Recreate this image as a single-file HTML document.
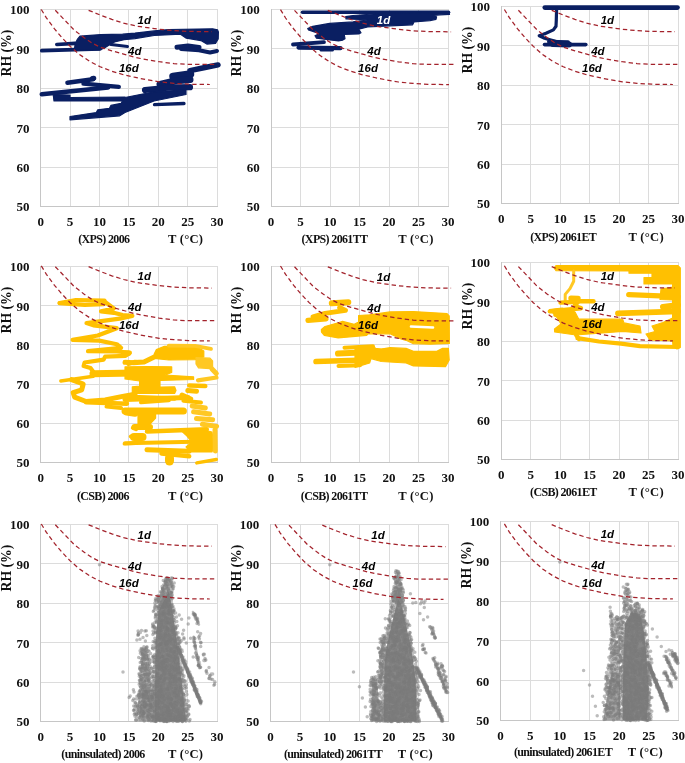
<!DOCTYPE html>
<html><head><meta charset="utf-8"><title>chart</title>
<style>
html,body{margin:0;padding:0;background:#fff;}
body{width:685px;height:763px;overflow:hidden;font-family:"Liberation Serif",serif;}
svg{display:block;position:absolute;left:0;top:0;will-change:transform;opacity:0.999}
.tk{font-family:"Liberation Serif",serif;font-weight:bold;font-size:13px;fill:#111;}
.ax{font-family:"Liberation Serif",serif;font-weight:bold;font-size:12.6px;fill:#111;letter-spacing:0.25px;}
.rh{font-family:"Liberation Serif",serif;font-weight:bold;font-size:13.7px;fill:#111;}
.tt{font-family:"Liberation Serif",serif;font-weight:bold;font-size:12px;fill:#111;letter-spacing:-0.65px;}
.lb{font-family:"Liberation Sans",sans-serif;font-weight:bold;font-style:italic;font-size:11.5px;}
</style></head><body>
<svg width="685" height="763" viewBox="0 0 685 763">
<path d="M70.5 9.0V207.0M99.5 9.0V207.0M128.5 9.0V207.0M158.5 9.0V207.0M187.5 9.0V207.0M217.5 9.0V207.0M40.0 9.5H218.0M40.0 48.5H218.0M40.0 88.5H218.0M40.0 127.5H218.0M40.0 167.5H218.0" stroke="#dcdcdc" stroke-width="1" fill="none" shape-rendering="crispEdges"/>
<path d="M40.5 9.0V207.0M40.0 206.5H218.0" stroke="#c6c6c6" stroke-width="1" fill="none" shape-rendering="crispEdges"/>
<path d="M300.5 9.0V207.0M330.5 9.0V207.0M359.5 9.0V207.0M389.5 9.0V207.0M418.5 9.0V207.0M448.5 9.0V207.0M271.0 9.5H449.0M271.0 48.5H449.0M271.0 88.5H449.0M271.0 127.5H449.0M271.0 167.5H449.0" stroke="#dcdcdc" stroke-width="1" fill="none" shape-rendering="crispEdges"/>
<path d="M271.5 9.0V207.0M271.0 206.5H449.0" stroke="#c6c6c6" stroke-width="1" fill="none" shape-rendering="crispEdges"/>
<path d="M530.5 6.0V204.0M560.5 6.0V204.0M589.5 6.0V204.0M619.5 6.0V204.0M648.5 6.0V204.0M678.5 6.0V204.0M501.0 6.5H679.0M501.0 45.5H679.0M501.0 85.5H679.0M501.0 124.5H679.0M501.0 164.5H679.0" stroke="#dcdcdc" stroke-width="1" fill="none" shape-rendering="crispEdges"/>
<path d="M501.5 6.0V204.0M501.0 203.5H679.0" stroke="#c6c6c6" stroke-width="1" fill="none" shape-rendering="crispEdges"/>
<path d="M70.5 266.0V463.0M99.5 266.0V463.0M128.5 266.0V463.0M158.5 266.0V463.0M187.5 266.0V463.0M217.5 266.0V463.0M40.0 266.5H218.0M40.0 305.5H218.0M40.0 344.5H218.0M40.0 384.5H218.0M40.0 423.5H218.0" stroke="#dcdcdc" stroke-width="1" fill="none" shape-rendering="crispEdges"/>
<path d="M40.5 266.0V463.0M40.0 462.5H218.0" stroke="#c6c6c6" stroke-width="1" fill="none" shape-rendering="crispEdges"/>
<path d="M300.5 266.0V463.0M330.5 266.0V463.0M359.5 266.0V463.0M389.5 266.0V463.0M418.5 266.0V463.0M448.5 266.0V463.0M271.0 266.5H449.0M271.0 305.5H449.0M271.0 344.5H449.0M271.0 384.5H449.0M271.0 423.5H449.0" stroke="#dcdcdc" stroke-width="1" fill="none" shape-rendering="crispEdges"/>
<path d="M271.5 266.0V463.0M271.0 462.5H449.0" stroke="#c6c6c6" stroke-width="1" fill="none" shape-rendering="crispEdges"/>
<path d="M530.5 262.0V460.0M560.5 262.0V460.0M589.5 262.0V460.0M619.5 262.0V460.0M648.5 262.0V460.0M678.5 262.0V460.0M501.0 262.5H679.0M501.0 301.5H679.0M501.0 341.5H679.0M501.0 380.5H679.0M501.0 420.5H679.0" stroke="#dcdcdc" stroke-width="1" fill="none" shape-rendering="crispEdges"/>
<path d="M501.5 262.0V460.0M501.0 459.5H679.0" stroke="#c6c6c6" stroke-width="1" fill="none" shape-rendering="crispEdges"/>
<path d="M70.5 524.0V722.0M99.5 524.0V722.0M128.5 524.0V722.0M158.5 524.0V722.0M187.5 524.0V722.0M217.5 524.0V722.0M40.0 524.5H218.0M40.0 563.5H218.0M40.0 603.5H218.0M40.0 642.5H218.0M40.0 682.5H218.0" stroke="#dcdcdc" stroke-width="1" fill="none" shape-rendering="crispEdges"/>
<path d="M40.5 524.0V722.0M40.0 721.5H218.0" stroke="#c6c6c6" stroke-width="1" fill="none" shape-rendering="crispEdges"/>
<path d="M300.5 524.0V722.0M329.5 524.0V722.0M359.5 524.0V722.0M389.5 524.0V722.0M418.5 524.0V722.0M448.5 524.0V722.0M270.0 524.5H449.0M270.0 563.5H449.0M270.0 603.5H449.0M270.0 642.5H449.0M270.0 682.5H449.0" stroke="#dcdcdc" stroke-width="1" fill="none" shape-rendering="crispEdges"/>
<path d="M270.5 524.0V722.0M270.0 721.5H449.0" stroke="#c6c6c6" stroke-width="1" fill="none" shape-rendering="crispEdges"/>
<path d="M530.5 521.0V721.0M559.5 521.0V721.0M589.5 521.0V721.0M619.5 521.0V721.0M648.5 521.0V721.0M678.5 521.0V721.0M500.0 521.5H679.0M500.0 561.5H679.0M500.0 601.5H679.0M500.0 640.5H679.0M500.0 680.5H679.0" stroke="#dcdcdc" stroke-width="1" fill="none" shape-rendering="crispEdges"/>
<path d="M500.5 521.0V721.0M500.0 720.5H679.0" stroke="#c6c6c6" stroke-width="1" fill="none" shape-rendering="crispEdges"/>
<path d="M41.8 50.6L100.0 48.8" fill="none" stroke="#0a1f62" stroke-width="3.8" stroke-linecap="round" stroke-linejoin="round"/>
<path d="M56.8 44.5L75.0 43.4" fill="none" stroke="#0a1f62" stroke-width="3.6" stroke-linecap="round" stroke-linejoin="round"/>
<path d="M74.4 49.6L75.2 43.5L77.3 39.4L80.0 36.2L100.7 34.6L122.6 34.2L135.0 33.1L154.2 30.9L168.8 29.5L212.6 28.8L217.5 29.8L218.4 32.0L218.2 39.0L215.5 43.4L206.8 44.1L200.9 40.6L186.3 38.2L180.5 34.2L154.2 35.5L135.0 38.6L124.0 39.7L114.6 41.9L110.9 44.1L103.6 48.5L99.2 49.9Z" fill="#0a1f62" stroke="#0a1f62" stroke-width="1.2" stroke-linejoin="round"/>
<path d="M111.0 44.6L127.5 46.5" fill="none" stroke="#0a1f62" stroke-width="3.0" stroke-linecap="round" stroke-linejoin="round"/>
<path d="M177.0 47.3L188.0 46.0L199.0 47.5" fill="none" stroke="#0a1f62" stroke-width="5" stroke-linecap="round" stroke-linejoin="round"/>
<path d="M181.0 49.0L199.0 50.2L210.0 52.5L217.0 51.0" fill="none" stroke="#0a1f62" stroke-width="4" stroke-linecap="round" stroke-linejoin="round"/>
<path d="M218.0 64.9L205.0 67.5L190.0 70.6" fill="none" stroke="#0a1f62" stroke-width="5.4" stroke-linecap="round" stroke-linejoin="round"/>
<path d="M173.0 76.4L190.5 74.0" fill="none" stroke="#0a1f62" stroke-width="7.5" stroke-linecap="round" stroke-linejoin="round"/>
<path d="M160.0 84.5L175.0 81.0L190.0 79.5" fill="none" stroke="#0a1f62" stroke-width="7" stroke-linecap="round" stroke-linejoin="round"/>
<path d="M145.0 90.0L170.0 87.5L190.0 87.2" fill="none" stroke="#0a1f62" stroke-width="6.2" stroke-linecap="round" stroke-linejoin="round"/>
<path d="M125.0 97.5L154.0 91.8L186.0 89.8L186.0 94.5L154.0 101.0L125.0 112.5L119.7 115.8L70.0 119.8L70.0 116.5L96.3 112.6L97.8 109.8L109.5 108.3L110.9 105.4L121.1 103.3L122.6 101.0L54.0 101.0L53.2 94.5L70.0 95.0L70.0 97.5L125.0 97.0Z" fill="#0a1f62" stroke="#0a1f62" stroke-width="1.2" stroke-linejoin="round"/>
<path d="M154.5 104.7L184.0 103.5" fill="none" stroke="#0a1f62" stroke-width="3.3" stroke-linecap="round" stroke-linejoin="round"/>
<path d="M67.5 82.8L93.0 79.3" fill="none" stroke="#0a1f62" stroke-width="4.6" stroke-linecap="round" stroke-linejoin="round"/>
<path d="M92.5 78.4L93.8 78.2" fill="none" stroke="#0a1f62" stroke-width="5" stroke-linecap="round" stroke-linejoin="round"/>
<path d="M83.5 83.6L118.8 86.9" fill="none" stroke="#0a1f62" stroke-width="4.4" stroke-linecap="round" stroke-linejoin="round"/>
<path d="M41.8 94.2L108.0 87.5" fill="none" stroke="#0a1f62" stroke-width="4.6" stroke-linecap="round" stroke-linejoin="round"/>
<path d="M302.5 12.3L448.5 12.3" fill="none" stroke="#0a1f62" stroke-width="3.6" stroke-linecap="round" stroke-linejoin="round"/>
<path d="M345.7 16.6L353.0 15.5L380.0 13.5L449.0 12.5L449.5 14.3L440.0 14.8L431.0 15.6L436.6 16.8L436.0 19.3L430.0 20.6L414.0 21.9L412.6 24.8L379.0 26.3L367.6 27.0L358.8 29.2L361.0 32.8L358.8 33.9L344.2 34.3L345.0 38.7L342.8 40.1L338.4 40.9L316.5 38.2L315.0 35.8L319.4 33.6L308.5 29.9L307.7 28.5L312.8 26.3L329.6 23.4L353.0 21.9L367.6 19.9L360.0 19.5L346.0 18.8Z" fill="#0a1f62" stroke="#0a1f62" stroke-width="1.2" stroke-linejoin="round"/>
<path d="M293.0 44.5L324.0 42.2" fill="none" stroke="#0a1f62" stroke-width="3.8" stroke-linecap="round" stroke-linejoin="round"/>
<path d="M298.5 47.6L340.5 48.2" fill="none" stroke="#0a1f62" stroke-width="4.2" stroke-linecap="round" stroke-linejoin="round"/>
<path d="M321.0 50.3L332.5 50.3" fill="none" stroke="#0a1f62" stroke-width="2.6" stroke-linecap="round" stroke-linejoin="round"/>
<path d="M544.8 7.6L677.5 7.6" fill="none" stroke="#0a1f62" stroke-width="4.7" stroke-linecap="round" stroke-linejoin="round"/>
<path d="M556.6 9.0L556.3 20.0L556.0 26.3L553.4 29.9L546.0 33.3L539.2 35.8L544.6 38.2L556.3 41.6" fill="none" stroke="#0a1f62" stroke-width="3.2" stroke-linecap="round" stroke-linejoin="round"/>
<path d="M544.5 44.6L585.8 44.6" fill="none" stroke="#0a1f62" stroke-width="3.6" stroke-linecap="round" stroke-linejoin="round"/>
<path d="M549.0 41.8L568.0 42.2" fill="none" stroke="#0a1f62" stroke-width="4" stroke-linecap="round" stroke-linejoin="round"/>
<path d="M553.0 44.0L569.0 44.5" fill="none" stroke="#0a1f62" stroke-width="6" stroke-linecap="round" stroke-linejoin="round"/>
<path d="M59.6 303.0L75.9 300.0L104.5 300.6" fill="none" stroke="#ffc000" stroke-width="4.2" stroke-linecap="round" stroke-linejoin="round"/>
<path d="M59.6 303.2L84.6 304.9L103.6 304.2L105.1 301.9L113.8 308.5L101.0 311.4L113.8 312.8L122.6 315.0L132.4 315.9L119.7 318.7L86.5 323.1L93.4 325.3L116.8 328.2L97.8 335.5L72.6 339.9L99.2 340.6L116.8 344.2L121.1 347.9L88.0 351.2L116.8 351.5L129.9 352.7L125.5 355.9L105.1 356.6L103.6 359.6L84.6 362.5L83.6 366.1L90.5 368.0L93.4 372.0" fill="none" stroke="#ffc000" stroke-width="4.2" stroke-linecap="round" stroke-linejoin="round"/>
<path d="M128.4 363.9L135.0 361.8L144.0 362.0" fill="none" stroke="#ffc000" stroke-width="4.2" stroke-linecap="round" stroke-linejoin="round"/>
<path d="M93.0 373.8L135.0 373.0" fill="none" stroke="#ffc000" stroke-width="7" stroke-linecap="round" stroke-linejoin="round"/>
<path d="M60.8 381.0L93.4 376.2" fill="none" stroke="#ffc000" stroke-width="3.4" stroke-linecap="round" stroke-linejoin="round"/>
<path d="M71.5 379.6L83.2 384.0L81.7 389.8L73.2 392.7L74.6 397.1L86.1 401.5L105.1 400.0L122.6 396.4L135.0 394.2" fill="none" stroke="#ffc000" stroke-width="5" stroke-linecap="round" stroke-linejoin="round"/>
<path d="M86.1 402.3L127.0 403.7" fill="none" stroke="#ffc000" stroke-width="4.4" stroke-linecap="round" stroke-linejoin="round"/>
<path d="M106.5 406.6L121.1 408.1" fill="none" stroke="#ffc000" stroke-width="4" stroke-linecap="round" stroke-linejoin="round"/>
<path d="M126.5 412.0L135.0 413.2" fill="none" stroke="#ffc000" stroke-width="7" stroke-linecap="round" stroke-linejoin="round"/>
<path d="M132.8 428.0L136.0 429.2" fill="none" stroke="#ffc000" stroke-width="4" stroke-linecap="round" stroke-linejoin="round"/>
<path d="M130.8 436.5L136.0 436.5" fill="none" stroke="#ffc000" stroke-width="4" stroke-linecap="round" stroke-linejoin="round"/>
<path d="M124.4 443.8L135.0 443.1" fill="none" stroke="#ffc000" stroke-width="3.6" stroke-linecap="round" stroke-linejoin="round"/>
<path d="M154.2 354.0L156.4 349.6L164.4 346.3L195.0 345.8L203.8 351.0L203.8 356.9L195.0 359.6L168.8 360.0L154.2 358.4Z" fill="#ffc000" stroke="#ffc000" stroke-width="1.2" stroke-linejoin="round"/>
<path d="M168.8 345.6L195.0 345.8L211.0 348.8" fill="none" stroke="#ffc824" stroke-width="3.8" stroke-linecap="round" stroke-linejoin="round"/>
<path d="M196.0 357.5L210.0 358.2L212.6 361.0L212.6 367.5L210.0 368.6L198.5 367.8L196.0 364.0Z" fill="#ffc824" stroke="#ffc824" stroke-width="1.2" stroke-linejoin="round"/>
<path d="M212.0 369.0L216.3 373.5" fill="none" stroke="#ffc824" stroke-width="5" stroke-linecap="round" stroke-linejoin="round"/>
<path d="M154.2 356.9L144.0 362.0L133.8 362.7L125.0 362.3" fill="none" stroke="#ffc000" stroke-width="5" stroke-linecap="round" stroke-linejoin="round"/>
<path d="M125.0 353.2L128.5 353.2" fill="none" stroke="#ffc000" stroke-width="5.5" stroke-linecap="round" stroke-linejoin="round"/>
<path d="M125.0 366.8L150.0 366.6L171.7 366.8L171.7 372.5L165.0 375.0L193.6 376.8L193.6 379.5L160.0 380.5L160.0 387.0L174.6 386.8L176.0 390.5L174.6 393.4L132.3 393.4L132.3 386.8L139.6 386.0L139.6 381.0L125.0 379.0Z" fill="#ffc000" stroke="#ffc000" stroke-width="1.2" stroke-linejoin="round"/>
<path d="M198.0 380.3L216.5 377.5" fill="none" stroke="#ffc824" stroke-width="4.2" stroke-linecap="round" stroke-linejoin="round"/>
<path d="M189.2 385.4L205.3 386.1" fill="none" stroke="#ffc000" stroke-width="4.5" stroke-linecap="round" stroke-linejoin="round"/>
<path d="M187.8 390.5L196.5 391.2" fill="none" stroke="#ffc000" stroke-width="5" stroke-linecap="round" stroke-linejoin="round"/>
<path d="M182.0 395.0L190.7 399.0" fill="none" stroke="#ffc000" stroke-width="5" stroke-linecap="round" stroke-linejoin="round"/>
<path d="M125.0 396.8L174.6 398.5" fill="none" stroke="#ffc000" stroke-width="4.5" stroke-linecap="round" stroke-linejoin="round"/>
<path d="M125.0 399.6L187.8 397.4" fill="none" stroke="#ffc000" stroke-width="5" stroke-linecap="round" stroke-linejoin="round"/>
<path d="M141.0 402.3L168.8 400.3" fill="none" stroke="#ffc000" stroke-width="4" stroke-linecap="round" stroke-linejoin="round"/>
<path d="M183.4 400.8L201.0 402.5" fill="none" stroke="#ffc000" stroke-width="4" stroke-linecap="round" stroke-linejoin="round"/>
<path d="M125.0 411.0L183.4 411.0" fill="none" stroke="#ffc000" stroke-width="7" stroke-linecap="round" stroke-linejoin="round"/>
<path d="M138.0 411.0L155.6 411.0L155.6 418.0L150.0 424.0L138.0 424.0Z" fill="#ffc000" stroke="#ffc000" stroke-width="1.2" stroke-linejoin="round"/>
<path d="M134.5 427.0L150.0 427.0" fill="none" stroke="#ffc000" stroke-width="6" stroke-linecap="round" stroke-linejoin="round"/>
<path d="M147.0 431.5L206.8 429.3" fill="none" stroke="#ffc000" stroke-width="4.5" stroke-linecap="round" stroke-linejoin="round"/>
<path d="M134.0 437.0L142.5 437.0" fill="none" stroke="#ffc000" stroke-width="8" stroke-linecap="round" stroke-linejoin="round"/>
<path d="M125.0 443.2L193.6 441.7" fill="none" stroke="#ffc000" stroke-width="4" stroke-linecap="round" stroke-linejoin="round"/>
<path d="M180.5 430.0L200.0 429.0L212.0 432.0L214.0 445.0L212.0 452.0L190.0 452.0L186.0 447.0L192.0 442.0L187.0 436.0Z" fill="#ffc000" stroke="#ffc000" stroke-width="1.2" stroke-linejoin="round"/>
<path d="M147.0 449.7L189.2 451.2" fill="none" stroke="#ffc000" stroke-width="5" stroke-linecap="round" stroke-linejoin="round"/>
<path d="M161.5 453.4L189.2 456.3" fill="none" stroke="#ffc000" stroke-width="4.5" stroke-linecap="round" stroke-linejoin="round"/>
<path d="M169.5 458.0L169.5 461.0" fill="none" stroke="#ffc000" stroke-width="9" stroke-linecap="round" stroke-linejoin="round"/>
<path d="M196.8 462.9L216.3 459.5" fill="none" stroke="#ffc000" stroke-width="3.5" stroke-linecap="round" stroke-linejoin="round"/>
<path d="M192.2 406.0L205.3 408.0" fill="none" stroke="#ffc824" stroke-width="5" stroke-linecap="round" stroke-linejoin="round"/>
<path d="M193.6 411.8L209.7 414.0" fill="none" stroke="#ffc824" stroke-width="5" stroke-linecap="round" stroke-linejoin="round"/>
<path d="M196.5 418.4L212.6 419.8" fill="none" stroke="#ffc824" stroke-width="5" stroke-linecap="round" stroke-linejoin="round"/>
<path d="M202.4 424.2L216.6 426.4" fill="none" stroke="#ffc824" stroke-width="5" stroke-linecap="round" stroke-linejoin="round"/>
<path d="M215.0 430.0L215.3 451.0" fill="none" stroke="#ffc824" stroke-width="5" stroke-linecap="round" stroke-linejoin="round"/>
<path d="M331.8 303.3L348.3 302.3" fill="none" stroke="#ffc000" stroke-width="6" stroke-linecap="round" stroke-linejoin="round"/>
<path d="M339.6 307.5L345.5 310.4L325.0 313.4L313.0 316.8" fill="none" stroke="#ffc000" stroke-width="4.8" stroke-linecap="round" stroke-linejoin="round"/>
<path d="M308.0 320.4L326.0 318.8" fill="none" stroke="#ffc000" stroke-width="5.2" stroke-linecap="round" stroke-linejoin="round"/>
<path d="M312.0 315.5L325.0 316.0L327.0 320.0L313.0 321.5Z" fill="#ffc000" stroke="#ffc000" stroke-width="1.2" stroke-linejoin="round"/>
<path d="M321.4 329.4L325.0 326.5L338.2 322.8L342.6 321.4L354.2 324.3L358.6 322.0L358.6 315.5L369.6 314.8L390.0 311.9L413.4 311.6L447.0 313.6L449.2 316.0L449.4 343.4L430.0 344.2L413.4 343.6L406.0 340.3L401.0 339.0L390.0 333.8L368.0 333.8L366.7 335.3L338.2 337.9L324.3 335.3L321.5 332.0Z" fill="#ffc000" stroke="#ffc000" stroke-width="1.2" stroke-linejoin="round"/>
<path d="M411.0 326.5L433.0 327.5" fill="none" stroke="#fff" stroke-width="2.6" stroke-linecap="round" stroke-linejoin="round"/>
<path d="M349.5 319.3L357.4 319.0L357.4 320.8L353.0 321.8Z" fill="#fff" stroke="#fff" stroke-width="1.2" stroke-linejoin="round"/>
<path d="M344.5 347.7L373.0 346.3" fill="none" stroke="#ffc000" stroke-width="4" stroke-linecap="round" stroke-linejoin="round"/>
<path d="M338.0 353.5L390.0 351.3" fill="none" stroke="#ffc000" stroke-width="6" stroke-linecap="round" stroke-linejoin="round"/>
<path d="M316.0 361.6L365.9 360.0" fill="none" stroke="#ffc000" stroke-width="5.5" stroke-linecap="round" stroke-linejoin="round"/>
<path d="M338.5 365.9L360.0 365.2" fill="none" stroke="#ffc000" stroke-width="4" stroke-linecap="round" stroke-linejoin="round"/>
<path d="M355.0 347.7L374.0 346.2L375.4 348.4L381.3 349.1L390.0 347.7L406.1 348.4L413.4 351.3L436.8 351.3L442.6 348.4L448.4 348.4L449.2 360.0L445.5 366.6L413.4 365.9L406.1 363.0L381.3 361.5L371.0 358.6L369.6 363.0L355.0 367.4Z" fill="#ffc000" stroke="#ffc000" stroke-width="1.2" stroke-linejoin="round"/>
<path d="M556.0 265.6L678.0 265.6L680.3 268.0L680.3 347.5L677.0 349.0L673.0 346.0L672.6 341.0L650.0 340.0L646.0 334.0L655.0 331.5L652.0 326.0L663.0 322.5L672.6 318.0L672.6 300.0L660.0 299.5L661.0 289.0L672.6 287.0L672.6 284.0L644.0 284.0L644.0 277.6L652.0 277.6L652.0 273.2L629.0 273.2L629.0 271.0L556.0 270.6L554.0 268.0Z" fill="#ffc000" stroke="#ffc000" stroke-width="1.2" stroke-linejoin="round"/>
<path d="M573.7 271.0L573.7 281.3L570.0 288.6L565.2 294.4L565.2 300.3" fill="none" stroke="#ffc824" stroke-width="3" stroke-linecap="round" stroke-linejoin="round"/>
<path d="M571.0 298.3L578.0 298.5" fill="none" stroke="#ffc000" stroke-width="5.4" stroke-linecap="round" stroke-linejoin="round"/>
<path d="M576.0 301.2L593.4 301.2" fill="none" stroke="#ffc000" stroke-width="4.6" stroke-linecap="round" stroke-linejoin="round"/>
<path d="M560.5 302.6L578.0 301.8L574.4 306.1L581.0 308.2L549.8 311.4L573.0 310.5L555.4 314.9L573.0 317.8" fill="none" stroke="#ffc000" stroke-width="4.4" stroke-linecap="round" stroke-linejoin="round"/>
<path d="M549.5 309.5L562.0 308.0L575.0 312.0L578.8 319.2L622.6 319.2L624.0 322.9L640.0 326.0L641.0 333.0L622.6 331.4L575.9 335.0L554.7 332.0L554.5 329.0L561.0 324.0L556.0 316.0Z" fill="#ffc000" stroke="#ffc000" stroke-width="1.2" stroke-linejoin="round"/>
<path d="M577.5 338.2L599.0 341.5L621.0 343.6L640.0 346.2L678.0 347.0" fill="none" stroke="#ffc000" stroke-width="4.2" stroke-linecap="round" stroke-linejoin="round"/>
<path d="M576.2 335.0L579.0 339.0" fill="none" stroke="#ffc000" stroke-width="4.4" stroke-linecap="round" stroke-linejoin="round"/>
<path d="M628.8 294.6L678.0 296.6" fill="none" stroke="#ffc000" stroke-width="5.4" stroke-linecap="round" stroke-linejoin="round"/>
<path d="M618.0 313.4L678.0 311.4" fill="none" stroke="#ffc000" stroke-width="5.8" stroke-linecap="round" stroke-linejoin="round"/>
<path d="M663.0 307.0L678.0 305.0" fill="none" stroke="#ffc000" stroke-width="6" stroke-linecap="round" stroke-linejoin="round"/>
<path d="M168.9 591.5L158.3 611.2L155.4 642.7L154.8 721.5L185.9 721.5L181.8 682.1L177.1 642.7L171.8 607.2Z" fill="#7a7a7a" fill-opacity="0.9"/>
<path d="M177.7 647.4L200.6 702.6" stroke="#7a7a7a" stroke-width="3.4" stroke-linecap="round" stroke-opacity="0.85" fill="none"/>
<path d="M193.6 636.8L198.9 666.3" stroke="#7a7a7a" stroke-width="2.6" stroke-linecap="round" stroke-opacity="0.5" fill="none"/>
<path d="M193.0 612.0L198.9 624.6" stroke="#7a7a7a" stroke-width="2.6" stroke-linecap="round" stroke-opacity="0.5" fill="none"/>
<path d="M142.4 690.0L138.3 721.5L154.8 721.5L154.8 690.0Z" fill="#7a7a7a" fill-opacity="0.7"/>
<path d="M148.4 655.6h0M185.3 700.1h0M176.2 720.7h0M143.6 651.5h0M185.8 721.3h0M179.8 709.7h0M177.1 718.8h0M178.0 669.2h0M170.7 598.3h0M173.5 631.8h0M169.4 714.3h0M140.1 694.3h0M165.9 612.1h0M156.6 621.5h0M153.9 626.6h0M159.7 669.0h0M145.7 653.9h0M178.7 721.0h0M159.2 653.5h0M147.4 663.4h0M152.8 645.8h0M180.0 711.9h0M154.4 720.0h0M161.2 662.2h0M165.5 661.6h0M185.6 712.2h0M153.3 708.0h0M147.1 650.8h0M158.2 692.2h0M147.8 679.9h0M162.3 613.2h0M159.8 633.2h0M145.6 701.9h0M139.0 673.8h0M136.9 639.9h0M165.5 634.4h0M165.2 673.3h0M175.9 639.7h0M162.1 666.7h0M145.4 689.8h0M144.3 648.3h0M176.6 654.2h0M175.7 666.6h0M130.2 695.9h0M163.8 595.0h0M139.8 667.9h0M150.0 690.7h0M162.5 656.2h0M144.0 665.0h0M178.6 637.9h0M149.2 659.4h0M147.3 697.6h0M175.3 688.5h0M208.9 678.5h0M147.1 651.4h0M156.4 666.5h0M141.0 667.8h0M181.3 698.3h0M134.0 691.9h0M160.2 664.0h0M167.5 678.7h0M168.8 702.6h0M167.8 623.1h0M146.6 651.4h0M155.9 718.7h0M163.3 598.8h0M176.8 648.5h0M140.2 708.9h0M154.9 638.2h0M180.2 716.0h0M166.3 706.0h0M173.7 586.4h0M155.7 606.2h0M165.1 659.7h0M149.1 679.8h0M162.3 593.0h0M163.0 702.8h0M184.7 714.8h0M161.8 683.2h0M157.1 656.1h0M170.5 717.8h0M149.1 713.6h0M172.6 611.1h0M140.4 690.2h0M155.4 659.6h0M149.2 719.6h0M158.2 608.4h0M146.0 685.1h0M183.6 705.5h0M167.2 629.0h0M198.7 637.0h0M161.9 617.5h0M162.2 720.2h0M159.6 683.4h0M171.3 667.7h0M169.3 674.5h0M166.8 600.0h0M178.3 640.5h0M171.7 714.0h0M169.8 685.6h0M155.0 718.3h0M148.8 657.7h0M161.8 670.0h0M148.1 650.6h0M160.8 667.0h0M142.3 665.3h0M157.9 697.6h0M174.5 656.4h0M177.1 719.6h0M162.6 695.0h0M182.7 679.2h0M210.9 679.0h0M179.6 670.9h0M174.9 651.7h0M142.0 696.7h0M165.3 639.2h0M200.6 642.2h0M166.5 689.1h0M184.2 663.1h0M193.8 684.9h0M151.2 706.5h0M168.0 612.9h0M158.0 667.1h0M187.8 708.5h0M151.1 704.6h0M147.1 692.8h0M144.0 705.8h0M173.3 614.3h0M177.2 672.2h0M175.6 701.7h0M167.3 705.6h0M151.0 668.7h0M166.2 581.7h0M168.5 593.2h0M183.5 694.5h0M158.3 681.0h0M183.2 680.1h0M176.7 658.7h0M184.2 665.7h0M156.0 642.7h0M158.4 614.7h0M173.5 677.1h0M170.5 625.0h0M154.6 607.5h0M190.6 638.3h0M152.5 698.3h0M172.7 620.0h0M146.9 662.9h0M183.7 676.7h0M185.6 663.2h0M143.7 656.4h0M162.7 691.6h0M145.1 668.9h0M145.2 666.7h0M143.1 711.5h0M143.4 683.6h0M196.4 654.3h0M200.0 702.2h0M159.6 708.4h0M170.9 592.5h0M146.6 687.6h0M177.3 663.7h0M184.0 639.1h0M163.5 720.9h0M157.3 668.4h0M173.5 632.1h0M162.1 716.8h0M191.7 681.2h0M167.2 712.0h0M152.9 674.9h0M173.0 717.4h0M146.1 683.9h0M141.2 684.7h0M182.0 669.9h0M144.2 701.9h0M168.2 712.1h0M151.7 677.1h0M157.4 657.3h0M174.5 669.8h0M182.4 719.8h0M171.0 698.6h0M155.1 667.4h0M140.1 697.6h0M143.1 694.7h0M143.3 681.9h0M172.4 684.2h0M184.6 708.9h0M189.8 674.4h0M182.1 662.4h0M165.5 634.4h0M145.1 659.2h0M146.8 705.0h0M196.2 692.7h0M198.4 665.3h0M160.1 720.6h0M176.1 672.2h0M142.3 655.0h0M188.7 713.9h0M163.2 594.5h0M156.6 681.7h0M144.4 687.9h0M184.7 719.9h0M147.5 717.8h0M154.3 680.2h0M153.5 656.3h0M165.4 581.1h0M174.4 704.8h0M145.3 668.9h0M159.9 716.7h0M169.2 600.3h0M159.6 598.6h0M140.4 708.1h0M147.2 689.6h0M160.4 644.0h0M176.5 686.8h0M166.1 585.4h0M179.0 666.4h0M159.7 678.6h0M143.1 652.5h0M166.0 625.7h0M179.4 678.9h0M196.4 692.2h0M180.0 642.4h0M147.2 662.7h0M171.0 678.5h0M181.5 674.6h0M171.7 648.7h0M143.8 657.4h0M157.1 599.1h0M177.4 718.1h0M161.7 660.9h0M143.9 677.1h0M176.3 685.4h0M144.8 674.4h0M170.0 580.2h0M168.3 716.1h0M188.4 674.1h0M153.3 685.5h0M173.9 635.4h0M177.6 700.3h0M159.7 630.3h0M161.0 603.7h0M159.7 597.6h0M158.1 718.4h0M161.2 600.7h0M157.2 693.1h0M180.0 652.4h0M199.6 700.6h0M137.8 697.8h0M154.3 716.6h0M158.4 669.2h0M190.0 674.5h0M133.7 705.9h0M165.3 614.0h0M165.8 582.2h0M156.8 686.8h0M196.3 692.8h0M171.8 676.5h0M179.0 653.6h0M164.8 606.4h0M186.0 711.5h0M191.9 678.4h0M147.8 710.5h0M162.7 589.4h0M199.4 697.6h0M145.6 651.5h0M155.4 616.5h0M155.4 721.2h0M178.1 664.1h0M159.1 624.6h0M187.0 719.8h0M153.1 630.9h0M164.4 660.0h0M154.4 711.4h0M165.1 610.2h0M170.3 702.6h0M166.0 704.9h0M179.4 652.0h0M192.4 678.3h0M162.4 688.7h0M159.1 718.4h0M168.0 587.7h0M141.9 667.4h0M203.9 660.6h0M165.0 642.6h0M157.1 714.4h0M160.8 717.3h0M185.6 715.9h0M146.2 693.1h0M153.1 720.9h0M139.3 704.7h0M167.7 595.3h0M180.9 698.8h0M175.9 699.9h0M170.8 619.0h0M147.3 651.5h0M187.6 700.7h0M192.4 681.3h0M171.1 711.6h0M149.6 709.3h0M161.1 605.8h0M147.4 668.6h0M175.1 695.6h0M174.9 664.2h0M158.4 630.3h0M169.0 655.5h0M159.1 637.7h0M178.3 716.4h0M180.1 672.3h0M141.8 651.0h0M161.2 682.5h0M164.3 612.5h0M148.4 665.5h0M154.3 662.4h0M147.2 696.5h0M188.9 617.9h0M160.1 606.7h0M185.0 710.6h0M142.4 685.8h0M154.9 684.4h0M136.0 699.1h0M142.8 657.7h0M189.1 706.3h0M154.5 665.9h0M154.3 672.7h0M172.6 586.8h0M148.8 686.6h0M175.4 695.5h0M157.1 673.9h0M159.5 658.3h0M139.0 708.8h0M141.5 675.2h0M161.4 618.8h0M193.6 685.0h0M158.9 652.8h0M178.6 649.0h0M141.4 662.0h0M155.1 719.4h0M181.0 717.1h0M167.8 640.0h0M145.5 691.0h0M187.4 716.5h0M168.6 590.2h0M157.3 675.5h0M169.9 598.5h0M180.1 648.6h0M179.5 664.1h0M168.7 590.8h0M145.5 680.7h0M149.4 700.5h0M143.0 687.6h0M165.5 718.4h0M140.9 679.6h0M138.6 712.9h0M185.2 686.2h0M197.9 696.7h0M176.4 617.0h0M171.0 703.7h0M179.6 698.2h0M178.5 672.2h0M183.9 675.7h0M168.5 632.0h0M163.8 687.2h0M164.0 684.4h0M164.6 673.7h0M145.0 707.1h0M148.8 668.3h0M167.9 600.3h0M175.3 640.6h0M161.5 662.3h0M149.6 685.8h0M164.0 680.0h0M154.2 694.0h0M165.6 601.0h0M162.7 588.4h0M172.0 598.7h0M180.4 668.0h0M162.5 689.7h0M164.1 597.9h0M155.6 633.0h0M188.2 623.9h0M198.2 657.7h0M142.4 704.7h0M162.5 719.1h0M213.9 685.3h0M140.0 701.8h0M157.4 630.3h0M161.2 625.0h0M170.2 592.8h0M153.9 671.4h0M195.8 653.3h0M163.1 638.0h0M156.6 667.9h0M136.9 696.2h0M149.0 674.2h0M192.2 681.9h0M179.7 719.9h0M143.9 646.8h0M178.4 648.8h0M160.5 629.1h0M145.7 652.7h0M173.9 714.9h0M174.0 691.7h0M161.2 675.7h0M174.3 620.3h0M175.7 659.3h0M152.5 648.3h0M164.3 700.3h0M175.4 685.6h0M162.9 603.5h0M158.7 666.4h0M206.9 673.3h0M154.9 693.1h0M160.5 605.7h0M153.7 649.1h0M134.3 714.2h0M189.2 675.9h0M166.7 629.7h0M193.6 683.4h0M160.0 618.7h0M181.5 640.6h0M170.7 656.2h0M141.6 684.6h0M178.7 659.2h0M180.7 650.3h0M204.9 660.6h0M178.1 702.8h0M171.4 626.9h0M171.3 611.1h0M178.8 720.3h0M176.9 695.8h0M176.1 627.9h0M159.5 696.7h0M153.2 641.6h0M161.1 619.6h0M163.5 620.9h0M144.2 697.0h0M132.8 700.6h0M142.9 714.8h0M173.5 666.7h0M187.1 716.4h0M147.2 678.6h0M154.0 610.6h0M163.7 690.7h0M167.8 708.9h0M143.3 650.8h0M157.4 682.3h0M159.3 684.8h0M155.0 628.0h0M164.5 662.0h0M160.5 703.5h0M181.9 691.0h0M137.9 635.3h0M179.7 692.7h0M162.0 701.5h0M159.8 676.2h0M149.4 677.1h0M148.7 674.4h0M162.0 591.7h0M139.2 684.3h0M172.9 693.6h0M194.5 687.6h0M146.5 696.0h0M183.3 705.4h0M138.1 631.0h0M168.2 687.2h0M167.4 706.7h0M144.0 647.5h0M161.0 715.1h0M178.0 647.5h0M155.8 701.4h0M156.8 662.2h0M152.3 717.0h0M163.7 594.3h0M167.2 621.6h0M182.1 714.7h0M180.9 716.6h0M162.6 607.2h0M180.9 674.8h0M143.6 654.3h0M171.8 710.7h0M173.1 693.3h0M166.4 667.1h0M173.4 658.6h0M172.4 719.1h0M187.5 672.0h0M181.4 692.3h0M159.5 600.8h0M166.7 606.6h0M167.7 589.3h0M184.2 715.3h0M145.6 684.8h0M163.0 640.1h0M158.3 596.7h0M158.9 680.6h0M200.8 642.6h0M179.5 646.6h0M165.8 578.8h0M183.3 711.1h0M155.4 600.5h0M140.0 685.9h0M142.7 653.2h0M179.5 653.7h0M188.1 700.9h0M173.3 704.7h0M156.4 662.7h0M165.0 608.5h0M199.6 697.8h0M139.5 712.0h0M199.8 700.9h0M166.0 604.2h0M172.2 639.6h0M157.6 658.9h0M144.3 705.2h0M160.8 689.0h0M175.6 633.5h0M144.0 657.8h0M155.0 704.8h0M162.6 600.1h0M183.2 712.7h0M166.1 721.1h0M180.3 714.8h0M187.8 669.4h0M176.7 646.1h0M178.8 644.3h0M158.8 719.2h0M158.8 701.5h0M151.2 715.5h0M169.1 606.5h0M168.9 611.0h0M151.4 696.2h0M146.1 698.1h0M145.5 697.3h0M166.3 718.1h0M194.8 614.3h0M153.0 669.2h0M182.7 663.0h0M148.0 715.8h0M178.0 643.3h0M159.6 617.9h0M176.8 621.4h0M160.1 685.8h0M158.0 704.1h0M163.0 696.6h0M154.8 669.9h0M178.6 648.5h0M164.7 678.8h0M158.5 612.7h0M161.9 691.0h0M150.7 710.3h0M182.5 720.7h0M145.5 696.9h0M195.5 653.1h0M163.9 719.1h0M192.4 681.0h0M182.0 705.1h0M160.2 719.0h0M188.7 675.9h0M155.5 706.9h0M163.0 601.9h0M172.6 629.2h0M162.2 600.0h0M157.5 673.9h0M190.8 676.4h0M146.3 630.8h0M196.3 691.2h0M165.7 631.4h0M158.8 628.4h0M164.3 636.0h0M189.3 721.1h0M167.4 578.8h0M165.8 644.1h0M162.5 636.9h0M146.8 674.4h0M151.0 699.3h0M160.1 630.8h0M149.2 686.8h0M151.0 700.2h0M173.8 718.3h0M144.4 649.5h0M146.1 651.0h0M167.9 689.8h0M149.3 659.2h0M182.5 679.7h0M149.1 669.7h0M185.6 661.7h0M180.0 665.2h0M151.3 707.5h0M148.6 689.7h0M196.9 618.1h0M163.6 707.2h0M160.2 702.7h0M140.1 709.9h0M159.6 690.6h0M177.8 649.1h0M186.5 718.3h0M137.3 706.8h0M173.2 707.5h0M170.4 700.7h0M180.5 687.2h0M144.4 696.8h0M181.9 681.7h0M172.6 640.1h0M168.5 699.7h0M148.9 711.8h0M166.7 586.3h0M160.7 602.1h0M163.4 714.6h0M170.2 623.6h0" fill="none" stroke="#7a7a7a" stroke-width="3.5" stroke-linecap="round" stroke-opacity="0.5"/>
<path d="M140.8 712.6h0M158.2 597.5h0M177.9 643.2h0M171.0 690.9h0M200.7 646.6h0M149.4 663.6h0M190.4 680.1h0M161.9 655.9h0M144.9 696.4h0M159.7 653.9h0M159.8 608.9h0M168.2 592.9h0M173.1 677.9h0M159.6 699.9h0M147.8 696.2h0M152.7 716.7h0M189.8 678.0h0M166.2 643.1h0M166.2 719.8h0M145.7 647.9h0M195.4 648.3h0M142.5 684.6h0M123.0 671.9h0M160.4 720.0h0M162.6 649.8h0M160.7 662.3h0M155.1 605.4h0M183.5 702.6h0M161.0 634.7h0M171.8 593.2h0M170.9 592.9h0M170.7 583.8h0M180.5 672.4h0M158.3 695.4h0M142.6 711.8h0M160.4 599.4h0M182.1 688.3h0M151.4 696.8h0M139.0 696.4h0M129.1 697.6h0M141.1 658.4h0M168.0 695.4h0M196.5 657.4h0M144.1 662.1h0M163.5 627.5h0M181.8 697.5h0M143.5 713.5h0M143.8 659.4h0M153.8 697.7h0M161.7 689.0h0M153.7 633.1h0M184.1 719.6h0M144.2 713.0h0M133.5 710.3h0M179.6 691.6h0M170.7 604.7h0M159.9 657.6h0M170.2 717.9h0M137.5 705.5h0M175.8 662.4h0M158.5 714.4h0M146.1 693.0h0M156.6 622.5h0M155.5 598.8h0M168.5 630.1h0M183.0 656.9h0M199.1 662.2h0M180.2 700.5h0M187.8 670.4h0M171.7 583.8h0M158.4 692.3h0M182.3 656.7h0M181.9 720.6h0M140.3 683.0h0M191.9 679.5h0M155.6 671.8h0M171.1 586.2h0M144.9 707.1h0M177.3 720.1h0M181.6 619.3h0M165.0 710.3h0M188.2 672.3h0M149.8 678.4h0M169.3 710.4h0M167.1 617.7h0M165.1 581.7h0M150.3 707.6h0M142.7 719.1h0M163.8 674.0h0M169.0 623.0h0M142.1 685.4h0M173.1 612.1h0M164.5 680.4h0M176.1 658.5h0M164.7 601.6h0M161.1 622.6h0M164.8 711.5h0M154.4 687.1h0M161.5 689.2h0M158.5 612.2h0M181.8 721.0h0M144.2 699.7h0M170.0 592.8h0M147.2 716.3h0M164.2 598.8h0M168.1 589.8h0M152.9 671.4h0M154.8 714.5h0M194.4 646.2h0M143.0 666.8h0M171.7 606.5h0M169.0 692.9h0M143.6 670.2h0M157.6 679.2h0M174.1 654.0h0M162.5 650.8h0M174.7 680.8h0M167.5 581.1h0M155.7 714.0h0M160.6 691.8h0M167.7 654.6h0M162.4 612.8h0M149.5 682.3h0M167.0 584.5h0M197.8 695.0h0M170.5 716.3h0M148.4 700.5h0M142.7 689.7h0M176.6 637.7h0M155.9 717.0h0M171.2 600.1h0M169.3 695.3h0M178.9 712.1h0M143.5 669.3h0M180.5 720.4h0M185.0 681.4h0M145.4 640.9h0M158.0 651.0h0M163.2 651.8h0M165.8 601.4h0M176.2 711.7h0M164.2 665.8h0M199.6 667.8h0M163.1 713.9h0M179.1 660.6h0M162.5 604.6h0M169.5 670.5h0M156.3 673.7h0M163.5 596.6h0M173.5 707.2h0M182.1 686.8h0M178.5 697.4h0M178.5 698.3h0M168.2 596.5h0M162.4 642.3h0M166.5 714.4h0M165.6 595.7h0M163.1 671.3h0M158.8 718.4h0M158.4 694.5h0M161.3 655.4h0M145.3 698.5h0M161.7 675.7h0M145.5 668.0h0M197.2 696.3h0M165.8 587.4h0M163.1 639.3h0M155.5 675.9h0M197.5 620.7h0M158.9 645.4h0M176.8 635.8h0M155.8 686.5h0M154.5 662.0h0M176.9 697.2h0M166.3 714.1h0M150.9 704.7h0M143.3 696.4h0M139.3 676.3h0M152.9 714.4h0M194.5 685.7h0M164.9 629.9h0M165.8 707.0h0M143.0 661.9h0M143.4 689.5h0M171.2 601.3h0M175.2 644.0h0M170.1 690.0h0M141.2 696.3h0M156.6 657.1h0M170.0 683.4h0M172.9 705.1h0M161.2 595.0h0M140.8 681.4h0M153.9 704.0h0M164.2 721.3h0M175.9 688.5h0M163.8 720.6h0M140.1 650.7h0M168.8 708.1h0M164.1 588.8h0M165.7 665.7h0M161.7 662.7h0M143.7 706.3h0M179.1 715.0h0M171.9 675.8h0M166.3 659.7h0M143.9 664.7h0M179.9 641.7h0M173.8 624.2h0M145.6 663.3h0M143.6 692.9h0M163.0 668.6h0M163.7 719.8h0M158.3 717.4h0M141.5 706.1h0M144.0 717.3h0M157.5 632.6h0M171.0 637.5h0M157.0 694.0h0M179.8 715.9h0M170.7 651.6h0M144.9 693.1h0M142.1 708.1h0M180.8 710.7h0M140.9 691.5h0M153.7 627.1h0M196.9 689.5h0M186.0 711.0h0M162.4 702.5h0M169.3 613.3h0M156.9 660.3h0M159.0 607.8h0M197.7 631.8h0M192.6 684.8h0M197.3 695.6h0M149.1 662.4h0M171.7 699.1h0M158.4 665.3h0M152.9 625.2h0M174.0 670.9h0M176.2 694.8h0M149.5 674.2h0M146.8 653.7h0M148.4 718.1h0M154.6 657.6h0M175.9 668.4h0M174.9 708.0h0M170.4 648.9h0M158.0 716.8h0M168.2 579.9h0M162.6 651.4h0M178.5 714.3h0M145.5 674.7h0M158.4 713.1h0M164.0 593.2h0M150.2 684.0h0M168.1 697.6h0M160.6 678.2h0M154.1 681.3h0M175.2 711.8h0M167.8 642.1h0M171.0 720.5h0M141.5 683.6h0M166.4 719.4h0M158.5 601.3h0M170.6 703.8h0M166.0 716.6h0M155.5 695.1h0M171.0 596.9h0M169.3 721.0h0M158.9 653.0h0M166.5 673.9h0M173.4 719.7h0M167.8 594.5h0M172.2 639.0h0M174.8 702.4h0M214.6 684.2h0M167.9 597.3h0M173.1 674.1h0M168.9 719.7h0M159.2 615.0h0M136.4 720.3h0M164.4 586.1h0M185.9 709.0h0M160.0 720.7h0M155.4 689.8h0M172.4 632.1h0M169.7 680.2h0M166.0 594.5h0M166.8 596.9h0M162.1 611.7h0M167.6 636.9h0M147.5 670.7h0M162.0 605.1h0M164.8 588.3h0M175.6 656.8h0M141.8 679.3h0M172.1 594.8h0M140.1 666.7h0M160.6 698.8h0M170.9 622.5h0M199.6 664.4h0M147.3 672.3h0M144.8 682.8h0M150.9 720.9h0M197.0 623.5h0M168.2 653.8h0M194.9 638.6h0M161.4 599.9h0M148.5 720.6h0M136.6 714.3h0M163.0 699.2h0M173.3 628.7h0M173.9 651.4h0M146.5 696.0h0M164.2 662.0h0M187.3 670.6h0M200.6 633.6h0M149.5 671.1h0M182.7 717.0h0M142.9 694.1h0M169.0 629.1h0M135.6 720.3h0M170.5 674.2h0M160.4 596.5h0M175.5 647.3h0M144.7 689.6h0M146.1 704.5h0M198.3 665.7h0M183.7 694.6h0M166.6 711.9h0M99.5 564.7h0M171.6 665.1h0M170.7 640.5h0M142.3 652.7h0M173.9 653.4h0M159.4 694.9h0M176.3 678.9h0M148.9 711.3h0M139.3 717.4h0M185.4 719.0h0M162.0 718.3h0M182.6 659.6h0M140.8 686.8h0M162.0 720.7h0M162.4 614.2h0M143.2 701.6h0M142.9 696.7h0M165.1 714.6h0M173.1 611.3h0M196.0 689.5h0M169.4 629.7h0M171.1 595.2h0M165.9 695.4h0M194.9 614.6h0M165.8 583.6h0M166.9 582.6h0M142.0 713.1h0M192.1 679.9h0M142.9 712.1h0M173.6 630.4h0M158.1 713.0h0M193.0 681.3h0M163.8 662.8h0M174.3 622.5h0M178.5 720.9h0M190.7 680.9h0M159.2 653.6h0M158.4 678.4h0M165.4 633.7h0M173.5 708.8h0M181.4 713.3h0M168.2 645.7h0M177.0 711.1h0M137.0 704.1h0M144.5 681.9h0M193.9 614.6h0M178.6 650.8h0M141.5 669.4h0M141.6 649.3h0M159.5 634.9h0M161.7 653.3h0M174.6 676.4h0M168.3 641.9h0M165.9 595.5h0M152.9 657.2h0M181.6 655.6h0M162.1 603.9h0M168.5 634.9h0M169.1 712.0h0M177.2 717.2h0M155.9 696.6h0M166.4 661.2h0M199.7 635.6h0M172.4 616.3h0M197.5 696.7h0M198.5 695.3h0M167.1 578.5h0M157.8 619.1h0M168.6 589.1h0M175.4 716.8h0M146.6 677.7h0M148.2 680.3h0M153.7 699.7h0M172.0 583.0h0M183.4 662.3h0M183.0 681.0h0M142.2 693.1h0M145.6 669.2h0M151.1 714.7h0M153.8 676.8h0M177.8 686.8h0M152.4 698.9h0M163.5 593.9h0M143.3 694.6h0M194.2 689.6h0M176.2 632.8h0M172.1 606.8h0M179.6 650.5h0M158.0 707.6h0M159.6 699.5h0M175.4 703.0h0M157.4 718.0h0M182.2 721.4h0M171.0 622.5h0M174.3 660.8h0M179.0 649.4h0M167.2 721.4h0M178.5 679.5h0M156.0 615.3h0M179.2 686.0h0M138.7 694.3h0M173.8 710.0h0M147.9 684.8h0M174.1 669.3h0M197.8 694.4h0M182.9 679.9h0M164.3 607.7h0M185.5 665.3h0M142.7 664.8h0M183.0 697.0h0M194.7 642.5h0M173.6 610.4h0M178.7 709.6h0M147.9 696.3h0M144.2 656.7h0M163.9 706.8h0M183.1 659.9h0M149.0 674.9h0M139.9 680.4h0M155.7 647.8h0M141.4 677.9h0M158.6 660.6h0M141.6 696.6h0M140.8 687.2h0M169.1 717.2h0M155.0 705.2h0M144.8 706.4h0M181.1 706.6h0M143.3 649.9h0M143.8 664.9h0M180.3 651.9h0M145.9 671.0h0M175.1 682.0h0M150.1 704.9h0M152.9 706.4h0M150.9 696.4h0M179.2 653.1h0M158.8 660.6h0M161.1 631.1h0M192.4 682.2h0M175.8 627.4h0M198.2 659.8h0M171.9 634.5h0M162.6 589.2h0M156.7 709.5h0M183.9 637.8h0M144.7 686.3h0M171.9 626.3h0M182.2 699.3h0M193.2 657.1h0M145.5 691.1h0M142.5 653.7h0M177.9 716.4h0M145.0 681.8h0M168.3 651.8h0M167.4 659.6h0M177.5 625.7h0M159.3 656.4h0M148.0 710.5h0M171.4 615.1h0M144.2 652.1h0M143.4 666.8h0M158.0 681.9h0M144.5 674.2h0M182.6 675.8h0M180.6 667.2h0M177.2 704.5h0M203.5 655.0h0M145.5 665.5h0M192.0 683.2h0M160.5 612.5h0M169.2 636.4h0M162.1 666.2h0M141.0 708.2h0M156.8 702.6h0M175.1 675.5h0M168.7 585.0h0M143.0 637.5h0M168.3 595.4h0M172.5 638.8h0M174.9 643.7h0M178.6 715.7h0M162.3 667.5h0M147.5 658.7h0M163.9 665.0h0M160.4 637.9h0M161.9 626.7h0M145.8 676.2h0M166.7 584.4h0M166.4 587.1h0M165.2 619.6h0M167.6 608.0h0M160.5 604.5h0M158.4 703.3h0M171.4 657.1h0M165.1 668.7h0M158.0 606.7h0M180.9 689.0h0M160.5 600.8h0M175.3 681.8h0M141.6 710.6h0M139.8 690.7h0M166.8 710.1h0M178.8 708.7h0M155.6 599.2h0M200.7 703.8h0M140.1 681.2h0M143.6 662.9h0M159.8 634.4h0M144.5 659.5h0M171.7 630.5h0M172.3 706.4h0M163.8 598.8h0M174.2 583.1h0M165.7 602.3h0M142.2 694.6h0M186.1 684.8h0M154.6 628.2h0M161.8 720.1h0M154.4 711.6h0M156.2 721.2h0M158.8 655.8h0M144.5 660.0h0M156.6 702.0h0M200.9 642.7h0M141.3 684.8h0M141.3 667.6h0M141.8 686.5h0M164.4 705.2h0M193.3 614.1h0M157.0 713.4h0M171.0 593.9h0M146.8 673.7h0M147.8 699.3h0M163.8 592.0h0M168.9 581.9h0M181.9 719.1h0M169.7 635.3h0M160.7 695.6h0M141.0 671.5h0M140.0 669.1h0M151.7 668.3h0M174.6 692.4h0M172.8 675.7h0M160.7 719.1h0M167.5 684.0h0M152.0 690.2h0M164.5 599.8h0M169.2 583.0h0M157.3 656.6h0M164.9 696.0h0M146.6 657.3h0M143.5 655.0h0M154.5 704.9h0M146.3 655.8h0M164.5 601.5h0M166.1 645.9h0M145.3 657.0h0M195.6 688.5h0M165.3 581.3h0M167.1 604.1h0M171.7 603.8h0M167.0 627.8h0M166.6 648.2h0M137.8 711.7h0M170.2 714.0h0M165.4 694.2h0M163.6 716.8h0M185.0 716.5h0M159.2 603.0h0M166.2 582.3h0M172.7 612.5h0M169.0 691.8h0M142.3 666.5h0M204.4 654.3h0M148.4 700.5h0M160.1 644.2h0" fill="none" stroke="#7a7a7a" stroke-width="3.5" stroke-linecap="round" stroke-opacity="0.5"/>
<path d="M171.5 596.8h0M141.5 680.1h0M199.6 697.8h0M193.7 639.7h0M168.8 610.6h0M163.7 672.4h0M167.3 650.4h0M161.3 637.6h0M157.6 673.0h0M156.2 702.3h0M155.2 710.2h0M151.2 685.3h0M184.0 696.9h0M162.0 697.6h0M145.6 677.1h0M143.0 708.9h0M171.3 668.9h0M203.4 654.3h0M194.5 690.5h0M183.5 694.8h0M161.8 607.3h0M173.9 617.6h0M149.7 709.6h0M148.8 668.8h0M190.5 676.9h0M158.9 634.9h0M135.0 702.8h0M160.2 595.7h0M169.3 686.2h0M175.5 628.4h0M150.8 702.7h0M140.0 669.0h0M143.8 713.0h0M154.8 654.4h0M164.9 634.6h0M168.1 579.6h0M139.6 702.3h0M170.9 586.6h0M170.2 675.4h0M152.8 701.5h0M143.4 655.6h0M185.9 715.1h0M186.8 704.6h0M166.9 711.6h0M183.0 709.6h0M184.0 701.3h0M193.1 683.2h0M163.8 663.2h0M165.9 710.6h0M168.6 614.0h0M170.9 699.7h0M148.5 699.1h0M172.0 699.6h0M165.0 583.5h0M159.9 718.9h0M168.6 640.9h0M163.2 660.2h0M145.4 656.2h0M197.9 694.5h0M165.1 596.4h0M146.2 667.2h0M166.1 660.9h0M161.3 645.9h0M176.5 710.0h0M178.0 648.4h0M175.7 676.9h0M157.3 687.0h0M162.9 588.9h0M177.0 711.3h0M145.1 670.7h0M164.9 637.8h0M184.4 699.7h0M192.3 682.7h0M167.6 719.5h0M174.7 688.4h0M155.6 666.5h0M156.9 715.5h0M164.0 591.0h0M158.2 673.4h0M180.2 684.7h0M160.0 651.6h0M167.1 622.5h0M165.2 719.6h0M157.0 667.2h0M165.0 665.1h0M142.3 672.2h0M186.4 691.4h0M181.4 682.2h0M200.2 667.3h0M155.4 677.0h0M170.7 643.1h0M181.1 714.2h0M150.7 682.6h0M174.3 638.3h0M195.4 646.2h0M193.3 682.3h0M154.2 660.2h0M170.8 606.7h0M173.8 642.4h0M166.0 641.8h0M143.3 656.7h0M175.1 717.4h0M172.3 589.3h0M159.2 657.1h0M153.0 716.8h0M164.0 721.5h0M162.8 657.0h0M162.3 605.5h0M181.4 679.0h0M142.9 659.3h0M147.2 655.7h0M176.4 696.8h0M170.6 607.8h0M173.5 627.8h0M167.9 579.5h0M160.8 666.7h0M153.9 667.5h0M141.9 660.6h0M146.5 648.9h0M160.4 623.4h0M167.7 702.6h0M157.9 595.8h0M174.0 658.8h0M162.9 591.1h0M166.0 605.9h0M174.4 626.4h0M161.8 624.2h0M149.2 659.8h0M155.6 682.4h0M168.4 606.0h0M183.5 661.2h0M174.8 692.4h0M156.6 696.7h0M166.8 720.1h0M183.8 720.2h0M156.3 689.2h0M170.2 681.9h0M139.2 695.2h0M191.1 678.2h0M168.8 700.1h0M169.1 672.4h0M171.8 578.6h0M164.3 599.3h0M176.1 712.2h0M156.7 682.5h0M183.5 683.7h0M171.9 696.3h0M173.5 678.9h0M137.7 714.0h0M150.3 700.0h0M138.7 657.6h0M163.7 674.4h0M166.5 660.2h0M161.0 714.1h0M160.2 647.5h0M145.6 657.8h0M157.3 696.8h0M173.1 721.4h0M154.3 661.7h0M166.9 689.3h0M142.6 704.4h0M151.0 710.0h0M193.6 683.0h0M174.8 627.0h0M167.5 677.4h0M146.9 673.8h0M143.9 655.9h0M179.5 640.0h0M171.6 580.8h0M172.7 702.6h0M143.6 686.6h0M167.6 588.5h0M168.3 659.9h0M160.0 626.6h0M187.0 711.6h0M173.7 679.7h0M169.0 665.7h0M150.4 708.3h0M139.7 698.2h0M158.4 601.6h0M155.9 721.5h0M180.5 716.9h0M170.3 704.3h0M160.3 624.9h0M158.9 636.9h0M175.7 676.5h0M138.4 634.1h0M180.5 703.3h0M158.9 689.8h0M141.3 716.1h0M165.6 617.3h0M170.1 606.6h0M174.1 648.3h0M160.8 678.0h0M151.9 710.8h0M142.5 689.0h0M140.7 677.4h0M163.5 585.0h0M162.0 608.1h0M171.4 674.5h0M164.7 660.6h0M160.6 707.3h0M162.9 674.8h0M191.0 676.8h0M165.1 689.2h0M169.9 619.3h0M210.2 675.4h0M177.4 667.1h0M159.6 695.7h0M141.8 654.8h0M182.5 721.4h0M161.6 694.7h0M159.8 677.7h0M161.6 691.4h0M171.4 577.9h0M181.1 712.6h0M156.6 705.6h0M171.9 668.8h0M167.2 628.8h0M209.6 678.2h0M163.6 603.0h0M138.4 708.8h0M166.9 592.2h0M143.0 655.5h0M163.3 645.4h0M168.7 635.0h0M169.3 639.3h0M156.5 714.4h0M172.3 685.5h0M174.5 679.8h0M152.6 676.4h0M193.1 682.6h0M148.5 693.5h0M159.6 668.7h0M169.8 677.5h0M155.7 632.6h0M167.4 602.6h0M140.3 693.5h0M142.7 655.2h0M181.0 670.2h0M148.9 707.7h0M152.9 688.3h0M164.9 645.4h0M155.6 644.6h0M179.2 637.9h0M197.6 618.9h0M171.9 687.2h0M158.7 700.5h0M155.5 647.0h0M178.4 657.1h0M141.0 694.4h0M145.9 691.2h0M169.3 639.8h0M154.6 659.6h0M134.5 709.2h0M170.3 715.5h0M148.4 679.9h0M176.1 649.6h0M189.3 676.3h0M167.4 647.5h0M165.3 644.3h0M197.1 691.7h0M146.9 646.7h0M165.6 716.2h0M167.3 584.8h0M163.5 668.0h0M200.2 700.7h0M163.8 691.8h0M160.5 591.7h0M177.3 690.4h0M152.6 693.3h0M146.9 706.7h0M190.0 719.6h0M181.2 704.9h0M169.7 588.2h0M201.5 701.3h0M158.5 600.4h0M171.2 605.3h0M154.2 692.4h0M162.1 586.6h0M171.7 610.0h0M161.3 719.0h0M176.4 721.0h0M136.9 717.2h0M184.5 663.9h0M177.6 693.3h0M168.7 655.2h0M163.0 596.2h0M176.5 640.4h0M158.8 606.0h0M180.2 690.6h0M159.4 684.9h0M175.6 650.2h0M170.5 714.3h0M168.3 660.4h0M171.7 705.4h0M141.3 678.1h0M137.2 719.4h0M136.0 719.6h0M146.5 706.3h0M171.8 591.7h0M167.9 686.7h0M206.4 670.6h0M185.3 664.5h0M148.3 675.8h0M166.9 642.2h0M143.4 663.8h0M198.4 696.2h0M182.0 720.7h0M179.6 647.2h0M167.4 604.5h0M169.4 701.2h0M157.5 705.3h0M177.7 674.0h0M193.8 641.8h0M199.2 697.9h0M179.7 649.0h0M186.9 694.4h0M147.9 665.7h0M142.1 674.3h0M171.9 591.3h0M148.3 694.6h0M161.3 606.9h0M155.4 693.6h0M146.0 650.5h0M151.7 681.5h0M140.6 669.8h0M168.1 600.2h0M142.5 664.1h0M181.3 701.0h0M163.5 710.9h0M166.4 645.1h0M140.2 697.2h0M166.5 721.5h0M169.6 704.9h0M143.2 684.8h0M159.0 630.4h0M154.9 622.6h0M162.0 639.7h0M170.0 580.1h0M167.4 670.3h0M158.1 717.9h0M170.4 669.9h0M158.0 677.7h0M155.7 614.3h0M172.9 714.2h0M149.8 704.4h0M150.9 705.7h0M145.2 680.2h0M167.1 636.0h0M167.0 659.8h0M168.8 595.6h0M164.9 668.7h0M142.9 649.0h0M162.2 606.3h0M160.5 664.2h0M160.4 622.0h0M178.6 690.5h0M146.3 665.2h0M139.3 707.1h0M140.0 639.3h0M161.9 676.3h0M148.6 680.9h0M152.9 656.3h0M152.3 695.9h0M162.5 663.7h0M185.1 688.4h0M153.8 686.8h0M158.2 690.8h0M166.7 698.8h0M170.5 588.6h0M164.2 680.6h0M196.8 655.4h0M176.6 713.8h0M198.0 695.0h0M178.0 663.9h0M160.1 689.4h0M143.5 654.7h0M149.1 701.1h0M139.2 692.0h0M133.7 699.1h0M144.2 707.4h0M162.1 604.0h0M169.2 702.1h0M194.8 686.0h0M155.3 618.1h0M163.0 711.1h0M176.7 720.6h0M161.6 643.9h0M171.0 714.8h0M168.1 599.6h0M160.1 702.4h0M148.2 693.5h0M158.8 652.2h0M161.6 712.7h0M167.7 579.9h0M142.0 696.8h0M158.0 627.2h0M172.1 584.2h0M154.8 655.0h0M142.9 686.2h0M143.9 695.1h0M182.0 700.7h0M145.0 685.6h0M185.4 718.8h0M188.3 672.8h0M160.2 706.8h0M179.0 682.9h0M170.9 700.9h0M144.7 702.9h0M141.9 694.8h0M178.9 719.3h0M153.5 718.6h0M178.1 681.4h0M169.0 581.3h0M163.4 604.5h0M150.2 666.6h0M174.8 634.9h0M168.1 643.0h0M166.6 600.5h0M176.4 680.9h0M137.4 718.3h0M142.0 654.8h0M173.8 702.7h0M179.6 683.4h0M144.4 702.9h0M160.1 665.7h0M163.0 662.4h0M178.5 713.9h0M171.5 694.6h0M171.7 630.1h0M170.2 720.3h0M163.8 665.1h0M173.5 610.9h0M171.3 701.8h0M171.8 596.0h0M142.9 668.2h0M149.1 698.7h0M154.1 693.7h0M167.3 578.1h0M184.3 704.3h0M161.5 708.4h0M163.6 611.7h0M174.4 688.5h0M156.1 620.5h0M183.2 693.7h0M158.4 599.2h0M183.7 660.6h0M178.3 694.9h0M166.0 691.5h0M167.6 647.0h0M182.5 682.5h0M170.4 660.4h0M170.6 638.5h0M150.8 717.4h0M188.0 709.7h0M177.1 669.7h0M169.7 622.3h0M164.2 661.8h0M154.0 690.1h0M164.1 716.3h0M168.1 655.1h0M189.4 675.9h0M165.3 582.1h0M196.7 694.2h0M183.6 630.2h0M135.2 706.2h0M195.2 615.6h0M152.8 692.3h0M167.9 706.5h0M165.8 618.2h0M173.5 653.2h0M171.4 595.1h0M145.2 680.2h0M162.1 715.0h0M166.4 619.1h0M144.3 707.9h0M161.8 601.9h0M154.1 685.3h0M163.8 614.5h0M168.4 621.0h0M178.8 678.4h0M159.4 692.9h0M142.2 709.0h0M155.7 701.7h0M172.2 650.3h0M185.1 680.8h0M158.7 649.7h0M167.3 582.7h0M140.4 653.2h0M145.8 708.9h0M154.5 686.9h0M146.4 674.7h0M168.7 697.1h0M141.3 669.0h0M185.2 717.2h0M138.4 709.8h0M145.5 686.8h0M148.1 692.3h0M175.1 676.5h0M180.9 673.5h0M165.2 719.5h0M135.9 714.1h0M174.1 659.2h0M151.0 683.9h0M164.7 718.0h0M176.4 705.5h0M139.6 674.4h0M176.7 689.9h0M172.2 666.8h0M158.6 606.6h0M198.1 656.9h0M164.0 682.9h0M152.9 688.9h0M156.9 682.1h0M146.7 669.3h0M165.9 622.9h0M182.4 702.4h0M171.0 650.7h0M205.0 658.6h0M162.7 627.3h0M164.5 675.0h0M152.0 697.5h0M171.4 583.3h0M156.6 640.8h0M157.4 657.5h0M138.2 695.8h0M161.8 664.3h0M160.1 651.7h0M150.6 689.6h0M154.9 603.1h0M180.5 687.7h0M174.1 680.7h0M200.4 699.7h0M174.0 702.6h0M174.1 630.5h0M194.0 637.7h0M163.8 696.2h0M178.7 643.6h0M166.1 711.6h0M162.0 645.0h0M167.1 708.6h0M146.7 705.8h0M162.0 702.7h0M185.1 695.9h0M168.1 661.6h0M173.0 681.6h0M154.6 642.2h0M186.1 667.0h0M169.6 710.3h0M173.3 662.0h0M160.6 692.7h0M162.5 663.0h0M146.5 679.9h0M165.8 720.8h0M212.6 679.5h0M178.9 647.7h0M181.7 701.8h0M154.2 683.9h0M169.1 715.1h0M165.0 678.6h0M139.4 680.3h0M182.3 717.6h0M144.2 674.3h0M173.5 645.3h0M162.6 620.6h0M171.0 585.0h0M173.1 691.3h0M152.6 627.0h0M161.4 710.1h0M165.3 604.3h0M209.4 678.3h0M184.6 660.1h0M176.5 691.1h0M156.4 683.2h0M173.5 707.4h0M139.6 702.3h0M161.6 685.5h0M162.1 646.7h0M164.6 671.5h0M144.2 655.9h0M171.9 607.0h0M142.6 678.4h0M183.7 685.1h0M168.1 714.8h0M183.2 720.0h0M148.2 716.3h0M169.5 642.2h0M147.6 659.3h0M150.1 672.8h0M149.6 688.5h0M141.5 653.4h0M163.7 717.0h0M159.8 668.1h0M191.3 678.1h0M165.0 716.7h0M171.1 699.0h0M176.4 668.9h0M166.2 589.3h0M160.8 605.9h0M159.2 623.2h0M158.7 665.1h0M147.6 688.8h0M172.7 714.9h0M141.3 674.5h0M158.8 644.4h0M178.1 657.2h0M177.3 694.3h0" fill="none" stroke="#7a7a7a" stroke-width="3.5" stroke-linecap="round" stroke-opacity="0.5"/>
<path d="M151.7 661.6h0M158.8 615.8h0M144.1 690.8h0M196.0 689.1h0M167.8 584.4h0M205.8 660.0h0M168.0 629.0h0M195.8 619.1h0M140.0 712.0h0M165.0 701.2h0M173.7 718.7h0M174.8 651.4h0M171.3 712.4h0M171.2 596.8h0M143.2 695.3h0M157.9 686.1h0M140.2 714.9h0M136.7 714.2h0M173.2 588.7h0M142.6 700.8h0M174.1 668.9h0M163.0 661.1h0M187.2 669.3h0M140.9 687.2h0M168.8 715.9h0M161.8 708.8h0M170.3 718.4h0M147.3 704.3h0M140.5 683.7h0M154.9 711.4h0M140.4 682.3h0M153.9 657.5h0M167.5 657.9h0M172.6 586.2h0M143.7 713.7h0M174.7 640.7h0M161.4 593.0h0M157.5 705.1h0M134.9 713.3h0M182.9 692.8h0M174.3 709.9h0M146.3 688.3h0M200.6 701.2h0M142.8 669.6h0M144.2 720.9h0M140.3 693.7h0M142.5 675.3h0M166.0 635.8h0M142.8 716.3h0M165.9 667.4h0M144.8 650.3h0M165.4 585.6h0M187.3 715.9h0M170.9 712.8h0M143.4 671.0h0M178.3 695.6h0M155.4 631.3h0M189.0 706.1h0M143.9 659.4h0M162.4 648.4h0M165.4 643.8h0M175.2 629.5h0M206.2 671.6h0M192.6 682.7h0M214.8 681.8h0M158.0 617.1h0M195.2 645.6h0M144.6 706.5h0M162.4 601.8h0M164.0 602.3h0M166.5 714.0h0M171.5 607.1h0M162.4 588.2h0M144.1 679.0h0M174.8 677.6h0M170.7 652.0h0M157.1 602.4h0M174.8 657.4h0M167.6 641.8h0M135.0 716.2h0M142.3 688.0h0M160.9 686.6h0M143.2 653.8h0M161.2 630.3h0M156.9 718.2h0M170.4 592.1h0M146.8 659.7h0M184.1 700.8h0M158.7 650.5h0M174.9 661.0h0M145.3 652.7h0M140.5 691.8h0M171.4 606.3h0M149.0 688.4h0M141.5 671.2h0M153.4 690.1h0M146.6 657.2h0M143.1 660.0h0M148.9 691.5h0M165.9 593.1h0M172.4 632.2h0M161.8 668.9h0M169.8 593.4h0M152.0 707.4h0M178.5 654.0h0M170.8 581.7h0M175.6 613.0h0M198.1 622.0h0M182.4 673.3h0M183.1 668.4h0M137.7 709.5h0M156.9 675.4h0M195.2 617.4h0M169.9 657.5h0M162.8 694.4h0M188.7 714.8h0M169.3 639.1h0M159.1 617.4h0M181.5 700.0h0M169.7 672.7h0M144.1 671.2h0M142.1 652.9h0M150.4 685.7h0M165.0 602.4h0M153.3 611.6h0M175.8 709.1h0M166.7 586.7h0M160.1 619.8h0M188.5 671.9h0M176.7 707.3h0M167.7 688.8h0M186.2 687.8h0M160.0 644.1h0M167.7 630.1h0M148.1 678.5h0M157.7 646.1h0M155.4 716.1h0M156.3 608.1h0M167.8 618.4h0M149.2 651.5h0M171.1 644.1h0M212.6 674.1h0M187.5 670.7h0M186.0 719.7h0M141.4 715.1h0M159.6 714.9h0M182.2 716.4h0M145.6 684.8h0M157.4 713.6h0M159.2 640.1h0M138.8 706.0h0M171.4 674.5h0M170.3 640.1h0M166.6 670.4h0M150.6 653.6h0M143.5 668.9h0M164.5 706.0h0M178.2 644.7h0M158.0 650.9h0M160.8 690.1h0M170.4 716.1h0M157.3 695.5h0M168.4 598.2h0M159.3 609.4h0M142.6 665.6h0M144.2 711.3h0M143.7 658.0h0M156.9 718.5h0M158.4 715.2h0M190.3 676.7h0M183.2 706.9h0M157.3 609.9h0M163.0 713.7h0M142.0 692.1h0M171.0 719.1h0M155.8 683.9h0M152.7 697.7h0M154.5 720.9h0M184.6 718.0h0M168.0 696.4h0M166.8 585.8h0M168.8 610.9h0M158.0 661.5h0M163.2 648.3h0M161.7 681.4h0M182.2 689.1h0M159.1 628.1h0M158.0 607.2h0M154.0 678.4h0M166.7 693.8h0M143.9 662.7h0M144.0 662.4h0M178.5 662.7h0M183.1 669.3h0M170.1 682.8h0M162.4 649.2h0M178.0 653.7h0M139.6 704.3h0M141.0 676.0h0M157.6 655.0h0M164.8 651.2h0M144.5 681.0h0M170.0 657.6h0M154.1 693.6h0M142.5 653.1h0M156.5 719.5h0M161.7 644.2h0M183.4 717.5h0M152.9 634.6h0M147.5 667.5h0M169.4 601.4h0M176.1 720.8h0M138.4 633.2h0M136.4 704.9h0M156.6 681.2h0M147.4 651.3h0M170.6 648.4h0M148.3 690.3h0M166.1 668.7h0M163.2 633.8h0M144.1 655.4h0M154.7 627.2h0M143.6 686.2h0M177.2 721.3h0M165.2 613.9h0M143.0 666.8h0M171.4 687.9h0M175.1 680.4h0M144.6 668.3h0M184.8 704.1h0M149.4 663.1h0M146.8 647.4h0M147.0 712.5h0M152.6 624.0h0M185.4 667.4h0M179.3 668.1h0M171.6 654.9h0M175.7 691.0h0M174.6 697.0h0M181.2 655.1h0M171.1 705.4h0M184.7 711.0h0M151.6 684.6h0M163.2 596.8h0M169.0 606.5h0M161.6 605.7h0M165.2 605.5h0M136.9 707.2h0M173.0 606.3h0M165.6 580.2h0M170.6 605.8h0M148.3 671.8h0M170.3 597.2h0M164.5 606.6h0M174.8 658.0h0M159.3 700.7h0M142.3 651.8h0M180.2 715.7h0M180.6 655.4h0M175.3 665.1h0M163.3 580.6h0M170.1 648.4h0M184.3 708.8h0M160.9 643.6h0M170.7 704.3h0M141.3 712.5h0M170.1 698.6h0M178.0 694.2h0M167.3 666.7h0M194.1 613.9h0M167.6 663.9h0M144.8 704.1h0M175.4 656.6h0M176.0 681.5h0M186.9 668.6h0M166.7 622.4h0M161.3 694.8h0M179.3 714.7h0M171.6 717.9h0M142.6 676.5h0M155.1 640.8h0M147.9 705.1h0M172.4 578.3h0M163.1 663.5h0M172.6 710.6h0M163.6 698.2h0M161.9 604.6h0M169.7 672.9h0M167.3 643.6h0M166.7 706.9h0M166.4 627.0h0M143.9 654.0h0M181.4 715.9h0M199.4 638.7h0M166.4 578.4h0M174.0 619.6h0M180.6 653.9h0M174.8 693.2h0M168.5 602.5h0M139.1 699.8h0M180.5 717.6h0M141.3 678.2h0M156.0 614.3h0M149.3 688.2h0M139.2 706.3h0M170.7 583.6h0M175.4 632.1h0M182.1 701.1h0M148.6 705.4h0M160.8 596.2h0M157.8 696.7h0M160.8 606.6h0M150.8 694.4h0M175.7 679.6h0M162.2 598.3h0M182.6 716.9h0M154.0 671.7h0M186.7 706.6h0M170.6 593.8h0M153.2 671.8h0M181.0 672.4h0M177.5 710.7h0M171.3 719.3h0M161.5 635.6h0M155.9 628.5h0M170.8 658.0h0M177.0 671.1h0M170.0 677.9h0M157.1 705.1h0M177.8 638.0h0M173.3 621.1h0M182.2 656.9h0M147.3 659.7h0M151.4 705.7h0M141.7 688.5h0M154.5 703.3h0M164.0 626.9h0M163.5 601.0h0M133.4 689.8h0M141.5 630.4h0M174.9 675.4h0M155.7 705.4h0M189.6 671.9h0M170.0 704.7h0M177.2 701.7h0M149.2 673.6h0M167.6 630.8h0M180.5 651.1h0M195.3 615.7h0M185.2 705.8h0M159.4 690.6h0M161.0 707.0h0M181.9 668.2h0M169.4 580.0h0M153.6 625.4h0M162.3 606.9h0M150.2 703.6h0M160.7 614.9h0M165.3 712.9h0M142.1 651.2h0M155.9 696.5h0M167.0 709.9h0M155.9 631.2h0M182.1 671.8h0M171.9 631.4h0M148.4 681.3h0M142.2 681.7h0M146.7 663.8h0M153.7 717.0h0M141.7 668.7h0M147.5 713.5h0M154.8 685.2h0M146.5 690.1h0M165.5 584.5h0M172.8 681.5h0M161.1 630.8h0M182.6 634.0h0M169.1 614.6h0M146.9 665.6h0M161.2 698.4h0M194.2 614.9h0M153.9 688.0h0M166.0 586.9h0M160.9 679.2h0M160.1 707.7h0M165.3 613.7h0M137.1 711.0h0M141.2 648.5h0M171.7 661.4h0M153.8 696.0h0M143.7 663.3h0M145.0 702.0h0M144.8 652.9h0M179.2 614.9h0M153.7 707.3h0M153.2 689.8h0M166.8 595.6h0M177.8 639.3h0M147.6 690.8h0M178.1 672.5h0M183.1 699.1h0M153.7 709.1h0M172.5 671.0h0M141.6 681.3h0M163.5 615.2h0M175.5 626.4h0M196.5 692.7h0M146.8 671.1h0M195.7 618.2h0M162.9 593.5h0M164.1 658.1h0M175.4 720.5h0M180.4 656.0h0M171.1 638.8h0M211.3 674.0h0M184.0 703.5h0M140.2 662.5h0M173.1 611.9h0M171.1 676.1h0M144.2 672.0h0M167.9 598.8h0M189.0 705.8h0M179.0 651.8h0M144.6 693.4h0M174.9 633.6h0M167.3 579.2h0M145.3 674.8h0M180.7 680.7h0M140.4 632.6h0M169.8 591.7h0M147.7 684.0h0M164.3 586.4h0M168.1 601.0h0M160.4 686.6h0M164.4 597.3h0M168.2 668.2h0M198.5 664.9h0M160.4 606.7h0M134.1 710.4h0M152.3 660.0h0M168.1 629.4h0M200.7 701.7h0M153.9 688.4h0M153.5 687.9h0M146.8 672.5h0M145.8 697.5h0M174.1 646.4h0M209.0 667.4h0M147.2 688.6h0M163.9 656.6h0M150.2 673.3h0M155.7 701.9h0M183.6 700.2h0M166.9 721.2h0M163.6 591.4h0M135.5 702.7h0M176.9 638.7h0M182.2 651.6h0M188.7 673.7h0M178.0 632.7h0M169.6 710.9h0M175.0 677.0h0M144.4 689.1h0M163.8 656.8h0M170.6 664.6h0M165.5 658.6h0M174.1 610.2h0M177.4 716.6h0M161.6 681.5h0M170.6 636.3h0M168.5 720.8h0M164.0 604.0h0M169.5 583.9h0M179.6 716.0h0M165.4 640.9h0M163.6 663.5h0M163.7 624.0h0M171.4 592.6h0M177.4 711.8h0M145.2 674.8h0M164.9 636.8h0M164.2 589.8h0M153.4 720.4h0M187.4 668.2h0M178.1 712.4h0M162.9 594.2h0M147.6 686.7h0M164.3 670.5h0M161.4 679.2h0M160.2 604.6h0M182.3 701.5h0M167.8 585.3h0M167.0 656.9h0M190.4 674.8h0M189.3 706.6h0M173.7 717.9h0M155.4 640.9h0M144.6 655.0h0M149.4 714.0h0M179.9 679.6h0M145.5 685.5h0M177.3 669.6h0M142.4 686.4h0M164.5 698.9h0M181.2 719.2h0M168.9 711.3h0M164.2 598.5h0M160.4 680.3h0M179.9 720.6h0M156.0 664.6h0M139.6 695.2h0M165.0 602.3h0M176.4 634.2h0M178.5 662.0h0M142.6 712.7h0M166.7 583.1h0M165.2 649.5h0M179.2 657.6h0M171.5 699.5h0M173.9 608.8h0M154.1 715.2h0M181.9 649.9h0M169.5 659.9h0M142.6 685.9h0M158.1 682.4h0M139.6 702.8h0M161.1 620.6h0M156.0 699.7h0M152.7 648.2h0M159.5 719.7h0M146.4 656.7h0M143.1 680.2h0M164.6 677.5h0M156.4 600.3h0M161.1 607.0h0M152.1 717.0h0M173.4 667.7h0M169.1 634.8h0M164.2 699.5h0M161.9 662.4h0M183.8 708.2h0M140.7 676.2h0M168.4 708.2h0M148.9 697.4h0M143.5 699.2h0M157.4 713.2h0M182.3 660.3h0M180.4 654.0h0M161.3 604.3h0M186.3 642.9h0M165.0 617.3h0M164.9 705.1h0M177.9 689.4h0M145.2 696.2h0M155.8 714.0h0M155.3 713.2h0M167.4 688.9h0M140.9 680.8h0M175.7 684.3h0M177.4 709.8h0M182.8 702.0h0M209.6 676.1h0M200.6 667.3h0M166.0 649.9h0M170.0 711.2h0M161.4 692.1h0M177.3 646.1h0M156.1 655.6h0M170.6 668.1h0M155.1 608.6h0M146.2 693.0h0M144.7 668.7h0M157.6 708.8h0M142.6 658.9h0M161.4 711.0h0M161.0 681.4h0M154.2 709.1h0M164.6 720.2h0M165.9 654.4h0M170.4 720.0h0M142.3 663.0h0M161.5 602.0h0M138.4 634.8h0M197.3 694.3h0M148.2 664.4h0M154.2 698.0h0M154.3 719.7h0M168.6 591.2h0M144.8 654.2h0M153.3 678.4h0M139.9 705.4h0M149.9 687.5h0M159.0 667.6h0M144.9 630.9h0M166.8 698.2h0M197.9 659.5h0M169.3 608.5h0M147.6 675.8h0M173.6 620.4h0M146.8 635.6h0M139.0 694.6h0M185.6 703.5h0M156.8 714.2h0M181.9 704.0h0M172.2 605.0h0M172.6 652.9h0M163.0 649.8h0M168.8 693.5h0" fill="none" stroke="#7a7a7a" stroke-width="3.5" stroke-linecap="round" stroke-opacity="0.5"/>
<path d="M398.0 599.4L395.0 611.2L390.9 626.9L386.7 646.6L384.4 666.3L383.8 721.5L416.4 721.5L415.8 682.1L412.8 658.5L409.3 638.8L404.5 619.1L401.0 603.3Z" fill="#7a7a7a" fill-opacity="0.9"/>
<path d="M417.0 668.7L441.9 719.9" stroke="#7a7a7a" stroke-width="2.8" stroke-linecap="round" stroke-opacity="0.75" fill="none"/>
<path d="M419.3 674.2L435.9 708.9" stroke="#7a7a7a" stroke-width="2.2" stroke-linecap="round" stroke-opacity="0.5" fill="none"/>
<path d="M433.6 658.5L446.0 690.8" stroke="#7a7a7a" stroke-width="2.6" stroke-linecap="round" stroke-opacity="0.55" fill="none"/>
<path d="M430.6 626.9L435.4 638.0" stroke="#7a7a7a" stroke-width="3" stroke-linecap="round" stroke-opacity="0.6" fill="none"/>
<path d="M371.9 682.1L371.3 721.5L380.8 721.5L377.2 682.1Z" fill="#7a7a7a" fill-opacity="0.7"/>
<path d="M447.4 687.7h0M381.7 684.5h0M390.9 701.2h0M422.6 680.6h0M398.4 586.4h0M420.0 674.7h0M388.7 681.3h0M402.1 709.7h0M403.9 710.1h0M393.1 626.3h0M405.7 675.8h0M399.6 662.9h0M399.9 601.7h0M410.3 700.3h0M384.8 641.2h0M412.5 680.7h0M385.2 660.7h0M371.7 677.4h0M374.4 711.7h0M413.9 715.9h0M422.9 649.5h0M388.4 642.3h0M427.2 686.8h0M404.1 663.7h0M387.4 707.2h0M411.0 639.9h0M381.8 645.1h0M425.1 601.0h0M420.8 677.4h0M409.4 634.8h0M414.5 671.0h0M391.1 612.0h0M418.7 671.8h0M433.5 659.9h0M391.4 676.6h0M397.3 591.6h0M395.2 645.0h0M371.2 684.2h0M372.4 682.4h0M405.1 721.2h0M409.8 632.6h0M380.7 656.7h0M409.6 691.3h0M403.4 709.3h0M409.9 667.1h0M390.5 699.7h0M378.9 704.6h0M434.3 704.7h0M422.9 681.9h0M396.6 609.7h0M413.9 700.3h0M375.2 704.9h0M400.8 584.5h0M384.8 649.4h0M398.5 593.4h0M378.4 713.3h0M410.9 649.5h0M404.4 670.2h0M420.4 603.8h0M405.3 687.6h0M399.8 647.7h0M395.8 678.4h0M386.5 689.9h0M402.6 715.2h0M435.4 703.8h0M427.6 617.1h0M418.9 672.0h0M413.8 678.5h0M373.4 680.3h0M388.8 640.3h0M440.4 717.0h0M382.0 640.3h0M398.2 579.9h0M380.6 679.9h0M430.4 691.8h0M400.3 718.1h0M403.9 629.9h0M414.0 660.0h0M405.4 647.2h0M404.3 618.9h0M439.0 675.2h0M379.3 695.3h0M418.2 668.7h0M393.2 714.0h0M411.8 716.7h0M420.1 674.5h0M441.2 675.5h0M423.9 679.9h0M386.0 656.4h0M400.6 586.8h0M398.2 636.6h0M409.0 670.2h0M417.2 716.4h0M392.4 697.1h0M403.1 607.1h0M396.7 657.4h0M408.1 709.7h0M439.9 713.8h0M405.6 691.1h0M435.1 637.7h0M417.8 707.2h0M414.6 674.6h0M376.8 719.1h0M391.1 689.0h0M381.6 676.8h0M381.7 718.8h0M380.6 702.3h0M410.8 711.8h0M400.6 697.7h0M392.0 720.7h0M386.3 699.9h0M370.2 685.4h0M388.4 718.6h0M407.2 704.2h0M400.5 650.3h0M383.3 640.9h0M396.3 687.8h0M427.2 688.3h0M377.4 703.2h0M392.7 633.0h0M393.4 597.8h0M401.5 715.0h0M395.9 623.1h0M396.8 591.9h0M410.6 675.0h0M404.9 654.3h0M394.1 670.2h0M403.2 589.8h0M395.5 693.6h0M392.4 608.4h0M388.3 633.9h0M379.4 715.0h0M397.1 708.3h0M415.0 714.5h0M401.5 644.7h0M392.9 658.4h0M413.0 684.7h0M400.2 692.0h0M394.3 704.3h0M372.9 698.4h0M415.6 673.9h0M383.2 684.9h0M399.4 654.9h0M429.0 693.7h0M418.7 711.5h0M413.2 702.8h0M373.6 700.2h0M391.5 625.8h0M413.4 677.2h0M397.1 571.3h0M399.2 578.1h0M388.0 717.2h0M398.9 700.0h0M393.0 637.8h0M398.8 589.0h0M410.6 667.2h0M381.9 641.7h0M432.2 703.1h0M381.4 718.3h0M400.4 622.9h0M407.1 705.1h0M390.3 638.6h0M404.7 623.2h0M382.0 650.4h0M437.3 707.0h0M409.6 691.2h0M394.3 641.8h0M400.2 644.1h0M381.3 682.3h0M410.8 680.4h0M407.7 647.7h0M412.9 659.4h0M413.9 673.3h0M385.9 706.1h0M387.6 640.3h0M385.6 691.4h0M395.2 649.2h0M413.7 677.0h0M438.9 714.4h0M433.5 702.3h0M374.9 683.7h0M398.5 637.2h0M415.7 658.8h0M394.1 578.1h0M399.6 594.2h0M415.2 658.6h0M399.9 585.4h0M403.4 702.2h0M381.3 676.6h0M404.9 606.4h0M374.0 708.3h0M430.1 693.9h0M389.9 699.8h0M412.5 657.2h0M388.4 690.8h0M407.4 674.4h0M402.5 598.3h0M399.2 673.2h0M396.0 616.0h0M401.8 622.6h0M414.3 696.7h0M393.8 607.7h0M437.9 711.4h0M405.1 639.0h0M410.6 652.2h0M413.5 717.0h0M393.4 616.2h0M381.5 670.7h0M388.8 619.1h0M403.3 631.0h0M394.7 592.0h0M399.4 634.5h0M402.9 703.5h0M407.6 711.1h0M433.9 701.9h0M433.6 633.8h0M396.9 711.2h0M405.7 639.2h0M408.1 662.3h0M388.1 716.8h0M380.2 642.4h0M391.3 601.2h0M389.3 689.7h0M441.2 719.1h0M404.9 608.0h0M443.8 684.5h0M417.4 669.4h0M392.7 629.7h0M397.7 721.3h0M399.7 588.3h0M402.7 624.2h0M438.1 669.1h0M398.4 594.3h0M419.9 613.5h0M404.9 642.5h0M422.2 680.7h0M383.5 639.4h0M384.7 642.8h0M409.5 716.8h0M407.7 709.8h0M407.6 709.4h0M415.6 713.6h0M410.7 679.3h0M416.3 668.0h0M403.7 679.8h0M408.4 674.9h0M392.8 645.5h0M402.6 611.0h0M445.1 686.0h0M432.3 697.5h0M380.4 664.2h0M397.2 636.9h0M414.7 679.1h0M408.5 663.0h0M397.4 584.6h0M390.2 698.9h0M373.2 699.6h0M407.5 687.0h0M433.4 702.9h0M438.7 673.1h0M402.2 671.5h0M387.0 695.7h0M378.2 647.9h0M396.0 594.1h0M377.3 711.6h0M401.3 674.6h0M382.8 655.3h0M383.3 679.3h0M405.7 671.5h0M424.6 683.6h0M410.0 650.6h0M379.3 686.8h0M404.8 658.1h0M405.6 650.6h0M429.8 692.6h0M385.7 673.8h0M385.6 720.8h0M407.8 699.3h0M376.5 719.4h0M417.3 705.3h0M395.8 706.4h0M441.2 666.5h0M413.1 702.7h0M419.4 700.8h0M380.5 663.0h0M404.2 627.2h0M396.1 600.8h0M401.5 589.5h0M410.0 661.0h0M442.6 666.3h0M426.9 689.7h0M406.8 692.4h0M397.6 640.0h0M412.8 691.1h0M413.8 667.1h0M398.0 601.1h0M382.9 680.0h0M388.1 712.4h0M381.9 680.6h0M395.3 595.0h0M435.7 707.7h0M379.2 681.4h0M431.4 700.4h0M400.2 598.6h0M380.4 651.9h0M408.2 644.5h0M377.9 694.6h0M393.2 682.5h0M396.9 619.4h0M378.8 678.1h0M390.7 721.5h0M393.5 592.4h0M432.3 702.2h0M393.7 596.9h0M407.9 708.1h0M430.8 696.6h0M405.0 610.1h0M427.7 691.3h0M386.7 716.7h0M393.9 681.2h0M406.9 700.2h0M403.3 600.3h0M415.0 718.3h0M414.9 704.8h0M382.1 642.5h0M398.3 600.6h0M398.9 669.3h0M389.2 719.0h0M389.4 679.6h0M428.3 693.0h0M392.8 616.0h0M413.7 699.9h0M407.3 661.3h0M386.4 686.4h0M379.2 678.6h0M399.8 675.0h0M431.8 698.2h0M375.2 681.3h0M393.8 660.3h0M395.7 594.1h0M439.3 676.1h0M388.2 633.0h0M381.1 639.2h0M397.8 700.7h0M396.1 598.5h0M404.5 688.7h0M393.3 632.7h0M403.8 681.1h0M398.4 574.7h0M412.8 680.8h0M401.3 602.3h0M410.0 680.4h0M399.6 620.4h0M389.5 696.5h0M385.8 667.0h0M397.5 582.4h0M400.1 590.6h0M425.5 685.7h0M384.2 691.7h0M383.7 661.6h0M398.5 584.7h0M401.6 617.7h0M402.4 698.0h0M387.3 642.4h0M384.3 704.5h0M401.9 587.2h0M444.8 689.0h0M396.0 680.6h0M424.7 682.0h0M395.8 632.4h0M411.3 643.2h0M407.9 690.3h0M414.1 719.2h0M421.3 676.4h0M392.0 624.0h0M401.0 701.3h0M404.5 701.2h0M374.7 701.5h0M389.0 653.8h0M392.6 605.5h0M392.5 686.0h0M402.9 648.2h0M438.9 716.6h0M397.8 587.3h0M397.1 587.1h0M390.8 706.4h0M437.1 707.4h0M403.7 662.0h0M391.5 710.7h0M401.0 631.7h0M411.6 683.5h0M380.6 678.0h0M445.4 688.3h0M397.2 637.3h0M375.7 686.7h0M398.2 646.8h0M395.7 598.7h0M371.9 716.4h0M372.7 714.7h0M437.8 663.3h0M400.5 601.4h0M404.1 700.6h0M385.5 668.3h0M403.6 616.0h0M401.8 630.7h0M399.3 622.9h0M395.3 583.2h0M403.6 690.2h0M421.3 674.3h0M382.5 673.6h0M395.1 703.3h0M432.9 631.7h0M417.3 721.4h0M395.3 650.1h0M392.3 607.1h0M403.9 619.3h0M396.8 583.4h0M380.7 658.0h0M384.5 686.5h0M373.0 714.2h0M413.2 719.6h0M410.1 646.5h0M398.9 573.4h0M382.0 653.2h0M394.6 638.9h0M382.7 648.8h0M416.4 719.1h0M415.8 701.9h0M384.4 673.3h0M391.6 712.5h0M412.2 705.4h0M421.6 678.0h0M430.3 696.8h0M400.4 703.5h0M407.8 683.2h0M391.5 706.7h0M401.2 609.7h0M412.6 701.5h0M388.3 674.1h0M406.1 697.9h0M395.6 625.7h0M380.4 720.1h0M386.4 655.3h0M401.6 654.0h0M414.5 715.8h0M395.4 651.2h0M432.7 632.8h0M444.7 680.1h0M402.9 653.0h0M384.3 680.4h0M386.3 713.8h0M372.1 704.3h0M389.1 680.6h0M432.9 704.1h0M395.3 685.1h0M389.5 670.8h0M377.7 671.9h0M373.1 685.0h0M403.0 591.7h0M416.9 679.1h0M409.7 710.8h0M433.6 631.1h0M390.6 622.9h0M395.6 668.3h0M383.0 650.1h0M410.4 677.8h0M392.8 596.9h0M391.1 667.0h0M412.1 699.0h0M387.2 706.5h0M384.7 667.9h0M373.8 694.4h0M381.2 708.4h0M397.9 661.3h0M395.0 652.4h0M415.5 720.6h0M400.8 671.4h0M383.3 667.6h0M394.1 597.4h0M430.0 698.0h0M387.7 651.1h0M395.5 577.5h0M384.0 704.9h0M395.5 572.5h0M389.9 633.3h0M393.2 628.2h0M414.0 702.7h0M413.3 698.6h0M381.2 697.0h0M399.7 596.2h0M401.5 615.6h0M400.8 583.9h0M381.9 665.1h0M386.3 705.3h0M378.8 712.7h0M396.5 614.7h0M401.9 593.1h0M398.3 585.3h0M395.3 694.5h0M370.1 701.4h0M396.7 627.1h0M384.6 655.6h0M409.9 635.8h0M381.1 718.3h0M407.4 709.9h0M438.8 668.9h0M407.9 641.1h0M395.5 650.5h0M382.2 650.7h0M390.0 675.1h0M375.1 683.5h0M423.0 680.3h0M384.5 648.9h0M386.6 671.0h0M384.1 687.9h0M402.4 720.6h0M385.7 647.1h0M390.8 682.4h0M383.1 655.3h0M445.7 692.0h0M397.5 674.6h0M406.0 660.5h0M383.6 691.4h0M398.1 706.0h0M418.0 673.5h0M373.3 719.3h0M399.5 640.7h0M430.5 695.2h0M439.6 715.5h0M381.9 707.1h0M392.6 600.4h0M441.6 721.1h0M395.4 718.0h0M401.2 715.1h0M406.0 684.2h0M390.6 634.8h0M398.7 574.3h0M384.0 638.7h0M419.0 719.0h0M382.6 672.2h0M418.2 703.2h0M398.2 687.6h0M384.9 637.5h0M377.4 703.5h0M383.8 708.4h0M379.4 711.8h0M426.1 687.4h0M425.2 652.4h0M407.4 721.0h0M383.5 691.4h0M387.5 706.9h0M382.2 647.0h0M415.5 708.5h0M391.3 712.7h0M424.4 682.5h0M412.2 654.2h0M362.4 697.9h0M443.7 688.1h0M384.5 714.7h0M435.5 706.5h0M403.0 706.2h0M386.0 640.9h0M443.9 674.8h0M383.5 677.3h0M404.1 692.7h0M408.7 665.6h0M383.8 719.8h0M396.6 699.8h0" fill="none" stroke="#7a7a7a" stroke-width="3.5" stroke-linecap="round" stroke-opacity="0.5"/>
<path d="M399.2 579.8h0M392.3 721.5h0M392.1 691.0h0M411.2 719.1h0M377.9 660.8h0M434.1 703.8h0M407.8 625.2h0M395.2 579.7h0M405.0 713.7h0M397.2 595.9h0M395.4 595.4h0M378.3 671.4h0M421.0 676.1h0M399.6 582.0h0M383.1 712.6h0M424.8 682.4h0M443.7 670.8h0M395.6 718.0h0M406.6 696.8h0M396.7 583.1h0M398.3 627.6h0M400.5 712.5h0M414.0 657.3h0M395.8 653.0h0M388.3 702.2h0M417.7 709.3h0M407.2 721.2h0M397.6 597.8h0M392.7 720.0h0M385.1 695.2h0M411.7 699.1h0M394.2 712.1h0M376.2 711.6h0M414.8 652.3h0M389.2 656.9h0M403.8 663.1h0M389.6 712.7h0M380.1 669.9h0M385.8 703.1h0M396.8 676.8h0M427.1 688.2h0M415.9 682.8h0M402.6 637.0h0M408.4 702.9h0M405.4 715.1h0M394.9 708.5h0M383.9 688.4h0M389.9 693.6h0M401.9 604.5h0M434.2 701.8h0M413.8 701.8h0M402.9 633.4h0M411.4 702.4h0M384.0 707.0h0M399.9 696.0h0M431.9 633.9h0M443.2 674.7h0M416.8 669.5h0M386.5 648.2h0M388.1 675.2h0M402.1 710.2h0M412.9 716.7h0M395.7 665.9h0M395.0 686.9h0M396.8 639.9h0M389.9 655.3h0M384.3 721.3h0M383.7 687.7h0M398.8 711.6h0M370.5 714.0h0M384.7 650.0h0M416.4 678.9h0M406.8 661.2h0M385.8 690.3h0M367.2 716.8h0M404.3 720.6h0M415.4 704.5h0M383.3 701.2h0M418.6 672.6h0M390.3 670.9h0M432.1 698.4h0M396.8 713.0h0M394.0 684.3h0M390.3 708.5h0M393.9 699.6h0M386.9 670.6h0M392.1 660.7h0M442.7 721.1h0M383.5 681.7h0M430.7 700.1h0M435.2 662.1h0M402.3 605.2h0M407.0 624.1h0M374.6 689.7h0M440.4 673.1h0M422.0 679.6h0M397.7 671.7h0M373.1 683.7h0M393.9 676.8h0M411.8 717.6h0M443.4 686.4h0M416.3 709.5h0M401.5 705.0h0M397.9 601.6h0M407.6 706.4h0M402.4 694.2h0M401.3 619.4h0M396.4 576.3h0M374.7 687.8h0M380.0 721.3h0M384.8 714.3h0M386.0 676.4h0M403.5 616.6h0M446.8 692.6h0M379.9 662.6h0M387.1 633.0h0M393.7 693.4h0M419.2 720.6h0M385.4 716.7h0M385.0 706.2h0M412.2 715.5h0M423.3 681.7h0M391.0 721.3h0M401.5 610.6h0M415.9 673.8h0M420.5 690.5h0M386.1 713.9h0M416.7 719.5h0M441.1 678.5h0M386.2 649.5h0M403.5 661.9h0M387.0 681.7h0M404.9 697.4h0M389.5 700.3h0M396.1 619.5h0M382.3 674.2h0M384.9 669.6h0M415.6 668.3h0M389.6 620.2h0M372.4 679.3h0M400.6 658.7h0M405.5 715.0h0M398.3 601.6h0M394.6 659.6h0M375.6 695.4h0M384.0 642.1h0M398.2 582.5h0M399.5 603.2h0M398.0 595.2h0M395.8 595.9h0M400.9 661.5h0M410.3 641.6h0M394.7 601.1h0M382.1 667.1h0M405.2 670.9h0M447.2 683.5h0M439.8 714.5h0M417.1 712.8h0M398.4 592.4h0M384.4 711.0h0M385.2 654.2h0M396.4 601.5h0M441.0 663.8h0M396.8 632.5h0M414.9 659.6h0M420.0 676.1h0M396.2 691.9h0M424.8 687.1h0M397.9 658.9h0M397.2 600.0h0M398.4 586.3h0M414.9 681.5h0M423.3 681.6h0M393.2 706.4h0M398.0 690.6h0M428.2 691.7h0M408.8 634.6h0M372.5 684.3h0M394.6 595.5h0M410.3 713.6h0M399.8 662.6h0M425.1 684.1h0M396.0 706.3h0M384.3 638.3h0M392.1 702.1h0M413.7 711.8h0M382.3 664.1h0M402.5 595.4h0M409.9 687.9h0M414.7 710.1h0M396.7 573.7h0M382.2 716.2h0M419.5 676.9h0M370.1 691.7h0M400.6 590.0h0M393.4 600.9h0M386.0 657.2h0M389.3 670.0h0M383.0 717.7h0M396.4 624.9h0M382.3 673.9h0M407.0 660.4h0M395.2 715.4h0M441.4 677.7h0M376.3 720.9h0M404.6 656.2h0M381.2 677.1h0M382.3 657.2h0M397.2 602.6h0M394.2 596.4h0M398.6 615.3h0M397.1 711.3h0M405.2 681.8h0M379.8 704.1h0M353.5 671.9h0M398.0 603.0h0M400.6 589.8h0M400.9 674.8h0M394.4 611.4h0M416.6 687.1h0M405.8 665.6h0M399.2 625.6h0M376.6 721.5h0M438.1 713.7h0M385.2 658.4h0M383.4 642.8h0M391.1 697.7h0M397.0 676.9h0M410.0 670.2h0M428.1 692.4h0M408.4 679.0h0M399.0 594.9h0M375.8 688.9h0M384.6 677.7h0M408.2 689.5h0M443.4 685.3h0M394.4 656.3h0M402.1 656.0h0M405.1 630.2h0M378.2 715.0h0M403.6 683.0h0M399.3 597.9h0M413.6 651.5h0M389.5 682.6h0M394.7 613.0h0M384.9 659.3h0M416.1 721.2h0M409.1 707.1h0M414.0 714.2h0M400.4 613.6h0M403.7 696.8h0M409.7 678.5h0M372.0 702.1h0M410.4 593.8h0M410.1 685.2h0M377.8 720.4h0M413.9 705.4h0M424.0 683.2h0M437.2 710.5h0M405.4 635.4h0M403.6 714.5h0M388.8 699.9h0M392.5 715.8h0M432.7 703.8h0M381.1 663.9h0M425.4 684.7h0M397.6 591.7h0M403.0 619.9h0M391.3 720.4h0M387.8 701.1h0M394.8 591.9h0M435.0 707.6h0M386.5 668.3h0M393.6 647.3h0M393.7 639.5h0M378.6 700.8h0M404.0 647.1h0M392.9 700.5h0M441.9 719.0h0M400.8 588.4h0M389.2 667.3h0M378.4 707.9h0M440.2 716.2h0M423.0 649.4h0M370.3 695.0h0M417.8 720.2h0M413.2 660.2h0M393.8 713.0h0M439.4 714.3h0M391.8 721.4h0M390.7 700.8h0M415.7 664.1h0M423.8 684.2h0M395.2 660.6h0M398.0 586.6h0M406.6 650.5h0M404.0 703.2h0M378.7 702.6h0M396.5 602.2h0M394.5 659.2h0M383.8 681.5h0M444.2 678.9h0M393.7 636.6h0M409.3 671.5h0M401.6 710.4h0M379.8 674.8h0M433.4 703.2h0M383.1 708.9h0M413.0 666.8h0M381.3 681.4h0M394.1 646.3h0M414.5 712.2h0M440.8 717.0h0M380.9 668.5h0M437.4 667.1h0M438.3 711.6h0M402.6 628.6h0M370.2 689.3h0M397.9 721.3h0M395.1 578.2h0M370.9 711.5h0M410.1 715.9h0M443.1 680.9h0M385.8 702.1h0M398.4 696.3h0M409.6 643.6h0M381.5 641.5h0M403.9 615.7h0M411.2 718.5h0M405.2 679.0h0M397.0 710.7h0M395.1 587.8h0M373.1 717.1h0M380.8 675.6h0M399.1 699.1h0M402.1 622.7h0M381.5 661.2h0M415.2 690.0h0M422.8 680.8h0M390.9 672.0h0M393.4 616.1h0M372.7 703.4h0M391.4 661.6h0M371.8 679.5h0M390.5 613.6h0M404.6 696.2h0M386.6 689.8h0M381.2 674.2h0M408.1 710.9h0M400.4 687.8h0M376.3 718.5h0M395.5 669.9h0M382.5 709.9h0M386.9 695.4h0M408.7 645.3h0M373.4 714.7h0M436.8 710.5h0M411.3 714.8h0M401.0 585.3h0M390.7 611.9h0M386.5 652.4h0M392.8 711.7h0M404.9 641.1h0M396.3 576.7h0M406.2 647.9h0M398.8 688.9h0M394.3 718.8h0M402.2 672.2h0M404.8 677.8h0M394.1 713.6h0M403.8 643.0h0M384.0 639.1h0M429.8 696.8h0M389.0 698.0h0M416.7 720.6h0M408.7 701.0h0M416.3 717.6h0M392.5 648.5h0M431.3 699.2h0M408.9 681.6h0M400.8 588.3h0M414.7 704.0h0M380.4 677.9h0M414.4 668.1h0M382.3 671.7h0M396.6 701.7h0M404.1 705.1h0M382.5 649.6h0M436.7 664.6h0M380.0 652.6h0M392.5 637.1h0M399.0 597.5h0M418.7 672.4h0M388.9 627.5h0M392.4 684.8h0M404.9 720.4h0M380.0 666.2h0M408.7 659.7h0M397.2 593.3h0M398.7 652.1h0M432.9 705.5h0M402.8 603.2h0M394.0 659.7h0M404.6 721.2h0M415.7 703.6h0M398.3 685.7h0M404.4 721.4h0M374.9 708.4h0M398.1 667.4h0M372.7 680.8h0M396.6 596.9h0M406.6 695.7h0M403.0 603.6h0M424.4 683.0h0M401.6 690.4h0M412.7 707.7h0M403.3 618.9h0M405.2 647.0h0M416.7 693.3h0M403.5 719.4h0M393.3 718.7h0M399.1 659.5h0M385.5 720.5h0M383.3 648.8h0M387.8 721.2h0M390.1 718.5h0M435.9 664.7h0M438.3 674.3h0M385.9 708.9h0M387.8 638.1h0M398.9 590.6h0M383.5 656.8h0M416.3 698.7h0M397.5 675.8h0M438.1 710.5h0M399.4 654.8h0M426.1 687.4h0M385.0 689.8h0M400.7 692.1h0M426.9 688.3h0M434.6 705.9h0M401.5 600.7h0M418.2 671.2h0M402.5 629.7h0M413.3 675.6h0M412.6 718.1h0M410.4 721.5h0M385.0 687.5h0M385.3 648.8h0M442.7 680.3h0M392.6 694.2h0M378.7 648.6h0M380.5 714.6h0M387.7 628.3h0M416.2 678.2h0M417.5 703.6h0M375.8 683.7h0M406.0 694.0h0M423.8 682.8h0M402.2 655.1h0M427.4 689.0h0M382.1 655.9h0M411.9 719.2h0M387.3 630.0h0M398.5 721.1h0M371.7 682.3h0M387.5 679.8h0M401.4 603.0h0M402.5 708.0h0M400.8 692.7h0M397.0 668.7h0M406.7 621.4h0M401.5 626.4h0M427.1 686.9h0M415.8 695.8h0M400.6 708.4h0M404.0 675.7h0M407.4 620.9h0M400.5 583.3h0M387.7 633.1h0M413.1 689.8h0M394.9 639.5h0M377.2 718.0h0M423.3 681.8h0M397.5 713.6h0M397.2 704.6h0M411.3 718.3h0M384.3 696.0h0M397.5 708.2h0M376.7 684.0h0M401.8 671.1h0M402.7 707.8h0M381.3 649.5h0M376.7 713.6h0M396.4 702.3h0M380.9 705.4h0M438.5 709.9h0M384.6 718.6h0M329.8 564.7h0M390.8 719.1h0M393.0 623.5h0M375.0 707.4h0M397.4 600.3h0M414.3 657.2h0M383.8 656.0h0M412.2 650.5h0M392.2 674.5h0M404.6 677.5h0M380.8 710.1h0M407.4 689.8h0M433.9 704.6h0M404.1 659.5h0M397.9 589.1h0M382.4 669.0h0M394.5 600.5h0M374.3 707.4h0M433.9 701.7h0M398.4 622.7h0M411.8 701.5h0M379.5 674.7h0M381.4 656.9h0M406.1 697.1h0M381.4 666.9h0M398.7 709.4h0M446.2 676.6h0M439.8 673.1h0M413.1 713.9h0M380.9 672.4h0M392.3 652.9h0M403.4 691.8h0M414.6 672.9h0M395.4 594.7h0M416.3 683.0h0M371.6 720.4h0M416.7 671.6h0M395.5 591.5h0M375.8 679.5h0M406.5 667.8h0M387.6 650.6h0M382.7 719.4h0M382.8 647.9h0M397.1 653.6h0M382.2 655.2h0M373.8 707.7h0M381.5 650.4h0M399.1 613.4h0M446.3 690.9h0M391.5 623.6h0M406.3 705.4h0M404.8 689.4h0M388.7 655.2h0M395.6 710.4h0M388.1 681.2h0M396.3 586.8h0M374.2 695.3h0M378.2 682.1h0M394.1 698.0h0M395.1 720.4h0M407.9 657.9h0M391.2 712.9h0M383.1 720.9h0M415.8 676.7h0M382.8 654.6h0M395.8 581.3h0M386.5 688.5h0M376.4 718.4h0M421.2 677.6h0M376.9 688.0h0" fill="none" stroke="#7a7a7a" stroke-width="3.5" stroke-linecap="round" stroke-opacity="0.5"/>
<path d="M423.2 680.2h0M401.0 579.8h0M372.6 691.6h0M365.4 706.9h0M447.7 692.6h0M407.7 717.4h0M408.8 716.0h0M404.9 682.2h0M441.8 667.1h0M439.4 671.8h0M372.0 692.6h0M395.7 591.1h0M438.5 714.7h0M405.7 718.1h0M393.8 588.5h0M416.5 668.4h0M417.4 715.9h0M407.1 698.6h0M397.2 591.5h0M415.5 711.7h0M395.4 720.3h0M416.6 717.3h0M432.4 700.8h0M411.4 650.8h0M412.8 602.9h0M380.3 667.0h0M402.5 594.4h0M408.4 655.3h0M412.0 717.4h0M433.2 702.3h0M429.6 626.8h0M398.9 678.7h0M394.5 713.6h0M400.4 713.3h0M440.6 714.5h0M440.4 716.1h0M410.2 651.4h0M373.4 677.3h0M403.6 682.3h0M398.9 573.1h0M416.6 673.3h0M401.1 599.8h0M390.4 636.1h0M427.3 690.1h0M433.1 699.8h0M395.1 695.5h0M427.7 689.7h0M397.1 581.4h0M400.4 626.6h0M410.5 714.0h0M374.9 719.0h0M381.5 710.7h0M385.2 675.0h0M399.3 720.4h0M401.6 670.9h0M382.2 641.9h0M400.9 688.0h0M414.1 706.4h0M399.3 580.2h0M385.1 640.5h0M429.4 695.3h0M407.7 716.2h0M396.1 583.3h0M400.6 601.1h0M399.3 589.8h0M398.1 718.0h0M402.4 670.5h0M389.9 716.0h0M383.1 658.7h0M385.9 658.7h0M393.3 701.5h0M397.7 602.4h0M389.2 660.2h0M373.2 678.6h0M381.4 654.6h0M399.6 594.8h0M403.9 706.0h0M399.3 592.5h0M437.3 710.9h0M397.1 668.5h0M428.7 694.2h0M399.4 581.2h0M395.5 653.3h0M405.5 608.3h0M434.7 638.1h0M390.6 657.7h0M398.0 634.2h0M414.6 701.0h0M375.3 687.3h0M407.4 712.5h0M385.5 627.9h0M389.5 615.6h0M380.5 655.4h0M386.6 705.6h0M415.1 682.4h0M395.4 614.6h0M384.2 635.4h0M403.4 685.2h0M427.4 692.4h0M400.0 601.6h0M386.6 681.4h0M391.6 632.4h0M431.2 698.6h0M402.3 695.7h0M381.7 653.2h0M390.7 647.5h0M383.8 717.4h0M393.8 601.4h0M395.8 691.7h0M428.0 692.6h0M401.2 599.4h0M426.0 653.0h0M392.6 595.1h0M376.1 712.3h0M434.7 636.9h0M381.5 675.2h0M442.3 720.7h0M408.8 660.1h0M391.3 721.4h0M398.9 678.0h0M372.2 700.4h0M373.7 681.3h0M417.6 671.7h0M391.9 685.1h0M385.4 689.8h0M408.6 624.0h0M388.5 706.0h0M404.6 663.8h0M395.7 608.8h0M399.9 668.5h0M382.8 699.1h0M391.1 635.0h0M413.5 692.4h0M399.3 717.8h0M404.3 686.0h0M393.7 610.0h0M411.1 648.6h0M380.3 653.1h0M445.4 681.0h0M373.1 680.0h0M390.5 617.4h0M391.4 610.3h0M376.2 705.4h0M402.4 600.2h0M435.0 703.1h0M429.6 696.0h0M380.4 663.8h0M403.4 665.5h0M418.2 705.6h0M424.2 681.5h0M409.7 638.5h0M398.3 700.7h0M423.8 682.5h0M441.9 681.2h0M440.9 716.2h0M427.4 692.2h0M414.7 704.1h0M399.3 580.3h0M409.3 721.3h0M381.3 664.3h0M380.4 707.4h0M406.4 643.7h0M410.7 663.0h0M408.2 684.3h0M400.1 655.5h0M411.7 717.1h0M403.2 649.8h0M415.1 704.4h0M387.1 674.2h0M394.6 693.3h0M379.4 678.7h0M436.2 709.8h0M382.1 672.3h0M389.4 621.3h0M435.6 707.3h0M421.6 674.9h0M406.8 713.8h0M413.9 705.6h0M395.9 683.4h0M416.4 702.4h0M396.9 704.5h0M383.6 644.9h0M386.1 681.3h0M400.1 698.8h0M380.0 677.0h0M425.7 686.4h0M384.9 676.8h0M444.2 683.5h0M400.3 597.3h0M376.1 710.5h0M380.9 671.6h0M397.3 703.0h0M401.1 674.9h0M402.0 708.8h0M393.0 645.2h0M429.3 692.1h0M390.4 610.5h0M388.6 650.7h0M394.3 697.3h0M436.3 707.6h0M404.7 621.4h0M393.6 596.7h0M384.5 666.4h0M396.1 596.9h0M397.7 699.0h0M374.0 706.4h0M391.4 699.7h0M409.9 707.0h0M412.4 691.9h0M417.4 716.8h0M394.6 677.2h0M412.7 667.2h0M394.7 644.3h0M416.5 667.3h0M411.1 646.8h0M401.0 602.1h0M404.5 620.9h0M402.8 708.4h0M395.1 618.6h0M430.9 627.7h0M370.6 699.2h0M408.9 699.1h0M439.0 669.0h0M408.7 675.7h0M400.2 721.3h0M397.4 599.4h0M380.9 717.5h0M392.9 597.2h0M425.8 688.3h0M386.4 640.9h0M408.4 676.6h0M419.0 672.7h0M392.1 612.1h0M414.1 679.1h0M411.7 686.0h0M402.3 588.7h0M405.8 720.6h0M386.7 641.6h0M442.3 665.6h0M393.9 596.7h0M383.6 715.7h0M391.0 712.8h0M401.7 691.0h0M394.1 719.4h0M416.3 670.9h0M388.7 625.2h0M400.2 709.1h0M399.4 721.5h0M370.6 715.6h0M397.5 605.7h0M393.9 666.6h0M396.3 631.3h0M403.4 592.5h0M387.2 685.7h0M419.0 694.4h0M399.8 672.6h0M389.2 659.1h0M387.5 681.8h0M424.4 683.0h0M417.0 715.1h0M396.0 590.1h0M395.3 702.8h0M392.9 640.9h0M406.7 691.7h0M392.8 597.7h0M394.1 586.4h0M413.7 694.2h0M405.8 714.8h0M399.3 668.9h0M411.9 661.7h0M406.2 690.2h0M387.2 699.6h0M435.7 667.0h0M393.9 712.0h0M413.8 686.0h0M419.0 673.2h0M420.0 674.1h0M438.7 709.4h0M432.9 658.6h0M424.3 649.4h0M395.8 642.1h0M390.1 698.8h0M420.0 700.1h0M392.6 659.3h0M395.8 636.9h0M409.1 681.1h0M405.4 639.6h0M395.3 703.1h0M398.0 590.8h0M416.4 661.2h0M393.6 661.7h0M424.6 683.8h0M407.6 706.3h0M400.9 677.8h0M387.4 655.5h0M403.4 600.5h0M407.7 715.5h0M424.3 607.5h0M438.9 710.6h0M413.6 673.0h0M421.5 675.5h0M374.5 706.8h0M430.7 695.9h0M388.4 635.1h0M419.1 672.3h0M392.4 639.6h0M427.2 687.5h0M391.9 607.2h0M396.5 714.2h0M390.0 618.5h0M371.4 715.2h0M403.3 708.3h0M400.8 598.0h0M426.2 685.0h0M380.5 701.5h0M377.3 710.8h0M408.0 639.7h0M402.5 695.3h0M415.6 669.7h0M405.0 641.5h0M438.3 672.3h0M423.9 603.1h0M418.0 685.6h0M411.3 689.0h0M396.6 627.9h0M384.0 636.6h0M386.9 655.6h0M373.6 685.4h0M396.3 629.3h0M377.4 701.0h0M429.0 694.9h0M407.2 677.8h0M432.6 627.4h0M397.1 592.8h0M380.3 677.9h0M437.3 709.2h0M401.6 592.6h0M391.6 690.1h0M396.4 707.7h0M411.8 690.2h0M409.2 670.7h0M382.1 652.9h0M407.4 624.4h0M383.4 671.1h0M394.0 597.6h0M391.6 636.5h0M394.0 578.3h0M406.2 648.8h0M385.2 640.3h0M397.6 618.7h0M401.8 677.2h0M396.9 577.0h0M397.0 654.2h0M393.2 698.8h0M389.1 712.7h0M405.5 700.4h0M398.0 580.8h0M372.9 694.3h0M382.9 665.4h0M432.3 702.5h0M439.4 673.6h0M385.7 686.5h0M398.7 623.0h0M414.3 713.4h0M396.7 597.8h0M426.6 690.5h0M415.2 709.1h0M420.4 675.5h0M415.4 681.7h0M390.7 708.7h0M396.8 715.5h0M391.8 693.5h0M390.7 719.4h0M402.7 690.1h0M382.0 649.4h0M408.7 690.1h0M389.4 658.4h0M397.3 578.3h0M434.4 637.4h0M408.2 694.0h0M444.6 671.6h0M404.2 615.4h0M403.7 668.9h0M418.6 686.9h0M399.6 584.4h0M386.5 709.8h0M446.7 691.6h0M413.4 695.3h0M409.3 677.2h0M370.9 718.4h0M392.5 635.1h0M412.0 713.8h0M399.4 684.4h0M400.8 578.8h0M433.8 701.4h0M380.5 675.0h0M415.0 711.0h0M407.6 699.8h0M393.7 719.3h0M435.4 703.8h0M407.8 675.9h0M374.1 711.6h0M395.9 594.5h0M377.9 679.5h0M400.1 584.4h0M395.7 718.0h0M400.6 671.7h0M390.6 693.8h0M383.6 660.9h0M416.8 667.1h0M406.2 705.7h0M381.7 720.1h0M385.0 650.3h0M412.3 696.3h0M414.1 680.8h0M424.7 684.6h0M388.0 657.6h0M410.1 720.5h0M387.8 679.9h0M383.5 667.1h0M387.0 651.0h0M407.3 717.3h0M419.3 721.4h0M401.3 594.6h0M393.0 684.0h0M412.0 670.6h0M399.8 670.1h0M439.6 714.2h0M409.1 691.7h0M378.2 720.4h0M390.0 671.6h0M402.8 600.1h0M403.0 711.0h0M399.7 673.8h0M412.1 694.0h0M399.4 701.8h0M401.5 718.5h0M377.8 714.5h0M395.1 577.1h0M405.4 610.6h0M410.2 692.5h0M394.0 614.9h0M409.7 716.1h0M399.2 675.2h0M401.3 681.1h0M370.7 680.6h0M374.3 685.4h0M398.0 595.2h0M393.3 658.7h0M410.1 684.2h0M380.6 703.3h0M422.4 645.8h0M383.3 712.1h0M407.2 627.8h0M382.7 655.1h0M389.6 697.2h0M384.1 650.7h0M415.8 602.5h0M407.3 690.3h0M397.6 721.5h0M392.9 717.7h0M383.8 655.4h0M391.8 616.0h0M384.4 663.5h0M416.4 720.0h0M414.7 720.9h0M399.8 611.3h0M376.4 688.5h0M397.4 714.8h0M397.8 702.1h0M392.0 654.0h0M380.7 683.2h0M397.4 600.0h0M381.6 651.1h0M398.0 611.1h0M402.1 657.5h0M400.5 674.9h0M434.1 704.2h0M437.5 664.5h0M408.8 720.3h0M372.9 701.6h0M388.2 706.5h0M398.4 602.7h0M416.1 667.1h0M374.7 692.2h0M397.2 589.1h0M420.6 676.0h0M431.6 697.7h0M404.2 721.1h0M409.7 721.0h0M413.7 693.2h0M390.9 712.5h0M399.9 712.6h0M406.4 696.6h0M402.7 600.7h0M386.4 678.5h0M411.0 721.5h0M398.8 600.3h0M402.4 716.8h0M397.9 582.3h0M402.6 619.4h0M387.3 667.1h0M406.7 666.9h0M409.4 654.9h0M396.7 609.9h0M445.7 688.1h0M415.2 700.8h0M416.1 690.5h0M385.0 663.9h0M389.3 691.0h0M395.8 677.3h0M400.2 698.6h0M377.0 719.2h0M390.0 682.4h0M409.9 694.8h0M425.7 687.0h0M407.1 676.7h0M373.7 703.1h0M442.5 719.2h0M413.9 693.5h0M392.2 702.2h0M417.5 676.1h0M391.9 715.5h0M412.1 669.6h0M397.3 660.9h0M398.0 698.7h0M390.5 720.6h0M396.0 687.9h0M402.3 686.6h0M388.8 686.2h0M384.0 642.5h0M395.8 581.3h0M384.8 697.0h0M379.9 660.2h0M407.5 672.0h0M439.4 675.4h0M392.7 706.8h0M405.7 663.9h0M402.4 613.0h0M401.9 713.2h0M384.2 685.4h0M396.4 602.9h0M382.0 650.0h0M406.5 652.8h0M395.0 590.6h0M408.2 707.4h0M396.6 694.2h0M381.2 714.9h0M387.7 680.9h0M380.7 716.1h0M396.0 581.0h0M394.7 645.5h0M383.6 704.3h0M401.9 613.0h0M399.1 693.0h0M402.2 596.1h0M387.9 701.0h0M371.0 692.0h0M395.9 570.7h0M383.2 707.0h0M374.0 677.5h0M388.4 619.1h0M384.3 644.4h0M381.8 664.8h0M395.1 588.1h0M379.4 717.4h0M427.6 690.3h0M393.6 601.5h0" fill="none" stroke="#7a7a7a" stroke-width="3.5" stroke-linecap="round" stroke-opacity="0.5"/>
<path d="M392.6 670.1h0M380.0 652.9h0M397.6 663.6h0M402.5 714.9h0M380.3 667.8h0M397.6 688.7h0M397.0 719.1h0M445.7 677.6h0M392.9 720.4h0M393.0 653.9h0M390.3 718.3h0M380.6 638.7h0M391.8 594.0h0M399.2 658.1h0M421.2 676.0h0M439.6 714.8h0M382.4 711.9h0M396.6 581.8h0M399.5 613.7h0M435.4 705.5h0M391.7 646.0h0M405.0 633.9h0M442.8 681.9h0M377.1 687.4h0M404.5 638.3h0M383.4 712.3h0M378.6 712.4h0M399.4 594.6h0M375.7 680.5h0M390.3 631.9h0M388.7 688.9h0M389.5 635.9h0M413.3 691.6h0M392.5 598.2h0M375.4 684.6h0M382.4 719.2h0M393.0 715.7h0M376.3 699.2h0M415.5 696.2h0M435.6 664.8h0M399.8 687.0h0M387.4 688.1h0M432.4 633.5h0M384.1 713.7h0M392.4 684.7h0M394.4 710.2h0M402.8 693.5h0M380.2 652.0h0M393.4 596.3h0M403.5 706.5h0M372.1 704.4h0M412.0 677.0h0M427.0 686.8h0M393.3 593.4h0M410.1 678.3h0M393.4 706.7h0M392.0 716.8h0M380.4 687.9h0M410.6 719.4h0M389.9 707.9h0M382.5 649.7h0M405.3 613.5h0M400.3 622.3h0M398.2 664.6h0M395.6 704.1h0M414.1 656.9h0M410.0 632.7h0M401.8 611.8h0M396.7 581.9h0M409.9 676.3h0M402.6 712.7h0M390.9 716.3h0M390.5 685.7h0M386.5 661.4h0M412.4 694.6h0M396.8 695.8h0M381.9 667.0h0M408.0 718.4h0M428.7 692.3h0M374.7 705.1h0M420.5 676.6h0M371.1 685.3h0M376.2 688.5h0M405.9 695.3h0M414.1 686.6h0M433.5 702.7h0M382.9 637.4h0M391.5 607.0h0M386.9 638.0h0M408.0 668.7h0M417.3 701.1h0M416.9 702.8h0M388.0 642.6h0M395.1 662.5h0M439.0 712.7h0M432.8 628.5h0M390.3 627.8h0M397.1 626.7h0M381.2 674.8h0M411.6 702.8h0M382.2 710.3h0M415.8 718.7h0M406.1 627.8h0M406.3 652.0h0M400.2 705.8h0M384.9 650.6h0M405.7 624.0h0M435.9 707.2h0M394.9 663.1h0M389.9 717.3h0M397.3 712.9h0M395.9 640.4h0M400.7 659.8h0M416.8 690.8h0M402.3 670.3h0M440.4 678.5h0M374.2 712.4h0M384.6 701.0h0M400.7 633.8h0M381.7 657.3h0M382.8 716.3h0M385.5 652.3h0M407.5 711.4h0M401.4 715.5h0M412.7 699.7h0M395.6 592.8h0M383.1 643.5h0M393.5 720.2h0M394.1 620.2h0M409.6 663.6h0M381.5 668.8h0M398.9 692.8h0M397.7 665.9h0M392.7 674.0h0M389.5 720.1h0M378.5 701.6h0M408.4 702.1h0M401.4 597.2h0M389.4 653.7h0M414.7 680.4h0M393.9 707.5h0M398.8 589.5h0M401.4 708.4h0M393.0 655.7h0M375.1 701.2h0M413.4 707.4h0M407.5 721.0h0M406.8 707.7h0M393.6 630.0h0M396.0 665.4h0M441.1 677.8h0M406.0 697.9h0M430.2 696.3h0M441.0 716.9h0M406.4 679.1h0M438.3 668.8h0M395.2 666.4h0M379.9 715.4h0M380.1 692.9h0M407.2 700.5h0M408.8 704.5h0M373.0 689.9h0M430.5 694.1h0M404.1 705.8h0M393.8 702.0h0M408.8 673.6h0M399.4 690.4h0M412.8 680.7h0M394.3 591.1h0M399.9 592.5h0M422.6 679.1h0M402.1 607.3h0M380.9 677.5h0M396.7 639.3h0M429.3 696.1h0M445.8 680.5h0M380.6 663.7h0M383.7 644.1h0M395.2 598.9h0M394.8 605.6h0M392.2 661.7h0M444.4 688.1h0M386.3 721.0h0M373.0 716.0h0M409.9 707.2h0M374.0 710.2h0M419.6 672.4h0M404.9 635.9h0M398.7 673.7h0M414.3 689.0h0M375.6 676.8h0M388.2 694.9h0M402.3 611.5h0M398.5 683.6h0M435.4 703.5h0M400.0 619.0h0M391.1 663.6h0M396.8 597.2h0M400.5 597.9h0M393.3 624.3h0M394.4 597.8h0M393.3 600.6h0M384.1 636.8h0M399.6 693.6h0M394.6 621.2h0M413.8 710.3h0M403.6 640.0h0M372.8 710.8h0M390.8 682.0h0M396.2 629.8h0M385.9 660.5h0M375.0 684.9h0M439.5 712.8h0M414.8 719.7h0M385.2 638.0h0M400.0 589.6h0M418.4 717.3h0M417.3 671.7h0M389.7 695.8h0M412.5 674.5h0M441.1 667.2h0M403.9 704.8h0M413.8 714.0h0M405.6 675.9h0M373.3 690.8h0M409.4 680.5h0M398.3 596.4h0M379.5 681.8h0M410.5 644.8h0M370.9 706.4h0M391.7 698.6h0M404.7 617.0h0M380.4 706.8h0M404.7 615.7h0M390.7 621.6h0M441.1 716.2h0M393.6 710.7h0M380.6 686.1h0M396.2 587.8h0M372.6 710.6h0M397.4 571.6h0M380.7 692.9h0M393.7 668.4h0M387.5 654.3h0M380.6 657.0h0M398.4 701.4h0M403.4 630.6h0M403.6 703.3h0M400.0 576.7h0M402.4 602.5h0M392.9 633.0h0M406.0 677.7h0M398.7 696.2h0M418.6 712.3h0M388.4 628.9h0M411.6 715.2h0M376.1 698.3h0M398.1 687.8h0M399.4 640.0h0M405.1 630.1h0M434.0 705.0h0M426.6 690.4h0M387.1 709.7h0M390.7 653.3h0M417.0 699.5h0M387.0 661.1h0M382.2 639.5h0M391.3 718.0h0M398.4 571.6h0M399.7 591.8h0M397.8 616.2h0M399.2 605.2h0M414.2 684.3h0M391.0 604.1h0M404.3 681.9h0M381.9 673.9h0M410.3 698.2h0M382.1 719.8h0M413.2 696.6h0M383.6 648.4h0M404.1 707.7h0M380.7 681.8h0M401.2 630.6h0M393.9 666.9h0M400.5 591.4h0M403.0 719.5h0M375.3 719.2h0M399.2 594.3h0M404.2 628.4h0M405.1 619.1h0M442.1 716.6h0M372.2 685.7h0M417.5 688.5h0M431.0 696.6h0M410.9 648.6h0M415.9 667.7h0M400.5 667.4h0M404.3 720.2h0M409.2 696.0h0M410.7 679.4h0M412.9 681.7h0M387.2 708.2h0M410.7 704.3h0M407.5 688.2h0M410.7 709.5h0M399.3 576.9h0M397.2 617.1h0M374.9 703.8h0M382.6 652.4h0M403.9 647.2h0M401.4 721.0h0M380.2 705.3h0M389.4 695.2h0M398.1 599.2h0M374.3 694.3h0M402.6 598.0h0M406.6 669.9h0M397.7 572.3h0M395.3 629.1h0M407.3 709.0h0M407.1 675.5h0M396.3 600.8h0M412.5 698.4h0M389.3 674.9h0M393.4 590.4h0M381.0 678.1h0M371.3 718.9h0M447.3 686.5h0M407.7 698.1h0M389.8 668.3h0M401.7 674.3h0M406.5 695.6h0M418.1 715.4h0M394.2 662.1h0M411.6 639.5h0M417.3 714.4h0M381.6 710.9h0M391.0 627.7h0M403.4 668.9h0M404.9 648.0h0M380.5 654.7h0M374.1 716.6h0M410.5 705.3h0M382.7 646.8h0M371.6 717.6h0M386.9 697.2h0M407.7 693.9h0M395.3 679.6h0M420.9 675.8h0M380.0 638.9h0M433.3 705.5h0M374.0 678.8h0M392.2 688.9h0M385.9 712.2h0M419.1 670.4h0M374.8 691.8h0M408.8 661.9h0M404.2 721.1h0M382.8 645.7h0M393.0 655.6h0M400.2 600.3h0M394.9 588.3h0M370.6 682.4h0M398.7 631.2h0M426.9 690.5h0M409.3 692.9h0M400.7 649.3h0M382.9 635.7h0M384.7 688.2h0M387.2 685.4h0M398.3 656.8h0M403.8 664.1h0M423.5 619.8h0M379.5 685.5h0M408.9 698.6h0M378.4 718.0h0M399.3 623.5h0M390.0 699.8h0M374.0 711.3h0M397.0 624.1h0M418.8 672.5h0M400.2 644.8h0M386.3 716.3h0M399.2 679.4h0M391.2 663.3h0M412.5 708.0h0M398.6 637.5h0M408.4 668.2h0M423.0 644.4h0M430.8 697.6h0M421.7 601.6h0M414.3 713.4h0M400.7 645.7h0M403.9 712.9h0M415.4 693.7h0M419.9 672.6h0M399.3 721.2h0M391.5 670.3h0M409.4 646.5h0M412.8 707.3h0M391.5 659.5h0M389.1 680.8h0M406.8 635.9h0M382.0 687.7h0M438.0 712.6h0M386.3 709.2h0M410.9 643.2h0M434.3 705.4h0M410.2 694.9h0M394.9 643.6h0M396.4 596.0h0M396.9 641.3h0M441.3 677.3h0M397.8 676.5h0M442.8 669.8h0M395.8 618.3h0M439.6 711.0h0M383.0 688.5h0M385.3 618.8h0M398.6 695.7h0M403.4 657.8h0M406.6 696.6h0M397.8 698.2h0M395.4 655.6h0M384.0 688.9h0M398.6 576.3h0M385.0 676.9h0M402.3 605.3h0M383.8 694.8h0M416.4 672.1h0M400.3 683.8h0M394.9 712.1h0M403.8 673.3h0M418.0 681.7h0M389.9 673.7h0M400.7 657.2h0M397.5 672.7h0M408.4 684.1h0M397.4 652.9h0M400.8 588.7h0M409.7 625.6h0M381.5 680.9h0M413.9 696.3h0M396.7 667.5h0M418.4 703.7h0M433.9 705.0h0M398.4 692.8h0M388.0 683.6h0M394.7 600.4h0M407.2 688.4h0M414.2 717.6h0M389.5 649.6h0M400.8 583.7h0M411.7 697.7h0M402.5 650.3h0M405.6 687.9h0M391.1 706.2h0M418.2 701.3h0M383.5 713.6h0M408.8 635.6h0M377.8 693.8h0M411.8 693.3h0M410.5 712.4h0M371.4 692.9h0M384.7 701.3h0M379.9 687.3h0M359.4 686.8h0M425.8 684.4h0M401.9 689.8h0M413.2 694.3h0M424.3 648.5h0M442.5 669.0h0M439.0 713.1h0M414.2 718.2h0M396.5 613.5h0M394.5 720.2h0M399.4 594.6h0M396.1 710.7h0M429.1 694.5h0M419.9 671.6h0M388.5 642.2h0M405.8 718.7h0M399.7 615.3h0M394.5 676.6h0M405.4 668.3h0M403.3 605.6h0M415.1 687.9h0M405.6 659.7h0M375.3 713.4h0M394.6 691.9h0M402.9 690.0h0M409.5 681.7h0M400.0 618.1h0M383.7 708.8h0M415.1 700.2h0M402.3 687.3h0M413.0 648.8h0M399.6 658.6h0M432.8 700.1h0M396.1 577.4h0M396.2 603.4h0M421.0 677.5h0M409.5 686.7h0M417.5 706.5h0M397.2 601.8h0M398.1 639.8h0M378.3 712.9h0M433.4 702.0h0M398.1 573.3h0M430.6 694.0h0M416.9 667.9h0M401.7 691.2h0M397.4 686.1h0M383.6 664.2h0M387.5 717.3h0M384.2 657.9h0M388.5 626.1h0M438.1 711.3h0M441.9 666.3h0M392.5 660.1h0M437.0 711.0h0M400.2 615.0h0M385.8 635.9h0M392.7 691.3h0M391.1 626.2h0M394.5 594.3h0M395.1 577.2h0M395.6 589.7h0M387.9 721.2h0M386.6 688.2h0M432.3 698.7h0M410.8 694.7h0M403.8 648.9h0M396.9 588.9h0M434.2 706.5h0M386.1 668.3h0M411.9 667.2h0M396.8 590.0h0M408.5 676.1h0M403.7 658.4h0M397.0 637.3h0M431.6 700.6h0M382.5 717.2h0M374.3 719.0h0M413.1 701.1h0M417.2 681.8h0M411.0 693.0h0M398.6 590.0h0M410.9 637.3h0M389.3 653.9h0M403.6 616.1h0M411.3 697.1h0M387.2 648.6h0M396.3 666.3h0M378.4 675.6h0M398.0 597.3h0M382.5 703.3h0M389.1 704.0h0M387.6 682.7h0M434.7 657.8h0M407.1 702.3h0M383.7 644.5h0M422.0 678.5h0M410.6 719.6h0M418.1 704.7h0M389.3 679.0h0M410.3 679.3h0" fill="none" stroke="#7a7a7a" stroke-width="3.5" stroke-linecap="round" stroke-opacity="0.5"/>
<path d="M631.0 612.2L625.1 623.0L623.3 656.8L622.7 720.5L647.1 720.5L648.8 688.7L646.5 656.8L644.1 632.9L639.9 613.8Z" fill="#7a7a7a" fill-opacity="0.9"/>
<path d="M648.8 664.8L667.2 709.4" stroke="#7a7a7a" stroke-width="3.4" stroke-linecap="round" stroke-opacity="0.85" fill="none"/>
<path d="M665.4 656.0L676.1 679.1" stroke="#7a7a7a" stroke-width="2.4" stroke-linecap="round" stroke-opacity="0.5" fill="none"/>
<path d="M672.6 652.8L677.3 660.8" stroke="#7a7a7a" stroke-width="3.5" stroke-linecap="round" stroke-opacity="0.7" fill="none"/>
<path d="M665.4 672.7L672.0 687.5" stroke="#7a7a7a" stroke-width="2.4" stroke-linecap="round" stroke-opacity="0.5" fill="none"/>
<path d="M611.5 672.7L603.1 720.5L620.4 720.5L619.8 672.7Z" fill="#7a7a7a" fill-opacity="0.7"/>
<path d="M613.7 679.9h0M669.1 662.5h0M647.8 710.5h0M611.0 656.8h0M619.3 715.8h0M636.3 642.5h0M609.8 666.0h0M624.6 700.2h0M658.6 689.0h0M637.4 636.4h0M639.0 698.7h0M648.5 680.2h0M629.2 667.3h0M616.8 624.6h0M648.4 677.6h0M627.4 712.6h0M629.6 668.0h0M638.1 662.6h0M610.0 702.5h0M650.6 651.2h0M619.5 706.0h0M611.6 650.2h0M658.3 687.9h0M644.4 634.1h0M604.5 705.6h0M627.8 589.7h0M643.9 692.7h0M616.6 685.0h0M618.7 685.8h0M629.6 720.3h0M642.0 695.7h0M609.8 688.0h0M629.1 596.5h0M617.4 668.5h0M635.0 700.1h0M636.6 650.3h0M630.5 684.9h0M635.6 656.2h0M630.7 702.4h0M610.5 682.3h0M627.7 669.9h0M643.5 694.9h0M624.3 683.8h0M636.1 614.4h0M636.9 712.4h0M628.6 618.9h0M639.2 604.9h0M642.0 628.2h0M618.2 713.9h0M670.3 654.3h0M645.5 646.0h0M622.3 617.4h0M612.0 640.7h0M649.0 702.3h0M634.2 614.4h0M631.7 717.3h0M618.7 624.4h0M648.3 701.7h0M649.1 695.3h0M664.1 656.2h0M647.1 719.2h0M644.9 716.1h0M619.9 623.3h0M632.4 710.4h0M628.6 624.3h0M634.6 612.0h0M636.5 690.5h0M623.7 651.5h0M649.6 669.4h0M605.8 704.9h0M646.3 696.2h0M610.8 694.5h0M635.1 625.2h0M614.8 670.0h0M650.8 697.7h0M642.7 654.3h0M648.9 665.5h0M669.0 686.0h0M632.3 637.5h0M618.7 668.6h0M630.9 696.3h0M614.2 660.5h0M625.9 630.8h0M616.9 626.5h0M608.0 687.4h0M623.6 651.8h0M628.5 672.9h0M632.8 613.9h0M637.2 619.4h0M620.2 639.3h0M618.4 682.2h0M633.8 668.5h0M621.5 674.6h0M632.5 643.4h0M621.9 719.8h0M617.4 631.5h0M640.4 689.3h0M627.1 703.1h0M643.9 706.9h0M618.1 631.7h0M626.5 690.9h0M639.7 683.4h0M637.8 653.6h0M648.2 711.6h0M659.4 691.2h0M614.1 637.0h0M677.2 657.5h0M633.0 626.3h0M641.3 621.5h0M648.5 662.2h0M662.2 699.4h0M631.9 706.2h0M646.8 719.8h0M641.4 655.6h0M646.6 713.8h0M647.5 710.4h0M627.3 720.2h0M622.3 637.8h0M627.5 718.0h0M624.9 600.9h0M639.9 686.4h0M610.1 708.2h0M623.4 714.9h0M641.7 636.1h0M648.6 713.8h0M643.5 640.8h0M622.2 695.0h0M612.1 679.6h0M612.3 635.4h0M632.2 636.0h0M649.2 665.1h0M640.5 620.2h0M631.1 643.9h0M650.8 719.6h0M631.0 697.8h0M628.0 611.0h0M624.8 714.0h0M642.4 696.1h0M620.2 668.3h0M653.4 675.8h0M637.5 622.5h0M635.1 604.5h0M650.1 659.1h0M629.2 591.6h0M622.1 691.5h0M642.5 610.4h0M623.9 616.5h0M621.1 718.1h0M613.4 710.4h0M625.3 691.1h0M626.4 691.6h0M641.0 617.0h0M644.4 685.4h0M635.1 683.0h0M637.0 668.3h0M647.0 643.6h0M638.7 702.6h0M624.3 696.8h0M648.8 706.5h0M626.3 718.3h0M630.7 605.9h0M635.8 610.1h0M637.4 690.9h0M667.9 710.4h0M632.4 719.2h0M622.6 651.6h0M627.5 706.5h0M626.8 680.2h0M642.7 659.9h0M621.8 624.1h0M628.2 678.5h0M628.9 591.7h0M626.3 665.8h0M670.8 683.5h0M608.0 687.3h0M631.2 645.4h0M648.2 716.6h0M641.0 691.3h0M623.1 708.3h0M635.2 651.3h0M611.3 626.7h0M622.1 680.9h0M637.4 624.1h0M640.6 619.2h0M625.9 588.6h0M616.2 691.6h0M671.2 682.8h0M612.5 635.5h0M640.4 712.0h0M633.0 665.6h0M623.7 699.6h0M665.0 704.3h0M624.0 653.2h0M635.2 685.0h0M620.9 632.4h0M624.4 698.2h0M646.0 655.8h0M626.6 713.0h0M649.2 693.4h0M606.8 683.9h0M617.5 633.3h0M641.6 692.3h0M615.2 646.2h0M639.8 708.1h0M642.7 679.5h0M651.8 672.4h0M648.3 656.1h0M623.0 645.3h0M636.7 629.9h0M638.7 679.8h0M633.2 703.0h0M606.5 676.9h0M609.9 704.4h0M636.0 628.1h0M637.5 668.6h0M649.5 693.0h0M624.3 710.8h0M637.8 609.0h0M623.0 662.4h0M642.8 684.0h0M646.8 695.5h0M625.1 710.1h0M644.1 692.0h0M649.5 684.0h0M641.0 612.6h0M673.9 673.6h0M635.5 680.1h0M642.3 694.8h0M617.3 619.4h0M651.1 678.3h0M640.4 668.5h0M628.6 626.3h0M627.0 641.7h0M618.6 661.9h0M629.4 658.6h0M623.4 702.3h0M639.8 673.4h0M666.0 651.6h0M610.8 647.9h0M634.8 626.0h0M633.3 620.4h0M647.4 714.0h0M673.0 655.7h0M621.1 670.2h0M628.7 683.6h0M626.8 680.5h0M646.8 650.5h0M630.1 662.1h0M632.1 611.3h0M607.1 713.9h0M632.8 644.5h0M656.7 680.6h0M635.1 611.2h0M626.6 635.3h0M648.7 693.9h0M655.4 681.4h0M611.3 668.4h0M630.9 617.8h0M629.6 719.1h0M631.7 672.8h0M644.8 624.6h0M635.5 720.4h0M664.8 673.0h0M624.0 639.7h0M632.5 636.5h0M634.5 650.8h0M618.4 704.0h0M621.3 675.5h0M640.5 618.2h0M635.6 682.2h0M637.5 678.6h0M649.2 656.2h0M621.1 660.2h0M623.9 608.5h0M631.2 677.0h0M648.3 657.1h0M630.4 653.3h0M644.5 667.5h0M619.3 626.3h0M622.8 679.4h0M635.8 685.4h0M632.4 608.2h0M626.5 671.6h0M628.0 656.9h0M631.4 648.5h0M649.3 705.2h0M623.7 678.3h0M626.1 700.6h0M622.5 684.9h0M627.3 594.2h0M619.1 695.3h0M677.0 658.4h0M630.8 646.3h0M630.3 662.6h0M648.6 665.5h0M625.3 718.4h0M635.0 628.2h0M610.0 693.2h0M627.6 719.8h0M654.1 679.4h0M624.6 635.9h0M663.3 700.7h0M648.1 698.4h0M615.2 645.4h0M666.0 708.3h0M649.9 710.0h0M675.9 659.7h0M632.4 714.1h0M626.8 628.2h0M640.6 676.4h0M627.4 698.3h0M638.2 624.5h0M636.2 616.8h0M637.1 707.0h0M649.4 717.4h0M616.1 670.9h0M620.6 694.4h0M627.7 646.2h0M614.7 618.5h0M625.0 681.4h0M640.5 706.9h0M647.5 708.1h0M627.0 635.8h0M621.3 637.0h0M661.3 646.5h0M660.8 694.3h0M635.9 694.2h0M608.0 691.3h0M616.6 642.4h0M626.2 640.9h0M634.5 693.9h0M634.2 671.8h0M640.1 677.8h0M636.5 650.7h0M618.8 646.7h0M627.5 626.0h0M607.4 701.0h0M627.3 627.2h0M625.3 719.1h0M605.6 709.2h0M633.4 680.5h0M643.5 641.3h0M621.2 714.3h0M666.6 711.2h0M656.7 684.7h0M639.7 649.6h0M627.3 611.6h0M632.6 671.2h0M638.0 699.3h0M634.7 654.0h0M652.4 672.8h0M624.0 661.8h0M610.9 614.1h0M644.7 671.5h0M643.1 707.9h0M614.5 687.5h0M623.6 680.3h0M640.5 648.9h0M639.9 671.2h0M665.9 673.2h0M611.6 642.9h0M612.5 672.2h0M636.8 617.2h0M630.0 692.9h0M652.4 672.0h0M616.6 688.7h0M665.2 703.4h0M649.7 689.7h0M620.4 672.0h0M608.9 695.2h0M661.9 694.4h0M650.9 670.0h0M630.4 698.7h0M620.7 688.6h0M649.3 699.9h0M639.1 623.7h0M614.0 649.8h0M645.1 655.7h0M608.1 676.8h0M639.1 690.6h0M621.9 678.4h0M627.9 606.1h0M636.9 615.8h0M636.8 654.6h0M634.7 646.4h0M645.9 699.4h0M672.6 670.2h0M622.8 715.9h0M651.8 671.7h0M626.0 719.9h0M634.8 610.7h0M618.4 676.5h0M626.1 617.3h0M623.5 704.7h0M604.3 711.7h0M645.4 652.4h0M635.7 661.2h0M630.1 660.8h0M610.6 616.1h0M614.7 666.7h0M618.8 655.1h0M630.9 648.9h0M621.3 710.5h0M638.3 701.0h0M641.2 663.0h0M611.8 622.9h0M616.1 628.3h0M625.7 656.0h0M638.3 685.3h0M618.5 711.0h0M629.9 656.1h0M623.9 686.0h0M614.0 653.3h0M634.3 670.1h0M625.9 669.1h0M649.7 675.7h0M648.9 699.6h0M653.0 674.3h0M650.2 680.7h0M622.2 640.7h0M640.4 667.5h0M646.9 664.0h0M635.8 699.7h0M634.3 618.1h0M611.7 623.9h0M629.4 676.1h0M630.7 699.8h0M625.9 634.9h0M650.5 666.2h0M629.7 592.2h0M636.8 691.5h0M644.5 655.9h0M615.0 670.4h0M630.9 660.1h0M631.0 661.5h0M635.4 614.2h0M649.1 700.0h0M638.2 627.8h0M674.8 653.7h0M633.1 611.2h0M632.5 669.0h0M611.1 676.3h0M666.4 659.7h0M637.0 628.9h0M666.2 657.5h0M657.1 636.9h0M635.5 606.5h0M609.2 707.4h0M631.5 713.6h0M625.8 605.2h0M638.4 686.7h0M653.1 675.4h0M622.8 666.8h0M616.3 654.1h0M660.5 694.0h0M638.3 675.9h0M623.9 654.1h0M637.9 629.5h0M628.2 714.3h0M626.3 590.6h0M611.2 672.7h0M646.4 695.9h0M610.5 624.0h0M644.7 649.7h0M624.8 717.3h0M644.7 694.2h0M643.1 650.5h0M670.9 683.9h0M625.0 601.8h0M636.0 626.1h0M625.4 648.6h0M645.0 658.2h0M606.4 687.4h0M639.9 693.7h0M651.8 662.8h0M628.6 719.5h0M627.0 670.7h0M626.0 670.0h0M622.0 621.2h0M620.4 657.2h0M627.3 599.6h0M638.5 620.7h0M636.1 715.2h0M613.7 665.8h0M645.3 689.3h0M635.1 672.9h0M644.2 659.7h0M615.7 672.6h0M639.8 655.5h0M631.1 656.0h0M631.1 609.8h0M644.7 622.4h0M630.2 621.7h0M643.2 676.8h0M615.3 700.5h0M636.5 668.9h0M629.5 647.3h0M626.3 599.1h0M624.7 651.9h0M629.5 662.2h0M645.9 688.6h0M634.7 707.0h0M648.4 657.0h0M614.3 661.8h0M660.6 691.3h0M636.1 612.6h0M616.0 646.3h0M641.0 689.2h0M630.0 668.3h0M656.1 681.6h0M612.1 669.0h0M627.0 681.7h0M662.3 698.4h0M613.0 666.4h0M622.8 616.8h0M666.8 707.5h0M635.7 640.1h0M667.9 662.6h0M640.1 622.1h0M622.0 659.9h0M642.4 698.3h0M637.4 617.9h0M644.4 672.5h0" fill="none" stroke="#7a7a7a" stroke-width="3.5" stroke-linecap="round" stroke-opacity="0.5"/>
<path d="M659.3 690.0h0M634.3 628.7h0M674.4 655.2h0M644.0 643.8h0M617.0 673.2h0M644.9 690.4h0M670.2 664.6h0M630.4 708.8h0M616.4 635.6h0M610.4 666.3h0M631.1 685.4h0M623.1 622.3h0M622.8 716.7h0M624.8 710.9h0M634.1 709.8h0M634.6 677.5h0M645.8 666.4h0M635.4 614.7h0M657.0 684.7h0M613.5 693.4h0M634.6 659.6h0M648.7 666.3h0M648.2 668.9h0M616.0 673.2h0M611.1 616.9h0M629.4 657.9h0M648.5 693.1h0M609.0 666.1h0M636.5 694.2h0M643.8 690.5h0M648.2 665.6h0M615.9 677.5h0M635.5 672.3h0M632.0 630.4h0M614.8 652.8h0M636.1 618.3h0M609.0 692.5h0M615.4 623.8h0M642.6 665.6h0M631.3 701.1h0M631.9 649.2h0M675.2 656.4h0M636.4 641.9h0M647.2 676.3h0M605.5 678.6h0M637.4 641.3h0M612.8 645.5h0M621.3 671.0h0M638.1 621.1h0M639.0 618.7h0M647.5 720.3h0M673.5 675.0h0M648.1 702.3h0M629.2 662.8h0M629.2 648.1h0M636.1 623.8h0M624.6 699.6h0M636.6 656.7h0M648.3 714.3h0M610.1 607.3h0M618.1 671.9h0M638.1 718.0h0M629.9 608.1h0M621.5 637.3h0M609.5 687.6h0M643.5 684.2h0M607.9 714.0h0M636.2 660.3h0M661.9 693.7h0M624.2 632.3h0M639.9 698.2h0M625.8 624.8h0M628.1 717.9h0M620.9 676.3h0M649.7 662.6h0M612.0 663.4h0M616.6 657.3h0M644.4 620.9h0M640.0 711.9h0M613.9 647.2h0M638.1 634.1h0M643.2 718.7h0M610.9 616.8h0M628.0 613.2h0M628.4 698.2h0M622.8 716.2h0M612.9 672.7h0M648.5 716.4h0M607.7 713.8h0M614.1 690.0h0M625.7 672.3h0M640.0 665.6h0M628.3 646.5h0M617.4 630.6h0M617.8 633.6h0M666.5 657.0h0M655.2 680.9h0M611.4 678.8h0M629.7 629.7h0M617.2 647.5h0M628.2 719.1h0M642.3 636.7h0M615.0 634.2h0M642.1 656.1h0M610.4 716.0h0M631.5 690.7h0M625.5 685.5h0M634.2 665.7h0M643.6 643.2h0M644.2 696.8h0M631.3 688.3h0M629.5 631.7h0M625.6 653.1h0M642.4 682.2h0M617.1 713.3h0M627.0 672.5h0M642.8 652.7h0M623.7 684.0h0M613.6 681.4h0M642.0 702.4h0M634.7 689.8h0M657.4 687.3h0M607.3 682.8h0M646.8 662.9h0M640.0 696.7h0M670.1 682.7h0M630.5 695.6h0M617.8 635.9h0M627.8 674.3h0M650.2 665.1h0M631.2 711.4h0M639.7 688.0h0M626.1 662.4h0M615.4 651.1h0M611.3 669.3h0M637.9 653.8h0M616.0 637.0h0M617.4 682.6h0M671.6 669.2h0M667.0 707.8h0M623.5 647.9h0M643.2 622.1h0M616.9 634.2h0M663.7 673.4h0M616.3 642.6h0M613.3 664.9h0M629.9 609.1h0M620.3 680.1h0M612.9 634.3h0M675.7 659.4h0M646.0 635.0h0M635.3 611.6h0M620.0 647.8h0M625.6 680.6h0M626.5 682.3h0M633.4 635.2h0M619.2 657.8h0M607.8 687.6h0M633.1 719.7h0M645.2 665.8h0M633.4 668.0h0M623.2 662.1h0M657.1 685.3h0M637.3 700.0h0M645.7 688.3h0M646.1 680.3h0M617.8 650.1h0M648.8 708.7h0M666.0 656.6h0M635.1 631.1h0M622.5 695.7h0M620.9 646.4h0M645.0 709.7h0M640.8 695.6h0M673.2 654.8h0M630.0 698.3h0M640.2 636.9h0M634.9 610.6h0M610.6 712.8h0M638.7 691.1h0M623.1 645.1h0M605.9 676.6h0M667.4 676.1h0M636.8 695.7h0M612.9 659.5h0M641.4 714.5h0M624.7 605.3h0M624.0 660.0h0M620.6 688.5h0M627.2 663.8h0M617.4 620.1h0M634.0 689.2h0M641.5 669.2h0M631.1 671.3h0M615.1 644.6h0M618.3 660.2h0M643.0 618.3h0M621.9 656.7h0M627.5 704.3h0M630.0 718.5h0M612.0 624.8h0M636.5 638.4h0M677.7 663.6h0M611.6 652.5h0M649.5 667.8h0M626.1 674.6h0M640.6 624.4h0M641.2 697.8h0M645.3 647.2h0M650.8 667.8h0M657.2 685.1h0M643.3 681.6h0M612.3 707.8h0M635.3 671.1h0M634.1 686.4h0M622.4 632.6h0M637.7 662.2h0M643.9 627.1h0M626.7 674.6h0M632.7 679.9h0M617.5 624.5h0M656.5 680.0h0M665.7 704.6h0M625.4 704.3h0M631.0 716.2h0M614.2 656.5h0M652.8 673.8h0M615.0 715.2h0M633.6 634.2h0M613.0 655.5h0M625.0 656.7h0M651.0 670.4h0M635.4 682.7h0M621.5 625.0h0M626.0 689.3h0M632.0 714.2h0M645.5 648.7h0M610.4 611.3h0M622.1 702.1h0M617.0 674.6h0M638.4 688.1h0M624.6 662.6h0M650.5 669.1h0M620.4 685.4h0M619.6 636.1h0M635.8 620.4h0M612.7 625.3h0M648.0 652.5h0M630.3 649.8h0M625.0 699.6h0M612.9 655.4h0M615.8 678.5h0M656.8 687.6h0M627.1 649.4h0M629.3 712.9h0M624.0 673.5h0M624.8 701.9h0M635.8 609.8h0M630.6 681.6h0M616.3 659.7h0M644.0 652.8h0M644.0 717.6h0M611.8 663.4h0M670.4 665.1h0M618.9 636.9h0M610.0 692.0h0M642.0 609.4h0M655.9 681.9h0M628.6 709.0h0M625.6 651.9h0M623.0 715.5h0M674.8 660.1h0M608.8 708.4h0M633.3 690.7h0M650.3 670.4h0M637.3 603.5h0M644.8 633.8h0M631.2 679.9h0M651.8 711.2h0M619.7 674.5h0M629.6 619.4h0M610.9 639.3h0M616.6 649.6h0M657.9 686.0h0M638.5 717.3h0M636.3 631.3h0M648.6 715.4h0M634.5 615.6h0M630.3 672.8h0M622.8 642.1h0M626.7 694.8h0M634.0 654.8h0M642.3 687.9h0M645.3 697.4h0M671.2 667.7h0M617.8 703.3h0M611.7 629.3h0M636.4 684.2h0M625.6 653.6h0M643.8 711.2h0M649.1 697.6h0M646.1 681.0h0M642.6 638.8h0M611.6 680.0h0M642.8 609.6h0M634.5 647.1h0M622.2 643.9h0M621.7 654.9h0M650.1 683.2h0M620.0 618.6h0M638.6 674.9h0M634.0 698.1h0M614.3 698.2h0M635.8 653.8h0M626.4 646.0h0M664.8 707.3h0M622.7 683.9h0M625.1 701.8h0M643.1 695.3h0M626.6 613.6h0M623.2 671.9h0M618.6 666.9h0M643.0 690.3h0M665.5 703.4h0M637.4 620.9h0M633.0 652.5h0M626.8 698.4h0M618.7 669.4h0M609.7 706.9h0M630.8 696.1h0M624.4 680.3h0M648.5 676.4h0M628.4 657.8h0M620.5 667.7h0M636.7 708.5h0M644.1 684.5h0M644.0 667.8h0M641.9 708.8h0M626.7 668.3h0M612.9 679.6h0M630.0 683.1h0M647.5 670.0h0M646.6 689.9h0M626.6 645.0h0M623.8 598.0h0M651.5 671.5h0M641.5 621.0h0M633.9 617.2h0M656.9 685.2h0M633.6 614.9h0M646.4 644.5h0M612.6 632.6h0M622.4 677.6h0M627.9 584.2h0M648.7 699.8h0M644.6 636.9h0M640.8 617.0h0M612.1 635.4h0M617.0 617.1h0M631.7 640.2h0M628.1 715.2h0M619.7 645.1h0M619.8 697.4h0M666.3 656.9h0M637.1 633.3h0M623.5 696.4h0M640.3 619.3h0M617.5 652.8h0M654.5 681.8h0M629.0 634.8h0M647.1 678.0h0M637.3 636.6h0M639.7 612.2h0M624.2 698.3h0M636.9 701.6h0M637.5 633.4h0M649.2 696.8h0M628.7 647.9h0M628.2 704.1h0M639.6 715.8h0M649.3 672.7h0M643.5 660.7h0M646.1 703.4h0M626.5 647.7h0M642.5 679.7h0M629.4 627.2h0M645.9 673.4h0M626.4 652.4h0M607.6 680.4h0M617.9 656.6h0M638.8 608.4h0M642.2 655.7h0M642.1 669.1h0M621.8 629.1h0M649.5 698.0h0M631.6 612.3h0M641.3 636.0h0M654.5 679.0h0M643.9 615.4h0M621.8 630.7h0M624.4 703.1h0M623.5 713.6h0M638.6 702.7h0M620.0 713.4h0M659.1 689.1h0M647.6 696.2h0M640.9 679.3h0M629.0 691.2h0M618.9 684.2h0M649.8 666.9h0M627.4 698.4h0M623.7 691.4h0M611.5 625.2h0M624.3 706.0h0M647.4 707.0h0M642.4 661.0h0M613.2 693.4h0M639.1 633.2h0M617.1 634.4h0M636.4 616.7h0M619.4 649.2h0M606.6 706.2h0M618.8 661.2h0M624.7 593.0h0M667.3 679.2h0M641.1 708.9h0M632.7 627.6h0M624.8 674.9h0M657.5 685.7h0M632.8 685.3h0M648.9 714.0h0M616.4 622.4h0M619.0 622.9h0M630.2 657.7h0M647.1 701.8h0M611.4 690.5h0M622.6 701.3h0M639.6 611.8h0M608.6 680.4h0M637.3 608.5h0M613.9 703.7h0M640.7 629.3h0M628.9 648.6h0M621.0 660.2h0M638.3 699.3h0M659.3 692.1h0M647.3 656.6h0M614.9 652.8h0M642.5 700.3h0M667.6 677.0h0M622.2 688.6h0M641.6 618.3h0M650.4 673.0h0M646.8 716.1h0M659.2 688.5h0M628.1 667.4h0M673.1 656.8h0M636.3 650.2h0M633.4 615.3h0M629.7 696.8h0M643.7 688.1h0M650.6 684.8h0M628.4 589.3h0M640.9 670.6h0M613.6 691.8h0M611.6 716.6h0M673.9 656.7h0M666.8 659.8h0M627.3 591.1h0M651.1 717.0h0M641.7 614.4h0M620.0 635.9h0M642.0 713.8h0M642.5 656.8h0M633.0 705.8h0M616.6 624.8h0M656.9 686.7h0M636.1 716.2h0M633.5 652.2h0M644.8 720.1h0M614.6 657.3h0M631.2 611.8h0M611.9 697.7h0M639.6 669.5h0M648.7 669.1h0M643.9 703.2h0M648.1 682.4h0M662.6 696.2h0M637.2 619.0h0M631.4 632.1h0M642.4 690.0h0M628.5 716.5h0M633.7 716.2h0M632.0 650.2h0M638.9 638.6h0M637.2 603.6h0M634.3 659.5h0M642.5 633.2h0M632.5 663.9h0M639.5 670.7h0M619.9 628.5h0M628.7 709.1h0M630.0 695.5h0M619.5 634.0h0M628.2 702.7h0M619.3 699.5h0M605.9 684.4h0M651.6 676.9h0M615.9 648.4h0M657.3 683.9h0M668.2 662.7h0M621.5 685.4h0M634.2 628.5h0M614.5 640.8h0M634.9 694.8h0M647.2 674.0h0M646.1 686.1h0M623.8 616.1h0M656.3 682.3h0M617.7 617.4h0M649.1 664.9h0M632.7 659.9h0M621.0 688.8h0" fill="none" stroke="#7a7a7a" stroke-width="3.5" stroke-linecap="round" stroke-opacity="0.5"/>
<path d="M616.9 699.0h0M651.9 697.5h0M603.7 716.8h0M624.4 697.3h0M637.9 672.3h0M635.5 696.0h0M624.4 623.0h0M658.7 688.1h0M630.6 717.6h0M632.1 632.4h0M649.8 668.6h0M583.6 670.4h0M611.4 617.3h0M606.8 708.4h0M644.2 708.9h0M656.7 684.7h0M648.0 694.3h0M624.4 678.1h0M614.0 691.1h0M641.3 675.7h0M629.7 644.2h0M613.4 653.8h0M627.3 615.9h0M626.5 717.8h0M639.8 619.8h0M620.7 620.2h0M642.2 610.4h0M648.5 671.7h0M645.7 673.7h0M620.5 657.1h0M645.0 717.5h0M637.3 697.3h0M641.5 715.8h0M620.2 703.6h0M671.3 667.6h0M643.4 622.0h0M618.1 619.2h0M645.7 681.3h0M608.9 657.3h0M661.8 693.9h0M627.1 676.5h0M637.5 603.6h0M630.6 627.3h0M667.7 658.7h0M656.6 685.7h0M639.8 653.0h0M611.4 668.0h0M615.5 641.9h0M613.6 675.1h0M645.0 716.7h0M645.8 703.0h0M639.8 664.3h0M624.6 644.5h0M640.2 640.7h0M615.1 651.0h0M637.9 705.9h0M632.2 677.6h0M631.6 619.8h0M629.5 677.2h0M631.8 718.8h0M635.1 646.8h0M638.2 687.6h0M646.2 656.5h0M624.7 607.9h0M625.8 713.9h0M608.9 680.5h0M643.3 621.1h0M667.5 677.3h0M609.0 690.8h0M642.4 693.4h0M626.6 674.8h0M647.4 676.3h0M637.3 614.1h0M627.1 645.2h0M604.4 705.5h0M609.7 683.9h0M620.4 703.3h0M608.9 683.1h0M626.2 707.8h0M675.8 678.3h0M617.2 662.9h0M618.8 692.2h0M629.2 683.2h0M631.8 688.3h0M630.4 605.7h0M631.5 653.7h0M624.5 684.4h0M647.8 687.5h0M671.7 668.4h0M621.6 661.1h0M638.0 719.7h0M610.2 670.9h0M614.2 650.6h0M648.9 679.8h0M631.3 624.5h0M641.9 660.5h0M641.2 624.8h0M626.3 693.7h0M629.0 638.4h0M635.5 614.1h0M637.6 683.1h0M642.0 669.0h0M609.6 648.8h0M644.3 665.5h0M634.5 667.0h0M637.4 662.8h0M633.2 658.0h0M618.3 693.2h0M639.3 607.5h0M613.5 634.7h0M641.3 632.8h0M660.7 693.2h0M608.5 698.1h0M631.2 661.8h0M624.5 675.4h0M635.8 612.1h0M652.4 629.0h0M610.7 703.7h0M607.0 672.7h0M610.7 697.3h0M615.4 658.8h0M643.9 653.0h0M638.4 620.1h0M646.5 689.3h0M642.2 653.7h0M636.3 710.2h0M627.4 719.4h0M622.8 676.0h0M641.6 711.2h0M617.8 628.7h0M626.2 634.5h0M645.6 633.5h0M625.8 714.8h0M665.7 673.8h0M632.0 609.9h0M649.6 667.2h0M626.6 598.3h0M617.9 692.2h0M644.8 719.3h0M607.7 681.1h0M675.0 654.8h0M662.2 697.1h0M635.0 693.9h0M641.7 627.5h0M650.8 714.5h0M624.2 716.8h0M644.1 639.1h0M646.5 647.3h0M627.1 664.2h0M619.5 710.0h0M624.2 710.9h0M618.2 686.0h0M620.1 638.6h0M652.5 672.4h0M676.2 661.9h0M646.8 655.1h0M656.2 683.3h0M629.4 608.5h0M623.8 718.3h0M665.9 675.3h0M626.8 669.9h0M619.8 639.4h0M638.5 720.3h0M644.1 642.4h0M643.7 672.1h0M626.8 605.3h0M639.9 699.8h0M645.6 691.3h0M630.2 687.9h0M632.7 674.7h0M607.3 692.8h0M611.3 673.0h0M660.8 695.3h0M637.7 687.3h0M631.6 649.4h0M632.8 649.8h0M626.1 656.5h0M640.5 664.4h0M638.6 669.0h0M631.5 705.5h0M614.7 669.5h0M624.0 634.0h0M637.9 617.2h0M633.1 720.0h0M627.8 697.3h0M669.0 662.7h0M620.8 627.1h0M637.9 625.3h0M607.0 706.5h0M605.8 698.6h0M610.6 656.0h0M642.4 651.5h0M667.6 660.1h0M665.1 703.8h0M630.4 665.2h0M612.7 708.1h0M636.7 705.9h0M639.7 693.5h0M605.0 689.8h0M610.7 617.4h0M638.4 611.8h0M634.4 672.1h0M642.5 705.2h0M658.1 689.0h0M612.3 654.9h0M632.4 717.7h0M622.3 625.9h0M637.5 603.7h0M636.0 704.2h0M612.0 639.5h0M635.4 635.2h0M653.9 677.3h0M646.5 664.3h0M634.2 678.4h0M613.1 709.0h0M644.1 676.0h0M633.1 707.7h0M621.3 641.4h0M629.0 620.5h0M654.1 675.1h0M644.8 682.5h0M641.1 688.8h0M624.6 627.2h0M642.2 715.3h0M636.1 623.9h0M645.2 666.8h0M640.9 694.5h0M637.5 673.9h0M627.8 700.1h0M636.2 698.0h0M638.1 627.6h0M640.9 668.8h0M659.0 687.4h0M638.6 716.8h0M641.6 703.2h0M626.9 691.1h0M623.7 611.4h0M648.9 664.7h0M639.3 614.4h0M607.8 678.6h0M631.6 692.2h0M623.9 643.8h0M615.7 651.7h0M630.6 662.3h0M645.7 686.7h0M625.6 624.6h0M669.4 680.6h0M615.9 630.1h0M621.3 667.4h0M638.1 713.0h0M662.2 693.8h0M631.6 711.4h0M638.8 613.8h0M640.0 683.7h0M635.2 662.8h0M613.5 634.7h0M644.7 702.1h0M611.1 621.0h0M620.0 655.5h0M618.3 642.0h0M641.5 696.2h0M647.5 640.6h0M625.7 673.2h0M639.2 618.0h0M646.0 716.1h0M609.3 673.9h0M657.0 685.2h0M638.5 619.4h0M630.9 720.5h0M654.9 678.6h0M670.9 667.9h0M629.0 593.3h0M626.5 667.8h0M646.6 693.5h0M642.5 648.5h0M625.6 687.4h0M612.9 668.0h0M617.4 718.4h0M619.3 662.5h0M627.9 593.7h0M643.1 635.1h0M666.8 706.5h0M642.7 666.8h0M624.5 670.1h0M615.4 681.7h0M644.9 670.8h0M589.5 685.1h0M625.9 699.0h0M638.4 616.0h0M645.5 670.3h0M666.1 707.3h0M641.4 668.5h0M634.3 677.9h0M629.4 706.4h0M610.3 708.7h0M634.1 637.6h0M620.5 648.6h0M628.1 686.4h0M622.1 628.3h0M624.0 702.5h0M626.4 610.3h0M625.8 617.9h0M635.3 651.3h0M667.0 707.4h0M626.3 670.8h0M642.9 671.9h0M631.5 651.7h0M619.6 702.2h0M629.6 643.0h0M644.0 688.8h0M620.9 686.6h0M627.8 702.3h0M613.8 690.5h0M643.4 675.9h0M630.7 715.3h0M627.7 600.7h0M642.8 637.5h0M645.0 690.8h0M630.0 661.2h0M634.4 711.5h0M648.3 664.7h0M666.9 707.6h0M644.4 621.7h0M668.8 660.5h0M674.5 672.8h0M671.7 673.4h0M608.6 669.5h0M669.0 650.1h0M643.6 676.4h0M640.5 699.4h0M620.9 682.7h0M636.8 669.8h0M630.4 600.2h0M634.2 663.6h0M609.8 657.4h0M656.4 685.7h0M605.1 709.6h0M622.4 704.0h0M647.6 704.5h0M628.9 659.2h0M611.8 646.7h0M631.8 653.5h0M635.8 699.6h0M632.0 668.1h0M620.2 636.8h0M674.5 654.2h0M632.5 611.4h0M611.6 670.9h0M628.1 697.0h0M627.5 705.3h0M613.7 637.1h0M647.8 663.5h0M631.8 701.3h0M631.5 678.6h0M646.3 634.6h0M645.4 633.5h0M642.0 675.5h0M667.0 710.0h0M634.2 677.3h0M643.1 701.2h0M639.3 714.1h0M614.9 642.8h0M672.7 655.5h0M625.3 711.1h0M647.1 671.6h0M675.8 658.7h0M672.6 654.6h0M632.0 687.1h0M612.6 654.7h0M634.6 621.3h0M644.7 671.0h0M636.0 616.5h0M650.4 672.9h0M631.8 667.9h0M643.7 678.8h0M632.7 640.3h0M634.2 700.9h0M637.4 643.9h0M634.4 646.4h0M618.3 650.7h0M623.5 665.2h0M619.3 688.0h0M641.6 713.3h0M642.6 703.2h0M635.8 665.8h0M644.2 714.2h0M639.3 714.6h0M641.2 619.9h0M645.5 702.1h0M614.3 654.0h0M613.6 650.4h0M626.9 603.6h0M635.0 615.9h0M637.0 719.4h0M646.7 720.4h0M636.9 717.6h0M624.7 618.7h0M613.3 658.1h0M636.6 632.9h0M641.1 691.5h0M634.1 642.7h0M649.4 665.5h0M624.4 601.5h0M639.8 620.4h0M630.5 635.8h0M645.3 697.6h0M626.9 704.2h0M635.8 688.7h0M609.2 687.5h0M622.3 691.8h0M615.7 685.4h0M611.3 620.5h0M640.3 674.3h0M628.2 636.6h0M642.5 701.9h0M615.5 651.8h0M623.1 682.6h0M612.5 702.8h0M627.3 710.9h0M643.8 669.9h0M631.4 647.5h0M635.6 692.3h0M612.0 695.3h0M620.2 627.5h0M632.5 626.1h0M614.1 640.7h0M637.3 656.3h0M649.4 719.3h0M618.3 706.5h0M631.6 601.5h0M642.5 669.5h0M647.3 644.1h0M657.1 686.6h0M642.6 719.3h0M630.9 665.4h0M627.2 713.2h0M606.5 672.6h0M638.1 605.9h0M612.3 664.9h0M641.9 638.2h0M628.3 710.0h0M622.8 667.1h0M609.2 674.0h0M618.9 624.3h0M627.6 631.5h0M617.0 652.6h0M641.6 622.2h0M621.2 617.7h0M623.3 633.8h0M614.2 716.3h0M644.1 716.3h0M613.8 681.1h0M620.7 642.9h0M668.5 662.7h0M641.7 617.3h0M631.7 630.2h0M642.4 616.4h0M610.5 616.5h0M637.4 691.4h0M646.3 634.2h0M674.7 672.4h0M631.0 620.6h0M647.8 714.7h0M636.6 647.0h0M650.4 705.5h0M650.6 667.9h0M632.0 616.3h0M675.3 655.7h0M611.9 684.5h0M612.2 632.0h0M646.2 623.4h0M640.1 640.9h0M633.5 706.5h0M640.5 715.4h0M630.6 666.7h0M626.1 624.6h0M643.5 626.8h0M640.9 640.4h0M610.4 644.9h0M674.7 673.2h0M667.5 660.3h0M673.6 673.2h0M625.9 603.0h0M664.2 701.8h0M631.8 680.5h0M649.0 692.5h0M634.3 668.5h0M662.2 695.2h0M620.0 692.6h0M627.2 675.6h0M626.3 618.7h0M626.2 711.5h0M635.5 664.9h0M617.7 683.4h0M615.6 714.7h0M636.5 706.2h0M634.7 709.0h0M629.3 666.1h0M627.7 694.2h0M607.8 693.8h0M639.7 703.0h0M642.1 629.2h0M650.7 669.3h0M633.3 703.7h0M614.2 694.7h0M629.7 690.7h0M649.2 666.2h0M610.5 685.8h0M615.9 685.0h0M642.4 631.7h0M637.5 664.0h0M677.1 659.0h0M611.3 653.7h0M639.1 706.2h0M641.5 688.1h0M648.8 672.9h0M637.6 713.3h0M637.0 615.6h0M643.7 613.0h0M637.9 694.1h0M634.1 605.5h0M612.3 615.2h0" fill="none" stroke="#7a7a7a" stroke-width="3.5" stroke-linecap="round" stroke-opacity="0.5"/>
<path d="M623.6 658.4h0M633.9 616.5h0M631.4 699.9h0M636.0 664.8h0M622.8 687.2h0M637.3 616.4h0M614.7 634.3h0M621.5 670.8h0M666.6 705.6h0M675.2 653.7h0M637.1 693.7h0M624.3 682.3h0M616.1 680.6h0M636.6 716.0h0M642.5 629.2h0M640.8 620.0h0M627.3 658.5h0M638.3 686.9h0M639.0 656.9h0M628.3 687.4h0M617.7 676.6h0M621.0 669.1h0M623.9 690.5h0M633.7 639.9h0M604.4 696.3h0M651.3 672.5h0M624.6 629.6h0M615.0 692.6h0M650.6 683.7h0M646.0 714.2h0M629.4 712.1h0M644.6 707.4h0M625.9 708.4h0M606.3 687.0h0M635.9 621.2h0M612.6 679.4h0M628.2 621.1h0M643.2 648.3h0M631.2 703.7h0M645.9 623.5h0M608.5 665.0h0M616.4 619.1h0M610.1 683.3h0M632.6 671.8h0M617.0 703.6h0M614.1 627.3h0M608.8 690.3h0M614.4 685.1h0M647.4 624.9h0M664.6 704.2h0M650.9 669.9h0M642.1 690.3h0M647.2 682.7h0M612.2 632.8h0M607.1 712.9h0M626.4 584.3h0M630.0 686.2h0M611.8 613.8h0M644.7 611.7h0M604.0 719.5h0M660.2 693.1h0M619.8 644.1h0M628.3 718.1h0M644.0 708.7h0M616.1 644.5h0M628.6 648.4h0M611.8 653.1h0M640.3 706.5h0M645.1 631.0h0M640.8 673.4h0M614.7 620.8h0M647.1 677.9h0M624.6 610.1h0M632.4 627.7h0M628.2 631.5h0M649.6 667.2h0M626.3 656.2h0M606.8 675.7h0M622.6 651.9h0M639.8 659.1h0M644.8 695.6h0M646.6 623.9h0M620.8 670.8h0M621.0 680.9h0M634.5 671.1h0M609.8 665.6h0M613.9 630.6h0M624.8 708.0h0M643.9 678.8h0M667.7 680.3h0M616.6 617.0h0M622.5 648.9h0M628.8 650.3h0M645.2 717.3h0M663.3 698.3h0M620.0 648.6h0M647.2 671.6h0M646.7 707.6h0M614.7 687.4h0M630.7 656.6h0M612.7 675.4h0M644.6 664.6h0M639.5 696.4h0M628.6 629.6h0M618.5 663.3h0M639.6 665.3h0M611.7 665.2h0M641.0 657.1h0M632.0 693.9h0M635.7 606.5h0M650.7 685.0h0M622.0 648.0h0M636.4 614.9h0M644.7 693.0h0M625.0 680.5h0M621.8 710.1h0M633.1 698.6h0M665.2 672.5h0M633.9 625.9h0M634.8 625.5h0M652.5 675.7h0M612.7 620.2h0M647.9 700.4h0M627.4 709.5h0M627.2 624.5h0M641.1 663.8h0M644.9 624.9h0M645.0 712.3h0M630.8 707.6h0M643.4 616.7h0M629.9 652.2h0M637.9 635.3h0M649.4 713.2h0M610.9 681.2h0M646.2 671.6h0M637.2 620.8h0M661.6 696.6h0M603.2 702.6h0M642.9 628.5h0M632.0 636.8h0M635.9 619.7h0M636.2 626.7h0M640.0 669.0h0M664.7 671.8h0M631.9 621.7h0M615.7 645.3h0M663.8 703.2h0M628.4 645.5h0M646.4 651.3h0M643.4 649.0h0M612.7 623.9h0M645.9 708.2h0M636.7 613.6h0M637.1 714.3h0M618.5 636.7h0M612.4 648.8h0M633.2 644.7h0M623.8 653.7h0M663.0 699.7h0M637.6 629.3h0M614.7 651.3h0M617.8 708.6h0M669.7 666.7h0M611.1 660.9h0M638.8 718.6h0M614.2 646.3h0M647.5 668.3h0M635.9 619.1h0M641.7 638.4h0M622.4 640.5h0M640.7 628.2h0M628.9 695.8h0M648.5 676.4h0M643.5 615.6h0M619.7 714.1h0M619.9 654.0h0M614.0 708.2h0M623.5 679.6h0M648.4 704.8h0M608.8 716.6h0M636.1 644.0h0M631.1 618.7h0M615.7 703.0h0M656.3 682.9h0M653.3 673.8h0M632.4 718.4h0M660.5 690.8h0M621.1 648.2h0M629.5 624.6h0M643.8 698.5h0M629.5 664.8h0M645.0 667.4h0M643.7 620.5h0M610.6 692.7h0M614.9 663.6h0M634.7 718.5h0M638.4 624.7h0M592.5 696.2h0M631.0 664.3h0M622.7 704.3h0M642.7 638.6h0M644.3 673.5h0M628.7 705.0h0M633.2 683.6h0M623.0 622.2h0M617.6 660.1h0M643.1 630.2h0M644.7 677.6h0M634.6 687.2h0M623.0 651.6h0M631.9 693.0h0M635.8 703.4h0M633.1 704.9h0M625.2 660.0h0M673.1 670.8h0M623.7 675.1h0M641.4 704.7h0M622.9 680.0h0M622.7 666.0h0M617.9 646.2h0M631.1 617.4h0M612.8 632.7h0M674.6 673.7h0M633.6 653.1h0M640.9 660.2h0M622.1 659.4h0M622.9 700.2h0M640.0 697.2h0M647.1 689.8h0M626.7 688.5h0M631.5 614.3h0M623.4 597.9h0M630.2 600.8h0M659.1 688.5h0M628.4 621.7h0M634.7 624.5h0M622.7 646.4h0M606.4 704.7h0M624.6 606.8h0M662.7 698.7h0M615.6 633.0h0M642.1 625.6h0M676.2 677.6h0M627.8 603.8h0M649.3 681.8h0M635.6 616.5h0M626.7 617.3h0M630.3 678.9h0M665.4 708.2h0M617.7 617.5h0M618.6 645.3h0M620.3 689.8h0M637.6 689.0h0M617.6 650.0h0M661.4 697.4h0M632.3 615.2h0M639.7 651.4h0M632.6 642.6h0M651.5 659.3h0M617.5 662.7h0M653.6 675.1h0M669.2 665.8h0M631.9 639.2h0M668.0 661.7h0M642.5 709.0h0M628.9 713.6h0M619.3 662.6h0M625.6 605.2h0M656.7 684.1h0M622.1 633.4h0M644.2 706.9h0M634.1 687.2h0M643.2 628.4h0M617.7 682.3h0M627.2 589.5h0M646.0 686.1h0M639.2 694.1h0M646.1 659.9h0M611.0 615.5h0M665.1 704.9h0M605.3 688.6h0M659.8 691.3h0M624.9 645.9h0M643.9 664.4h0M644.3 656.4h0M641.2 611.7h0M617.9 704.2h0M677.4 660.4h0M619.6 698.1h0M635.7 639.8h0M613.8 632.3h0M624.3 637.8h0M645.9 698.5h0M644.8 621.1h0M636.1 612.2h0M636.8 691.2h0M625.2 591.4h0M648.2 647.1h0M629.6 717.7h0M664.3 701.1h0M614.5 622.0h0M634.4 693.7h0M610.6 681.5h0M644.5 650.5h0M634.5 700.3h0M635.6 623.5h0M616.7 654.5h0M613.7 654.2h0M636.7 690.2h0M611.3 642.5h0M638.2 660.3h0M626.0 714.1h0M626.6 637.6h0M632.8 700.3h0M649.6 667.4h0M660.5 693.7h0M617.4 648.8h0M627.2 661.2h0M677.9 662.8h0M559.8 562.1h0M623.2 697.7h0M612.7 681.1h0M634.7 641.8h0M645.9 642.5h0M635.0 661.0h0M634.6 618.2h0M625.7 649.6h0M638.0 708.2h0M615.4 687.0h0M632.4 680.9h0M677.8 663.1h0M648.3 663.5h0M625.0 672.5h0M642.8 682.4h0M643.8 669.0h0M605.4 719.1h0M623.3 587.1h0M631.4 608.5h0M631.1 668.1h0M622.6 667.9h0M595.4 706.2h0M645.1 716.7h0M621.4 618.8h0M632.1 658.0h0M646.2 691.9h0M615.9 647.6h0M620.6 660.7h0M628.2 681.4h0M639.8 618.3h0M676.2 661.3h0M672.2 670.5h0M625.6 689.9h0M627.2 642.7h0M649.5 679.9h0M622.0 628.5h0M625.6 588.3h0M608.9 688.7h0M626.2 719.9h0M616.7 666.0h0M640.5 699.2h0M643.4 611.4h0M634.8 674.7h0M644.2 669.4h0M635.3 675.3h0M619.8 654.8h0M631.9 638.9h0M635.6 681.7h0M619.0 651.9h0M646.0 670.1h0M640.2 699.4h0M639.2 663.5h0M625.1 652.5h0M628.5 708.2h0M671.7 650.8h0M627.3 584.8h0M631.0 638.7h0M623.7 651.7h0M618.1 641.7h0M635.7 706.5h0M635.4 718.1h0M631.2 669.7h0M632.9 619.4h0M638.1 666.4h0M633.3 628.3h0M641.0 658.5h0M623.2 710.6h0M647.3 688.9h0M663.5 700.6h0M611.3 712.7h0M625.9 689.6h0M639.4 638.1h0M648.2 678.5h0M611.7 688.6h0M623.6 602.9h0M632.1 697.2h0M606.9 688.4h0M656.9 683.6h0M609.2 712.3h0M638.3 685.1h0M642.1 615.4h0M633.3 654.7h0M675.4 676.5h0M640.1 629.0h0M647.2 656.2h0M619.8 639.4h0M619.3 684.9h0M639.1 653.4h0M628.2 707.0h0M634.8 679.3h0M606.9 679.0h0M597.2 715.7h0M612.2 640.5h0M664.2 672.3h0M670.3 684.2h0M645.2 705.3h0M607.1 690.5h0M634.3 684.4h0M632.1 668.1h0M644.5 631.5h0M627.2 687.1h0M625.6 594.2h0M635.1 650.8h0M635.7 616.7h0M646.8 695.8h0M646.7 708.2h0M635.6 610.5h0M617.7 678.3h0M647.7 645.4h0M612.2 630.2h0M630.6 625.1h0M628.6 655.3h0M615.2 631.6h0M633.0 718.4h0M627.6 673.9h0M623.3 668.1h0M631.3 694.7h0M627.6 719.7h0M644.6 689.3h0M622.6 709.8h0M626.2 701.0h0M634.9 693.4h0M630.9 597.1h0M640.6 620.7h0M611.9 632.9h0M625.8 675.8h0M664.7 672.6h0M623.2 667.3h0M632.5 704.9h0M626.9 716.6h0M634.0 709.7h0M606.3 691.2h0M635.3 645.7h0M649.1 719.3h0M632.3 685.0h0M666.7 676.1h0M638.8 687.3h0M665.7 672.1h0M607.9 667.7h0M616.2 646.4h0M613.5 720.0h0M650.9 668.7h0M638.9 632.0h0M610.0 660.0h0M636.3 680.4h0M627.9 608.9h0M653.3 674.7h0M626.2 683.3h0M615.6 669.1h0M630.3 720.5h0M641.6 622.7h0M640.2 663.2h0M676.0 656.7h0M607.0 694.4h0M610.3 685.4h0M643.8 682.9h0M635.4 648.0h0M620.1 645.3h0M635.9 603.5h0M660.2 695.4h0M633.6 709.7h0M632.3 679.4h0M642.7 621.7h0M647.0 662.3h0M624.3 698.2h0M631.9 667.3h0M643.1 710.8h0M623.1 691.7h0M636.7 603.4h0M620.1 715.9h0M622.2 617.2h0M640.2 660.6h0M666.3 703.5h0M649.0 684.0h0M644.1 625.0h0M618.0 627.6h0M657.7 685.3h0M633.1 619.4h0M611.7 629.5h0M613.1 694.0h0M621.4 689.3h0M648.4 717.0h0M617.4 675.4h0M624.3 706.2h0M629.6 689.1h0M607.7 715.9h0M643.1 659.0h0M634.0 664.4h0M636.0 627.8h0M635.2 621.8h0M648.3 720.3h0M644.5 648.9h0M621.6 647.7h0M644.6 635.0h0M627.0 594.8h0M616.1 658.0h0M630.1 643.2h0M643.2 717.6h0M633.1 699.7h0M671.4 685.9h0M635.5 611.5h0M624.5 651.1h0M636.0 688.3h0" fill="none" stroke="#7a7a7a" stroke-width="3.5" stroke-linecap="round" stroke-opacity="0.5"/>
<path d="M41.3 9.5L46.4 17.9L54.5 28.9L61.9 37.6L70.2 46.4L79.5 54.5L89.8 61.4L100.2 66.8L111.8 71.2L123.6 74.8L135.4 77.4L140.6 78.6L159.2 81.9L173.9 83.3L188.6 84.2L209.8 84.5M55.3 10.3L64.8 20.2L73.7 29.6L83.9 37.6L92.7 43.5L100.2 47.1L111.8 50.8L123.6 54.1L133.8 57.0L140.6 58.5L159.2 61.7L173.9 63.6L188.6 64.3L216.3 64.3M88.6 10.3L100.2 15.0L111.8 19.4L123.6 23.1L136.1 26.0L140.6 26.7L159.2 29.2L173.9 30.7L188.6 31.4L211.9 31.7" stroke="#a3222b" stroke-width="1.25" stroke-dasharray="4.4 3" fill="none"/>
<text x="137.6" y="24.0" class="lb">1d</text>
<text x="128.1" y="55.0" class="lb">4d</text>
<text x="118.9" y="72.1" class="lb">16d</text>
<path d="M280.5 9.6L285.6 18.0L293.7 29.0L301.1 37.7L309.4 46.5L318.7 54.6L329.0 61.5L339.4 66.9L351.0 71.3L362.8 74.9L374.6 77.5L379.8 78.7L398.4 82.0L413.1 83.4L427.8 84.3L449.0 84.6M294.5 10.4L304.0 20.3L312.9 29.7L323.1 37.7L331.9 43.6L339.4 47.2L351.0 50.9L362.8 54.2L373.0 57.1L379.8 58.6L398.4 61.8L413.1 63.7L427.8 64.4L455.5 64.4M327.8 10.4L339.4 15.1L351.0 19.5L362.8 23.2L375.3 26.1L379.8 26.8L398.4 29.3L413.1 30.8L427.8 31.5L451.1 31.8" stroke="#a3222b" stroke-width="1.25" stroke-dasharray="4.4 3" fill="none"/>
<text x="376.8" y="24.1" class="lb" fill="#fff">1d</text>
<text x="367.3" y="55.1" class="lb">4d</text>
<text x="358.1" y="72.2" class="lb">16d</text>
<path d="M504.4 9.5L509.5 17.9L517.6 28.9L525.0 37.6L533.3 46.4L542.6 54.5L552.9 61.4L563.3 66.8L574.9 71.2L586.7 74.8L598.5 77.4L603.7 78.6L622.3 81.9L637.0 83.3L651.7 84.2L672.9 84.5M518.4 10.3L527.9 20.2L536.8 29.6L547.0 37.6L555.8 43.5L563.3 47.1L574.9 50.8L586.7 54.1L596.9 57.0L603.7 58.5L622.3 61.7L637.0 63.6L651.7 64.3L679.4 64.3M551.7 10.3L563.3 15.0L574.9 19.4L586.7 23.1L599.2 26.0L603.7 26.7L622.3 29.2L637.0 30.7L651.7 31.4L675.0 31.7" stroke="#a3222b" stroke-width="1.25" stroke-dasharray="4.4 3" fill="none"/>
<text x="600.7" y="24.0" class="lb">1d</text>
<text x="591.2" y="55.0" class="lb">4d</text>
<text x="582.0" y="72.1" class="lb">16d</text>
<path d="M41.3 265.9L46.4 274.3L54.5 285.3L61.9 294.0L70.2 302.8L79.5 310.9L89.8 317.8L100.2 323.2L111.8 327.6L123.6 331.2L135.4 333.8L140.6 335.0L159.2 338.3L173.9 339.7L188.6 340.6L209.8 340.9M55.3 266.7L64.8 276.6L73.7 286.0L83.9 294.0L92.7 299.9L100.2 303.5L111.8 307.2L123.6 310.5L133.8 313.4L140.6 314.9L159.2 318.1L173.9 320.0L188.6 320.7L216.3 320.7M88.6 266.7L100.2 271.4L111.8 275.8L123.6 279.5L136.1 282.4L140.6 283.1L159.2 285.6L173.9 287.1L188.6 287.8L211.9 288.1" stroke="#a3222b" stroke-width="1.25" stroke-dasharray="4.4 3" fill="none"/>
<text x="137.6" y="280.4" class="lb">1d</text>
<text x="128.1" y="311.4" class="lb">4d</text>
<text x="118.9" y="328.5" class="lb">16d</text>
<path d="M280.5 266.0L285.6 274.4L293.7 285.4L301.1 294.1L309.4 302.9L318.7 311.0L329.0 317.9L339.4 323.3L351.0 327.7L362.8 331.3L374.6 333.9L379.8 335.1L398.4 338.4L413.1 339.8L427.8 340.7L449.0 341.0M294.5 266.8L304.0 276.7L312.9 286.1L323.1 294.1L331.9 300.0L339.4 303.6L351.0 307.3L362.8 310.6L373.0 313.5L379.8 315.0L398.4 318.2L413.1 320.1L427.8 320.8L455.5 320.8M327.8 266.8L339.4 271.5L351.0 275.9L362.8 279.6L375.3 282.5L379.8 283.2L398.4 285.7L413.1 287.2L427.8 287.9L451.1 288.2" stroke="#a3222b" stroke-width="1.25" stroke-dasharray="4.4 3" fill="none"/>
<text x="376.8" y="280.5" class="lb">1d</text>
<text x="367.3" y="311.5" class="lb">4d</text>
<text x="358.1" y="328.6" class="lb">16d</text>
<path d="M504.4 265.8L509.5 274.2L517.6 285.2L525.0 293.9L533.3 302.7L542.6 310.8L552.9 317.7L563.3 323.1L574.9 327.5L586.7 331.1L598.5 333.7L603.7 334.9L622.3 338.2L637.0 339.6L651.7 340.5L672.9 340.8M518.4 266.6L527.9 276.5L536.8 285.9L547.0 293.9L555.8 299.8L563.3 303.4L574.9 307.1L586.7 310.4L596.9 313.3L603.7 314.8L622.3 318.0L637.0 319.9L651.7 320.6L679.4 320.6M551.7 266.6L563.3 271.3L574.9 275.7L586.7 279.4L599.2 282.3L603.7 283.0L622.3 285.5L637.0 287.0L651.7 287.7L675.0 288.0" stroke="#a3222b" stroke-width="1.25" stroke-dasharray="4.4 3" fill="none"/>
<text x="600.7" y="280.3" class="lb">1d</text>
<text x="591.2" y="311.3" class="lb">4d</text>
<text x="582.0" y="328.4" class="lb">16d</text>
<path d="M41.3 524.0L46.4 532.4L54.5 543.4L61.9 552.1L70.2 560.9L79.5 569.0L89.8 575.9L100.2 581.3L111.8 585.7L123.6 589.3L135.4 591.9L140.6 593.1L159.2 596.4L173.9 597.8L188.6 598.7L209.8 599.0M55.3 524.8L64.8 534.7L73.7 544.1L83.9 552.1L92.7 558.0L100.2 561.6L111.8 565.3L123.6 568.6L133.8 571.5L140.6 573.0L159.2 576.2L173.9 578.1L188.6 578.8L216.3 578.8M88.6 524.8L100.2 529.5L111.8 533.9L123.6 537.6L136.1 540.5L140.6 541.2L159.2 543.7L173.9 545.2L188.6 545.9L211.9 546.2" stroke="#a3222b" stroke-width="1.25" stroke-dasharray="4.4 3" fill="none"/>
<text x="137.6" y="538.5" class="lb">1d</text>
<text x="128.1" y="569.5" class="lb">4d</text>
<text x="118.9" y="586.6" class="lb">16d</text>
<path d="M275.0 524.4L280.1 532.8L288.2 543.8L295.6 552.5L303.9 561.3L313.2 569.4L323.5 576.3L333.9 581.7L345.5 586.1L357.3 589.7L369.1 592.3L374.3 593.5L392.9 596.8L407.6 598.2L422.3 599.1L443.5 599.4M289.0 525.2L298.5 535.1L307.4 544.5L317.6 552.5L326.4 558.4L333.9 562.0L345.5 565.7L357.3 569.0L367.5 571.9L374.3 573.4L392.9 576.6L407.6 578.5L422.3 579.2L450.0 579.2M322.3 525.2L333.9 529.9L345.5 534.3L357.3 538.0L369.8 540.9L374.3 541.6L392.9 544.1L407.6 545.6L422.3 546.3L445.6 546.6" stroke="#a3222b" stroke-width="1.25" stroke-dasharray="4.4 3" fill="none"/>
<text x="371.3" y="538.9" class="lb">1d</text>
<text x="361.8" y="569.9" class="lb">4d</text>
<text x="352.6" y="587.0" class="lb">16d</text>
<path d="M504.4 523.9L509.5 532.3L517.6 543.3L525.0 552.0L533.3 560.8L542.6 568.9L552.9 575.8L563.3 581.2L574.9 585.6L586.7 589.2L598.5 591.8L603.7 593.0L622.3 596.3L637.0 597.7L651.7 598.6L672.9 598.9M518.4 524.7L527.9 534.6L536.8 544.0L547.0 552.0L555.8 557.9L563.3 561.5L574.9 565.2L586.7 568.5L596.9 571.4L603.7 572.9L622.3 576.1L637.0 578.0L651.7 578.7L679.4 578.7M551.7 524.7L563.3 529.4L574.9 533.8L586.7 537.5L599.2 540.4L603.7 541.1L622.3 543.6L637.0 545.1L651.7 545.8L675.0 546.1" stroke="#a3222b" stroke-width="1.25" stroke-dasharray="4.4 3" fill="none"/>
<text x="600.7" y="538.4" class="lb">1d</text>
<text x="591.2" y="569.4" class="lb">4d</text>
<text x="582.0" y="586.5" class="lb">16d</text>
<text x="29.4" y="14.3" class="tk" text-anchor="end">100</text>
<text x="29.4" y="53.7" class="tk" text-anchor="end">90</text>
<text x="29.4" y="93.1" class="tk" text-anchor="end">80</text>
<text x="29.4" y="132.5" class="tk" text-anchor="end">70</text>
<text x="29.4" y="171.9" class="tk" text-anchor="end">60</text>
<text x="29.4" y="211.3" class="tk" text-anchor="end">50</text>
<text x="40.7" y="225.7" class="tk" text-anchor="middle">0</text>
<text x="70.1" y="225.7" class="tk" text-anchor="middle">5</text>
<text x="99.5" y="225.7" class="tk" text-anchor="middle">10</text>
<text x="128.9" y="225.7" class="tk" text-anchor="middle">15</text>
<text x="158.3" y="225.7" class="tk" text-anchor="middle">20</text>
<text x="187.7" y="225.7" class="tk" text-anchor="middle">25</text>
<text x="217.1" y="225.7" class="tk" text-anchor="middle">30</text>
<text transform="translate(11.0,76.4) rotate(-90)" class="rh">RH (%)</text>
<text x="167.9" y="243.0" class="ax">T (°C)</text>
<text x="129.4" y="243.0" class="tt" text-anchor="end">(XPS) 2006</text>
<text x="259.8" y="14.3" class="tk" text-anchor="end">100</text>
<text x="259.8" y="53.7" class="tk" text-anchor="end">90</text>
<text x="259.8" y="93.1" class="tk" text-anchor="end">80</text>
<text x="259.8" y="132.5" class="tk" text-anchor="end">70</text>
<text x="259.8" y="171.9" class="tk" text-anchor="end">60</text>
<text x="259.8" y="211.3" class="tk" text-anchor="end">50</text>
<text x="271.1" y="225.7" class="tk" text-anchor="middle">0</text>
<text x="300.6" y="225.7" class="tk" text-anchor="middle">5</text>
<text x="330.1" y="225.7" class="tk" text-anchor="middle">10</text>
<text x="359.6" y="225.7" class="tk" text-anchor="middle">15</text>
<text x="389.1" y="225.7" class="tk" text-anchor="middle">20</text>
<text x="418.6" y="225.7" class="tk" text-anchor="middle">25</text>
<text x="448.1" y="225.7" class="tk" text-anchor="middle">30</text>
<text transform="translate(241.4,76.4) rotate(-90)" class="rh">RH (%)</text>
<text x="398.3" y="243.2" class="ax">T (°C)</text>
<text x="367.4" y="243.2" class="tt" text-anchor="end">(XPS) 2061TT</text>
<text x="490.0" y="11.3" class="tk" text-anchor="end">100</text>
<text x="490.0" y="50.7" class="tk" text-anchor="end">90</text>
<text x="490.0" y="90.1" class="tk" text-anchor="end">80</text>
<text x="490.0" y="129.5" class="tk" text-anchor="end">70</text>
<text x="490.0" y="168.9" class="tk" text-anchor="end">60</text>
<text x="490.0" y="208.3" class="tk" text-anchor="end">50</text>
<text x="501.3" y="222.7" class="tk" text-anchor="middle">0</text>
<text x="530.8" y="222.7" class="tk" text-anchor="middle">5</text>
<text x="560.2" y="222.7" class="tk" text-anchor="middle">10</text>
<text x="589.6" y="222.7" class="tk" text-anchor="middle">15</text>
<text x="619.1" y="222.7" class="tk" text-anchor="middle">20</text>
<text x="648.5" y="222.7" class="tk" text-anchor="middle">25</text>
<text x="678.0" y="222.7" class="tk" text-anchor="middle">30</text>
<text transform="translate(471.6,73.4) rotate(-90)" class="rh">RH (%)</text>
<text x="628.5" y="240.6" class="ax">T (°C)</text>
<text x="596.1" y="240.6" class="tt" text-anchor="end">(XPS) 2061ET</text>
<text x="29.4" y="271.3" class="tk" text-anchor="end">100</text>
<text x="29.4" y="310.5" class="tk" text-anchor="end">90</text>
<text x="29.4" y="349.7" class="tk" text-anchor="end">80</text>
<text x="29.4" y="388.9" class="tk" text-anchor="end">70</text>
<text x="29.4" y="428.1" class="tk" text-anchor="end">60</text>
<text x="29.4" y="467.3" class="tk" text-anchor="end">50</text>
<text x="40.7" y="481.7" class="tk" text-anchor="middle">0</text>
<text x="70.1" y="481.7" class="tk" text-anchor="middle">5</text>
<text x="99.5" y="481.7" class="tk" text-anchor="middle">10</text>
<text x="128.9" y="481.7" class="tk" text-anchor="middle">15</text>
<text x="158.3" y="481.7" class="tk" text-anchor="middle">20</text>
<text x="187.7" y="481.7" class="tk" text-anchor="middle">25</text>
<text x="217.1" y="481.7" class="tk" text-anchor="middle">30</text>
<text transform="translate(11.0,333.4) rotate(-90)" class="rh">RH (%)</text>
<text x="167.9" y="499.5" class="ax">T (°C)</text>
<text x="128.8" y="499.5" class="tt" text-anchor="end">(CSB) 2006</text>
<text x="259.8" y="271.3" class="tk" text-anchor="end">100</text>
<text x="259.8" y="310.5" class="tk" text-anchor="end">90</text>
<text x="259.8" y="349.7" class="tk" text-anchor="end">80</text>
<text x="259.8" y="388.9" class="tk" text-anchor="end">70</text>
<text x="259.8" y="428.1" class="tk" text-anchor="end">60</text>
<text x="259.8" y="467.3" class="tk" text-anchor="end">50</text>
<text x="271.1" y="481.7" class="tk" text-anchor="middle">0</text>
<text x="300.6" y="481.7" class="tk" text-anchor="middle">5</text>
<text x="330.1" y="481.7" class="tk" text-anchor="middle">10</text>
<text x="359.6" y="481.7" class="tk" text-anchor="middle">15</text>
<text x="389.1" y="481.7" class="tk" text-anchor="middle">20</text>
<text x="418.6" y="481.7" class="tk" text-anchor="middle">25</text>
<text x="448.1" y="481.7" class="tk" text-anchor="middle">30</text>
<text transform="translate(241.4,333.4) rotate(-90)" class="rh">RH (%)</text>
<text x="398.3" y="499.5" class="ax">T (°C)</text>
<text x="367.4" y="499.5" class="tt" text-anchor="end">(CSB) 2061TT</text>
<text x="490.0" y="267.3" class="tk" text-anchor="end">100</text>
<text x="490.0" y="306.7" class="tk" text-anchor="end">90</text>
<text x="490.0" y="346.1" class="tk" text-anchor="end">80</text>
<text x="490.0" y="385.5" class="tk" text-anchor="end">70</text>
<text x="490.0" y="424.9" class="tk" text-anchor="end">60</text>
<text x="490.0" y="464.3" class="tk" text-anchor="end">50</text>
<text x="501.3" y="478.7" class="tk" text-anchor="middle">0</text>
<text x="530.8" y="478.7" class="tk" text-anchor="middle">5</text>
<text x="560.2" y="478.7" class="tk" text-anchor="middle">10</text>
<text x="589.6" y="478.7" class="tk" text-anchor="middle">15</text>
<text x="619.1" y="478.7" class="tk" text-anchor="middle">20</text>
<text x="648.5" y="478.7" class="tk" text-anchor="middle">25</text>
<text x="678.0" y="478.7" class="tk" text-anchor="middle">30</text>
<text transform="translate(471.6,329.4) rotate(-90)" class="rh">RH (%)</text>
<text x="628.5" y="496.3" class="ax">T (°C)</text>
<text x="596.6" y="496.3" class="tt" text-anchor="end">(CSB) 2061ET</text>
<text x="29.4" y="529.3" class="tk" text-anchor="end">100</text>
<text x="29.4" y="568.7" class="tk" text-anchor="end">90</text>
<text x="29.4" y="608.1" class="tk" text-anchor="end">80</text>
<text x="29.4" y="647.5" class="tk" text-anchor="end">70</text>
<text x="29.4" y="686.9" class="tk" text-anchor="end">60</text>
<text x="29.4" y="726.3" class="tk" text-anchor="end">50</text>
<text x="40.7" y="740.7" class="tk" text-anchor="middle">0</text>
<text x="70.1" y="740.7" class="tk" text-anchor="middle">5</text>
<text x="99.5" y="740.7" class="tk" text-anchor="middle">10</text>
<text x="128.9" y="740.7" class="tk" text-anchor="middle">15</text>
<text x="158.3" y="740.7" class="tk" text-anchor="middle">20</text>
<text x="187.7" y="740.7" class="tk" text-anchor="middle">25</text>
<text x="217.1" y="740.7" class="tk" text-anchor="middle">30</text>
<text transform="translate(11.0,591.4) rotate(-90)" class="rh">RH (%)</text>
<text x="167.9" y="758.3" class="ax">T (°C)</text>
<text x="144.7" y="758.3" class="tt" text-anchor="end">(uninsulated) 2006</text>
<text x="259.2" y="529.3" class="tk" text-anchor="end">100</text>
<text x="259.2" y="568.7" class="tk" text-anchor="end">90</text>
<text x="259.2" y="608.1" class="tk" text-anchor="end">80</text>
<text x="259.2" y="647.5" class="tk" text-anchor="end">70</text>
<text x="259.2" y="686.9" class="tk" text-anchor="end">60</text>
<text x="259.2" y="726.3" class="tk" text-anchor="end">50</text>
<text x="270.5" y="740.7" class="tk" text-anchor="middle">0</text>
<text x="300.1" y="740.7" class="tk" text-anchor="middle">5</text>
<text x="329.8" y="740.7" class="tk" text-anchor="middle">10</text>
<text x="359.4" y="740.7" class="tk" text-anchor="middle">15</text>
<text x="389.1" y="740.7" class="tk" text-anchor="middle">20</text>
<text x="418.8" y="740.7" class="tk" text-anchor="middle">25</text>
<text x="448.4" y="740.7" class="tk" text-anchor="middle">30</text>
<text transform="translate(240.8,591.4) rotate(-90)" class="rh">RH (%)</text>
<text x="397.7" y="758.3" class="ax">T (°C)</text>
<text x="382.0" y="758.3" class="tt" text-anchor="end">(uninsulated) 2061TT</text>
<text x="489.2" y="526.3" class="tk" text-anchor="end">100</text>
<text x="489.2" y="566.1" class="tk" text-anchor="end">90</text>
<text x="489.2" y="605.9" class="tk" text-anchor="end">80</text>
<text x="489.2" y="645.7" class="tk" text-anchor="end">70</text>
<text x="489.2" y="685.5" class="tk" text-anchor="end">60</text>
<text x="489.2" y="725.3" class="tk" text-anchor="end">50</text>
<text x="500.5" y="739.7" class="tk" text-anchor="middle">0</text>
<text x="530.2" y="739.7" class="tk" text-anchor="middle">5</text>
<text x="559.8" y="739.7" class="tk" text-anchor="middle">10</text>
<text x="589.5" y="739.7" class="tk" text-anchor="middle">15</text>
<text x="619.2" y="739.7" class="tk" text-anchor="middle">20</text>
<text x="648.8" y="739.7" class="tk" text-anchor="middle">25</text>
<text x="678.5" y="739.7" class="tk" text-anchor="middle">30</text>
<text transform="translate(470.8,588.4) rotate(-90)" class="rh">RH (%)</text>
<text x="627.7" y="755.5" class="ax">T (°C)</text>
<text x="612.0" y="755.5" class="tt" text-anchor="end">(uninsulated) 2061ET</text>
</svg>
</body></html>
